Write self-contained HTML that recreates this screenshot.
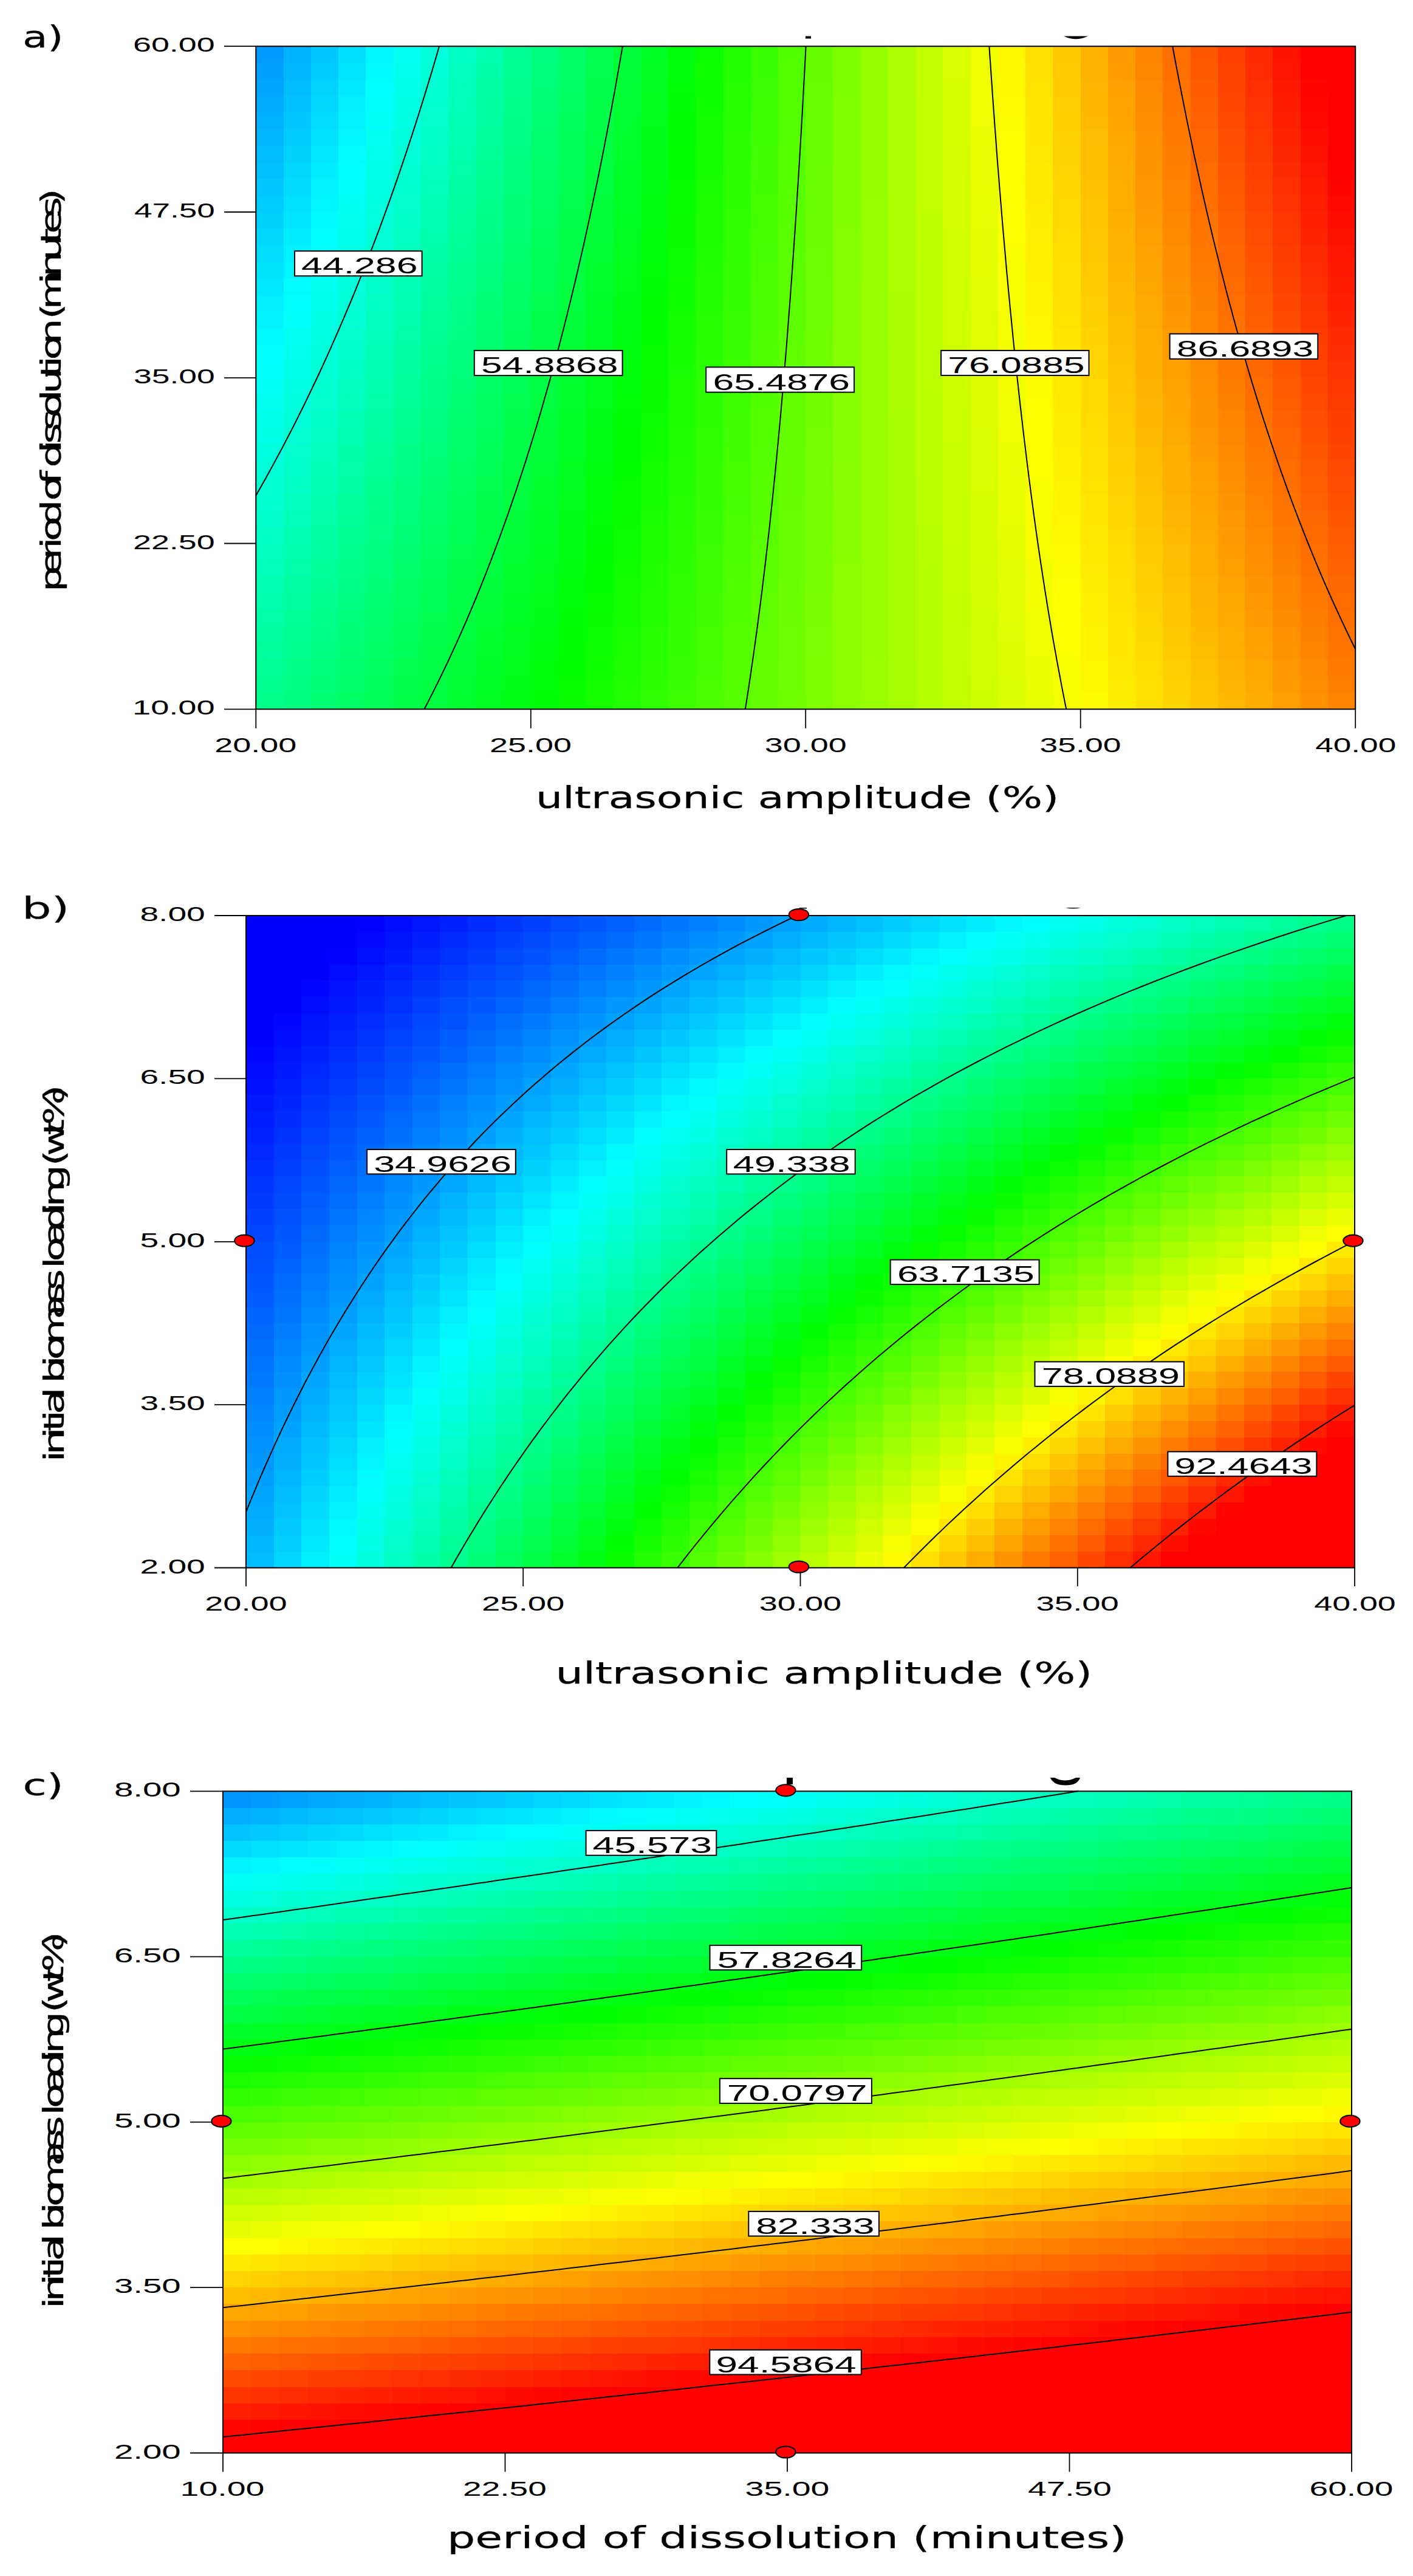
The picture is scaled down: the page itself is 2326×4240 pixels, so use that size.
<!DOCTYPE html>
<html lang="en"><head><meta charset="utf-8"><title>Contour plots</title>
<style>html,body{margin:0;padding:0;background:#fff}svg{display:block}text{fill:#000;stroke:#000}.n{font-family:"Liberation Sans",Arial,sans-serif;stroke:none}.t{font-family:"DejaVu Sans","Liberation Sans",sans-serif;stroke-width:.25px}</style></head>
<body>
<svg width="2326" height="4240" viewBox="0 0 2326 4240">
<rect width="2326" height="4240" fill="#fff"/>
<g shape-rendering="crispEdges" transform="translate(421.3 76.2) scale(45.24750 27.27750)">
<rect x="0" y="0" width="1" height="1" fill="#009bff"/><rect x="1" y="0" width="1" height="1" fill="#00b2ff"/><rect x="2" y="0" width="1" height="1" fill="#00c8ff"/><rect x="3" y="0" width="1" height="1" fill="#00dfff"/><rect x="4" y="0" width="1" height="1" fill="#00f6ff"/><rect x="5" y="0" width="1" height="1" fill="#00fff1"/><rect x="6" y="0" width="1" height="1" fill="#00ffda"/><rect x="7" y="0" width="1" height="1" fill="#00ffc3"/><rect x="8" y="0" width="1" height="1" fill="#00ffac"/><rect x="9" y="0" width="1" height="1" fill="#00ff95"/><rect x="10" y="0" width="1" height="1" fill="#00ff7e"/><rect x="11" y="0" width="1" height="1" fill="#00ff67"/><rect x="12" y="0" width="1" height="1" fill="#00ff51"/><rect x="13" y="0" width="1" height="1" fill="#00ff3a"/><rect x="14" y="0" width="1" height="1" fill="#00ff23"/><rect x="15" y="0" width="1" height="1" fill="#00ff0c"/><rect x="16" y="0" width="1" height="1" fill="#0bff00"/><rect x="17" y="0" width="1" height="1" fill="#22ff00"/><rect x="18" y="0" width="1" height="1" fill="#39ff00"/><rect x="19" y="0" width="1" height="1" fill="#50ff00"/><rect x="20" y="0" width="1" height="1" fill="#67ff00"/><rect x="21" y="0" width="1" height="1" fill="#7eff00"/><rect x="22" y="0" width="1" height="1" fill="#95ff00"/><rect x="23" y="0" width="1" height="1" fill="#abff00"/><rect x="24" y="0" width="1" height="1" fill="#c2ff00"/><rect x="25" y="0" width="1" height="1" fill="#d9ff00"/><rect x="26" y="0" width="1" height="1" fill="#f0ff00"/><rect x="27" y="0" width="1" height="1" fill="#fff700"/><rect x="28" y="0" width="1" height="1" fill="#ffe000"/><rect x="29" y="0" width="1" height="1" fill="#ffc900"/><rect x="30" y="0" width="1" height="1" fill="#ffb200"/><rect x="31" y="0" width="1" height="1" fill="#ff9b00"/><rect x="32" y="0" width="1" height="1" fill="#ff8400"/><rect x="33" y="0" width="1" height="1" fill="#ff6e00"/><rect x="34" y="0" width="1" height="1" fill="#ff5700"/><rect x="35" y="0" width="1" height="1" fill="#ff4000"/><rect x="36" y="0" width="1" height="1" fill="#ff2900"/><rect x="37" y="0" width="1" height="1" fill="#ff1200"/><rect x="38" y="0" width="2" height="1" fill="#ff0000"/>
<rect x="0" y="1" width="1" height="1" fill="#00a0ff"/><rect x="1" y="1" width="1" height="1" fill="#00b7ff"/><rect x="2" y="1" width="1" height="1" fill="#00cdff"/><rect x="3" y="1" width="1" height="1" fill="#00e4ff"/><rect x="4" y="1" width="1" height="1" fill="#00fbff"/><rect x="5" y="1" width="1" height="1" fill="#00ffed"/><rect x="6" y="1" width="1" height="1" fill="#00ffd6"/><rect x="7" y="1" width="1" height="1" fill="#00ffbf"/><rect x="8" y="1" width="1" height="1" fill="#00ffa9"/><rect x="9" y="1" width="1" height="1" fill="#00ff92"/><rect x="10" y="1" width="1" height="1" fill="#00ff7b"/><rect x="11" y="1" width="1" height="1" fill="#00ff65"/><rect x="12" y="1" width="1" height="1" fill="#00ff4e"/><rect x="13" y="1" width="1" height="1" fill="#00ff37"/><rect x="14" y="1" width="1" height="1" fill="#00ff21"/><rect x="15" y="1" width="1" height="1" fill="#00ff0a"/><rect x="16" y="1" width="1" height="1" fill="#0dff00"/><rect x="17" y="1" width="1" height="1" fill="#23ff00"/><rect x="18" y="1" width="1" height="1" fill="#3aff00"/><rect x="19" y="1" width="1" height="1" fill="#51ff00"/><rect x="20" y="1" width="1" height="1" fill="#67ff00"/><rect x="21" y="1" width="1" height="1" fill="#7eff00"/><rect x="22" y="1" width="1" height="1" fill="#95ff00"/><rect x="23" y="1" width="1" height="1" fill="#abff00"/><rect x="24" y="1" width="1" height="1" fill="#c2ff00"/><rect x="25" y="1" width="1" height="1" fill="#d9ff00"/><rect x="26" y="1" width="1" height="1" fill="#efff00"/><rect x="27" y="1" width="1" height="1" fill="#fff800"/><rect x="28" y="1" width="1" height="1" fill="#ffe100"/><rect x="29" y="1" width="1" height="1" fill="#ffcb00"/><rect x="30" y="1" width="1" height="1" fill="#ffb400"/><rect x="31" y="1" width="1" height="1" fill="#ff9d00"/><rect x="32" y="1" width="1" height="1" fill="#ff8700"/><rect x="33" y="1" width="1" height="1" fill="#ff7000"/><rect x="34" y="1" width="1" height="1" fill="#ff5900"/><rect x="35" y="1" width="1" height="1" fill="#ff4300"/><rect x="36" y="1" width="1" height="1" fill="#ff2c00"/><rect x="37" y="1" width="1" height="1" fill="#ff1500"/><rect x="38" y="1" width="2" height="1" fill="#ff0000"/>
<rect x="0" y="2" width="1" height="1" fill="#00a6ff"/><rect x="1" y="2" width="1" height="1" fill="#00bcff"/><rect x="2" y="2" width="1" height="1" fill="#00d3ff"/><rect x="3" y="2" width="1" height="1" fill="#00e9ff"/><rect x="4" y="2" width="1" height="1" fill="#00ffff"/><rect x="5" y="2" width="1" height="1" fill="#00ffe8"/><rect x="6" y="2" width="1" height="1" fill="#00ffd2"/><rect x="7" y="2" width="1" height="1" fill="#00ffbb"/><rect x="8" y="2" width="1" height="1" fill="#00ffa5"/><rect x="9" y="2" width="1" height="1" fill="#00ff8f"/><rect x="10" y="2" width="1" height="1" fill="#00ff78"/><rect x="11" y="2" width="1" height="1" fill="#00ff62"/><rect x="12" y="2" width="1" height="1" fill="#00ff4b"/><rect x="13" y="2" width="1" height="1" fill="#00ff35"/><rect x="14" y="2" width="1" height="1" fill="#00ff1f"/><rect x="15" y="2" width="1" height="1" fill="#00ff08"/><rect x="16" y="2" width="1" height="1" fill="#0eff00"/><rect x="17" y="2" width="1" height="1" fill="#25ff00"/><rect x="18" y="2" width="1" height="1" fill="#3bff00"/><rect x="19" y="2" width="1" height="1" fill="#52ff00"/><rect x="20" y="2" width="1" height="1" fill="#68ff00"/><rect x="21" y="2" width="1" height="1" fill="#7eff00"/><rect x="22" y="2" width="1" height="1" fill="#95ff00"/><rect x="23" y="2" width="1" height="1" fill="#abff00"/><rect x="24" y="2" width="1" height="1" fill="#c2ff00"/><rect x="25" y="2" width="1" height="1" fill="#d8ff00"/><rect x="26" y="2" width="1" height="1" fill="#eeff00"/><rect x="27" y="2" width="1" height="1" fill="#fff900"/><rect x="28" y="2" width="1" height="1" fill="#ffe300"/><rect x="29" y="2" width="1" height="1" fill="#ffcc00"/><rect x="30" y="2" width="1" height="1" fill="#ffb600"/><rect x="31" y="2" width="1" height="1" fill="#ffa000"/><rect x="32" y="2" width="1" height="1" fill="#ff8900"/><rect x="33" y="2" width="1" height="1" fill="#ff7300"/><rect x="34" y="2" width="1" height="1" fill="#ff5c00"/><rect x="35" y="2" width="1" height="1" fill="#ff4600"/><rect x="36" y="2" width="1" height="1" fill="#ff2f00"/><rect x="37" y="2" width="1" height="1" fill="#ff1900"/><rect x="38" y="2" width="1" height="1" fill="#ff0300"/><rect x="39" y="2" width="1" height="1" fill="#ff0000"/>
<rect x="0" y="3" width="1" height="1" fill="#00abff"/><rect x="1" y="3" width="1" height="1" fill="#00c1ff"/><rect x="2" y="3" width="1" height="1" fill="#00d8ff"/><rect x="3" y="3" width="1" height="1" fill="#00eeff"/><rect x="4" y="3" width="1" height="1" fill="#00fffa"/><rect x="5" y="3" width="1" height="1" fill="#00ffe4"/><rect x="6" y="3" width="1" height="1" fill="#00ffce"/><rect x="7" y="3" width="1" height="1" fill="#00ffb8"/><rect x="8" y="3" width="1" height="1" fill="#00ffa1"/><rect x="9" y="3" width="1" height="1" fill="#00ff8b"/><rect x="10" y="3" width="1" height="1" fill="#00ff75"/><rect x="11" y="3" width="1" height="1" fill="#00ff5f"/><rect x="12" y="3" width="1" height="1" fill="#00ff49"/><rect x="13" y="3" width="1" height="1" fill="#00ff33"/><rect x="14" y="3" width="1" height="1" fill="#00ff1c"/><rect x="15" y="3" width="1" height="1" fill="#00ff06"/><rect x="16" y="3" width="1" height="1" fill="#10ff00"/><rect x="17" y="3" width="1" height="1" fill="#26ff00"/><rect x="18" y="3" width="1" height="1" fill="#3cff00"/><rect x="19" y="3" width="1" height="1" fill="#52ff00"/><rect x="20" y="3" width="1" height="1" fill="#69ff00"/><rect x="21" y="3" width="1" height="1" fill="#7fff00"/><rect x="22" y="3" width="1" height="1" fill="#95ff00"/><rect x="23" y="3" width="1" height="1" fill="#abff00"/><rect x="24" y="3" width="1" height="1" fill="#c1ff00"/><rect x="25" y="3" width="1" height="1" fill="#d7ff00"/><rect x="26" y="3" width="1" height="1" fill="#eeff00"/><rect x="27" y="3" width="1" height="1" fill="#fffa00"/><rect x="28" y="3" width="1" height="1" fill="#ffe400"/><rect x="29" y="3" width="1" height="1" fill="#ffce00"/><rect x="30" y="3" width="1" height="1" fill="#ffb800"/><rect x="31" y="3" width="1" height="1" fill="#ffa200"/><rect x="32" y="3" width="1" height="1" fill="#ff8c00"/><rect x="33" y="3" width="1" height="1" fill="#ff7500"/><rect x="34" y="3" width="1" height="1" fill="#ff5f00"/><rect x="35" y="3" width="1" height="1" fill="#ff4900"/><rect x="36" y="3" width="1" height="1" fill="#ff3300"/><rect x="37" y="3" width="1" height="1" fill="#ff1d00"/><rect x="38" y="3" width="1" height="1" fill="#ff0700"/><rect x="39" y="3" width="1" height="1" fill="#ff0000"/>
<rect x="0" y="4" width="1" height="1" fill="#00b1ff"/><rect x="1" y="4" width="1" height="1" fill="#00c7ff"/><rect x="2" y="4" width="1" height="1" fill="#00ddff"/><rect x="3" y="4" width="1" height="1" fill="#00f3ff"/><rect x="4" y="4" width="1" height="1" fill="#00fff6"/><rect x="5" y="4" width="1" height="1" fill="#00ffe0"/><rect x="6" y="4" width="1" height="1" fill="#00ffca"/><rect x="7" y="4" width="1" height="1" fill="#00ffb4"/><rect x="8" y="4" width="1" height="1" fill="#00ff9e"/><rect x="9" y="4" width="1" height="1" fill="#00ff88"/><rect x="10" y="4" width="1" height="1" fill="#00ff72"/><rect x="11" y="4" width="1" height="1" fill="#00ff5c"/><rect x="12" y="4" width="1" height="1" fill="#00ff46"/><rect x="13" y="4" width="1" height="1" fill="#00ff30"/><rect x="14" y="4" width="1" height="1" fill="#00ff1a"/><rect x="15" y="4" width="1" height="1" fill="#00ff04"/><rect x="16" y="4" width="1" height="1" fill="#11ff00"/><rect x="17" y="4" width="1" height="1" fill="#27ff00"/><rect x="18" y="4" width="1" height="1" fill="#3dff00"/><rect x="19" y="4" width="1" height="1" fill="#53ff00"/><rect x="20" y="4" width="1" height="1" fill="#69ff00"/><rect x="21" y="4" width="1" height="1" fill="#7fff00"/><rect x="22" y="4" width="1" height="1" fill="#95ff00"/><rect x="23" y="4" width="1" height="1" fill="#abff00"/><rect x="24" y="4" width="1" height="1" fill="#c1ff00"/><rect x="25" y="4" width="1" height="1" fill="#d7ff00"/><rect x="26" y="4" width="1" height="1" fill="#edff00"/><rect x="27" y="4" width="1" height="1" fill="#fffb00"/><rect x="28" y="4" width="1" height="1" fill="#ffe600"/><rect x="29" y="4" width="1" height="1" fill="#ffd000"/><rect x="30" y="4" width="1" height="1" fill="#ffba00"/><rect x="31" y="4" width="1" height="1" fill="#ffa400"/><rect x="32" y="4" width="1" height="1" fill="#ff8e00"/><rect x="33" y="4" width="1" height="1" fill="#ff7800"/><rect x="34" y="4" width="1" height="1" fill="#ff6200"/><rect x="35" y="4" width="1" height="1" fill="#ff4c00"/><rect x="36" y="4" width="1" height="1" fill="#ff3600"/><rect x="37" y="4" width="1" height="1" fill="#ff2000"/><rect x="38" y="4" width="1" height="1" fill="#ff0a00"/><rect x="39" y="4" width="1" height="1" fill="#ff0000"/>
<rect x="0" y="5" width="1" height="1" fill="#00b6ff"/><rect x="1" y="5" width="1" height="1" fill="#00ccff"/><rect x="2" y="5" width="1" height="1" fill="#00e2ff"/><rect x="3" y="5" width="1" height="1" fill="#00f7ff"/><rect x="4" y="5" width="1" height="1" fill="#00fff1"/><rect x="5" y="5" width="1" height="1" fill="#00ffdb"/><rect x="6" y="5" width="1" height="1" fill="#00ffc6"/><rect x="7" y="5" width="1" height="1" fill="#00ffb0"/><rect x="8" y="5" width="1" height="1" fill="#00ff9a"/><rect x="9" y="5" width="1" height="1" fill="#00ff85"/><rect x="10" y="5" width="1" height="1" fill="#00ff6f"/><rect x="11" y="5" width="1" height="1" fill="#00ff59"/><rect x="12" y="5" width="1" height="1" fill="#00ff44"/><rect x="13" y="5" width="1" height="1" fill="#00ff2e"/><rect x="14" y="5" width="1" height="1" fill="#00ff18"/><rect x="15" y="5" width="1" height="1" fill="#00ff03"/><rect x="16" y="5" width="1" height="1" fill="#13ff00"/><rect x="17" y="5" width="1" height="1" fill="#29ff00"/><rect x="18" y="5" width="1" height="1" fill="#3eff00"/><rect x="19" y="5" width="1" height="1" fill="#54ff00"/><rect x="20" y="5" width="1" height="1" fill="#6aff00"/><rect x="21" y="5" width="1" height="1" fill="#7fff00"/><rect x="22" y="5" width="1" height="1" fill="#95ff00"/><rect x="23" y="5" width="1" height="1" fill="#abff00"/><rect x="24" y="5" width="1" height="1" fill="#c0ff00"/><rect x="25" y="5" width="1" height="1" fill="#d6ff00"/><rect x="26" y="5" width="1" height="1" fill="#ecff00"/><rect x="27" y="5" width="1" height="1" fill="#fffd00"/><rect x="28" y="5" width="1" height="1" fill="#ffe700"/><rect x="29" y="5" width="1" height="1" fill="#ffd100"/><rect x="30" y="5" width="1" height="1" fill="#ffbc00"/><rect x="31" y="5" width="1" height="1" fill="#ffa600"/><rect x="32" y="5" width="1" height="1" fill="#ff9000"/><rect x="33" y="5" width="1" height="1" fill="#ff7b00"/><rect x="34" y="5" width="1" height="1" fill="#ff6500"/><rect x="35" y="5" width="1" height="1" fill="#ff4f00"/><rect x="36" y="5" width="1" height="1" fill="#ff3a00"/><rect x="37" y="5" width="1" height="1" fill="#ff2400"/><rect x="38" y="5" width="1" height="1" fill="#ff0e00"/><rect x="39" y="5" width="1" height="1" fill="#ff0000"/>
<rect x="0" y="6" width="1" height="1" fill="#00bcff"/><rect x="1" y="6" width="1" height="1" fill="#00d1ff"/><rect x="2" y="6" width="1" height="1" fill="#00e7ff"/><rect x="3" y="6" width="1" height="1" fill="#00fcff"/><rect x="4" y="6" width="1" height="1" fill="#00ffec"/><rect x="5" y="6" width="1" height="1" fill="#00ffd7"/><rect x="6" y="6" width="1" height="1" fill="#00ffc2"/><rect x="7" y="6" width="1" height="1" fill="#00ffac"/><rect x="8" y="6" width="1" height="1" fill="#00ff97"/><rect x="9" y="6" width="1" height="1" fill="#00ff81"/><rect x="10" y="6" width="1" height="1" fill="#00ff6c"/><rect x="11" y="6" width="1" height="1" fill="#00ff56"/><rect x="12" y="6" width="1" height="1" fill="#00ff41"/><rect x="13" y="6" width="1" height="1" fill="#00ff2c"/><rect x="14" y="6" width="1" height="1" fill="#00ff16"/><rect x="15" y="6" width="1" height="1" fill="#00ff01"/><rect x="16" y="6" width="1" height="1" fill="#15ff00"/><rect x="17" y="6" width="1" height="1" fill="#2aff00"/><rect x="18" y="6" width="1" height="1" fill="#3fff00"/><rect x="19" y="6" width="1" height="1" fill="#55ff00"/><rect x="20" y="6" width="1" height="1" fill="#6aff00"/><rect x="21" y="6" width="1" height="1" fill="#80ff00"/><rect x="22" y="6" width="1" height="1" fill="#95ff00"/><rect x="23" y="6" width="1" height="1" fill="#abff00"/><rect x="24" y="6" width="1" height="1" fill="#c0ff00"/><rect x="25" y="6" width="1" height="1" fill="#d5ff00"/><rect x="26" y="6" width="1" height="1" fill="#ebff00"/><rect x="27" y="6" width="1" height="1" fill="#fffe00"/><rect x="28" y="6" width="1" height="1" fill="#ffe800"/><rect x="29" y="6" width="1" height="1" fill="#ffd300"/><rect x="30" y="6" width="1" height="1" fill="#ffbd00"/><rect x="31" y="6" width="1" height="1" fill="#ffa800"/><rect x="32" y="6" width="1" height="1" fill="#ff9300"/><rect x="33" y="6" width="1" height="1" fill="#ff7d00"/><rect x="34" y="6" width="1" height="1" fill="#ff6800"/><rect x="35" y="6" width="1" height="1" fill="#ff5200"/><rect x="36" y="6" width="1" height="1" fill="#ff3d00"/><rect x="37" y="6" width="1" height="1" fill="#ff2700"/><rect x="38" y="6" width="1" height="1" fill="#ff1200"/><rect x="39" y="6" width="1" height="1" fill="#ff0000"/>
<rect x="0" y="7" width="1" height="1" fill="#00c1ff"/><rect x="1" y="7" width="1" height="1" fill="#00d7ff"/><rect x="2" y="7" width="1" height="1" fill="#00ecff"/><rect x="3" y="7" width="1" height="1" fill="#00fffd"/><rect x="4" y="7" width="1" height="1" fill="#00ffe8"/><rect x="5" y="7" width="1" height="1" fill="#00ffd3"/><rect x="6" y="7" width="1" height="1" fill="#00ffbe"/><rect x="7" y="7" width="1" height="1" fill="#00ffa8"/><rect x="8" y="7" width="1" height="1" fill="#00ff93"/><rect x="9" y="7" width="1" height="1" fill="#00ff7e"/><rect x="10" y="7" width="1" height="1" fill="#00ff69"/><rect x="11" y="7" width="1" height="1" fill="#00ff54"/><rect x="12" y="7" width="1" height="1" fill="#00ff3e"/><rect x="13" y="7" width="1" height="1" fill="#00ff29"/><rect x="14" y="7" width="1" height="1" fill="#00ff14"/><rect x="15" y="7" width="1" height="1" fill="#01ff00"/><rect x="16" y="7" width="1" height="1" fill="#16ff00"/><rect x="17" y="7" width="1" height="1" fill="#2bff00"/><rect x="18" y="7" width="1" height="1" fill="#41ff00"/><rect x="19" y="7" width="1" height="1" fill="#56ff00"/><rect x="20" y="7" width="1" height="1" fill="#6bff00"/><rect x="21" y="7" width="1" height="1" fill="#80ff00"/><rect x="22" y="7" width="1" height="1" fill="#95ff00"/><rect x="23" y="7" width="1" height="1" fill="#aaff00"/><rect x="24" y="7" width="1" height="1" fill="#c0ff00"/><rect x="25" y="7" width="1" height="1" fill="#d5ff00"/><rect x="26" y="7" width="1" height="1" fill="#eaff00"/><rect x="27" y="7" width="1" height="1" fill="#ffff00"/><rect x="28" y="7" width="1" height="1" fill="#ffea00"/><rect x="29" y="7" width="1" height="1" fill="#ffd400"/><rect x="30" y="7" width="1" height="1" fill="#ffbf00"/><rect x="31" y="7" width="1" height="1" fill="#ffaa00"/><rect x="32" y="7" width="1" height="1" fill="#ff9500"/><rect x="33" y="7" width="1" height="1" fill="#ff8000"/><rect x="34" y="7" width="1" height="1" fill="#ff6b00"/><rect x="35" y="7" width="1" height="1" fill="#ff5500"/><rect x="36" y="7" width="1" height="1" fill="#ff4000"/><rect x="37" y="7" width="1" height="1" fill="#ff2b00"/><rect x="38" y="7" width="1" height="1" fill="#ff1600"/><rect x="39" y="7" width="1" height="1" fill="#ff0100"/>
<rect x="0" y="8" width="1" height="1" fill="#00c7ff"/><rect x="1" y="8" width="1" height="1" fill="#00dcff"/><rect x="2" y="8" width="1" height="1" fill="#00f1ff"/><rect x="3" y="8" width="1" height="1" fill="#00fff8"/><rect x="4" y="8" width="1" height="1" fill="#00ffe3"/><rect x="5" y="8" width="1" height="1" fill="#00ffce"/><rect x="6" y="8" width="1" height="1" fill="#00ffb9"/><rect x="7" y="8" width="1" height="1" fill="#00ffa5"/><rect x="8" y="8" width="1" height="1" fill="#00ff90"/><rect x="9" y="8" width="1" height="1" fill="#00ff7b"/><rect x="10" y="8" width="1" height="1" fill="#00ff66"/><rect x="11" y="8" width="1" height="1" fill="#00ff51"/><rect x="12" y="8" width="1" height="1" fill="#00ff3c"/><rect x="13" y="8" width="1" height="1" fill="#00ff27"/><rect x="14" y="8" width="1" height="1" fill="#00ff12"/><rect x="15" y="8" width="1" height="1" fill="#03ff00"/><rect x="16" y="8" width="1" height="1" fill="#18ff00"/><rect x="17" y="8" width="1" height="1" fill="#2dff00"/><rect x="18" y="8" width="1" height="1" fill="#42ff00"/><rect x="19" y="8" width="1" height="1" fill="#57ff00"/><rect x="20" y="8" width="1" height="1" fill="#6cff00"/><rect x="21" y="8" width="1" height="1" fill="#80ff00"/><rect x="22" y="8" width="1" height="1" fill="#95ff00"/><rect x="23" y="8" width="1" height="1" fill="#aaff00"/><rect x="24" y="8" width="1" height="1" fill="#bfff00"/><rect x="25" y="8" width="1" height="1" fill="#d4ff00"/><rect x="26" y="8" width="1" height="1" fill="#e9ff00"/><rect x="27" y="8" width="1" height="1" fill="#feff00"/><rect x="28" y="8" width="1" height="1" fill="#ffeb00"/><rect x="29" y="8" width="1" height="1" fill="#ffd600"/><rect x="30" y="8" width="1" height="1" fill="#ffc100"/><rect x="31" y="8" width="1" height="1" fill="#ffac00"/><rect x="32" y="8" width="1" height="1" fill="#ff9700"/><rect x="33" y="8" width="1" height="1" fill="#ff8200"/><rect x="34" y="8" width="1" height="1" fill="#ff6d00"/><rect x="35" y="8" width="1" height="1" fill="#ff5900"/><rect x="36" y="8" width="1" height="1" fill="#ff4400"/><rect x="37" y="8" width="1" height="1" fill="#ff2f00"/><rect x="38" y="8" width="1" height="1" fill="#ff1a00"/><rect x="39" y="8" width="1" height="1" fill="#ff0500"/>
<rect x="0" y="9" width="1" height="1" fill="#00cdff"/><rect x="1" y="9" width="1" height="1" fill="#00e1ff"/><rect x="2" y="9" width="1" height="1" fill="#00f6ff"/><rect x="3" y="9" width="1" height="1" fill="#00fff3"/><rect x="4" y="9" width="1" height="1" fill="#00ffdf"/><rect x="5" y="9" width="1" height="1" fill="#00ffca"/><rect x="6" y="9" width="1" height="1" fill="#00ffb5"/><rect x="7" y="9" width="1" height="1" fill="#00ffa1"/><rect x="8" y="9" width="1" height="1" fill="#00ff8c"/><rect x="9" y="9" width="1" height="1" fill="#00ff77"/><rect x="10" y="9" width="1" height="1" fill="#00ff63"/><rect x="11" y="9" width="1" height="1" fill="#00ff4e"/><rect x="12" y="9" width="1" height="1" fill="#00ff39"/><rect x="13" y="9" width="1" height="1" fill="#00ff25"/><rect x="14" y="9" width="1" height="1" fill="#00ff10"/><rect x="15" y="9" width="1" height="1" fill="#05ff00"/><rect x="16" y="9" width="1" height="1" fill="#19ff00"/><rect x="17" y="9" width="1" height="1" fill="#2eff00"/><rect x="18" y="9" width="1" height="1" fill="#43ff00"/><rect x="19" y="9" width="1" height="1" fill="#57ff00"/><rect x="20" y="9" width="1" height="1" fill="#6cff00"/><rect x="21" y="9" width="1" height="1" fill="#81ff00"/><rect x="22" y="9" width="1" height="1" fill="#96ff00"/><rect x="23" y="9" width="1" height="1" fill="#aaff00"/><rect x="24" y="9" width="1" height="1" fill="#bfff00"/><rect x="25" y="9" width="1" height="1" fill="#d4ff00"/><rect x="26" y="9" width="1" height="1" fill="#e8ff00"/><rect x="27" y="9" width="1" height="1" fill="#fdff00"/><rect x="28" y="9" width="1" height="1" fill="#ffec00"/><rect x="29" y="9" width="1" height="1" fill="#ffd800"/><rect x="30" y="9" width="1" height="1" fill="#ffc300"/><rect x="31" y="9" width="1" height="1" fill="#ffae00"/><rect x="32" y="9" width="1" height="1" fill="#ff9a00"/><rect x="33" y="9" width="1" height="1" fill="#ff8500"/><rect x="34" y="9" width="1" height="1" fill="#ff7000"/><rect x="35" y="9" width="1" height="1" fill="#ff5c00"/><rect x="36" y="9" width="1" height="1" fill="#ff4700"/><rect x="37" y="9" width="1" height="1" fill="#ff3200"/><rect x="38" y="9" width="1" height="1" fill="#ff1e00"/><rect x="39" y="9" width="1" height="1" fill="#ff0900"/>
<rect x="0" y="10" width="1" height="1" fill="#00d2ff"/><rect x="1" y="10" width="1" height="1" fill="#00e6ff"/><rect x="2" y="10" width="1" height="1" fill="#00fbff"/><rect x="3" y="10" width="1" height="1" fill="#00ffef"/><rect x="4" y="10" width="1" height="1" fill="#00ffda"/><rect x="5" y="10" width="1" height="1" fill="#00ffc6"/><rect x="6" y="10" width="1" height="1" fill="#00ffb1"/><rect x="7" y="10" width="1" height="1" fill="#00ff9d"/><rect x="8" y="10" width="1" height="1" fill="#00ff88"/><rect x="9" y="10" width="1" height="1" fill="#00ff74"/><rect x="10" y="10" width="1" height="1" fill="#00ff60"/><rect x="11" y="10" width="1" height="1" fill="#00ff4b"/><rect x="12" y="10" width="1" height="1" fill="#00ff37"/><rect x="13" y="10" width="1" height="1" fill="#00ff22"/><rect x="14" y="10" width="1" height="1" fill="#00ff0e"/><rect x="15" y="10" width="1" height="1" fill="#07ff00"/><rect x="16" y="10" width="1" height="1" fill="#1bff00"/><rect x="17" y="10" width="1" height="1" fill="#2fff00"/><rect x="18" y="10" width="1" height="1" fill="#44ff00"/><rect x="19" y="10" width="1" height="1" fill="#58ff00"/><rect x="20" y="10" width="1" height="1" fill="#6dff00"/><rect x="21" y="10" width="1" height="1" fill="#81ff00"/><rect x="22" y="10" width="1" height="1" fill="#96ff00"/><rect x="23" y="10" width="1" height="1" fill="#aaff00"/><rect x="24" y="10" width="1" height="1" fill="#beff00"/><rect x="25" y="10" width="1" height="1" fill="#d3ff00"/><rect x="26" y="10" width="1" height="1" fill="#e7ff00"/><rect x="27" y="10" width="1" height="1" fill="#fcff00"/><rect x="28" y="10" width="1" height="1" fill="#ffee00"/><rect x="29" y="10" width="1" height="1" fill="#ffd900"/><rect x="30" y="10" width="1" height="1" fill="#ffc500"/><rect x="31" y="10" width="1" height="1" fill="#ffb000"/><rect x="32" y="10" width="1" height="1" fill="#ff9c00"/><rect x="33" y="10" width="1" height="1" fill="#ff8800"/><rect x="34" y="10" width="1" height="1" fill="#ff7300"/><rect x="35" y="10" width="1" height="1" fill="#ff5f00"/><rect x="36" y="10" width="1" height="1" fill="#ff4a00"/><rect x="37" y="10" width="1" height="1" fill="#ff3600"/><rect x="38" y="10" width="1" height="1" fill="#ff2100"/><rect x="39" y="10" width="1" height="1" fill="#ff0d00"/>
<rect x="0" y="11" width="1" height="1" fill="#00d8ff"/><rect x="1" y="11" width="1" height="1" fill="#00ecff"/><rect x="2" y="11" width="1" height="1" fill="#00fffe"/><rect x="3" y="11" width="1" height="1" fill="#00ffea"/><rect x="4" y="11" width="1" height="1" fill="#00ffd6"/><rect x="5" y="11" width="1" height="1" fill="#00ffc1"/><rect x="6" y="11" width="1" height="1" fill="#00ffad"/><rect x="7" y="11" width="1" height="1" fill="#00ff99"/><rect x="8" y="11" width="1" height="1" fill="#00ff85"/><rect x="9" y="11" width="1" height="1" fill="#00ff71"/><rect x="10" y="11" width="1" height="1" fill="#00ff5d"/><rect x="11" y="11" width="1" height="1" fill="#00ff48"/><rect x="12" y="11" width="1" height="1" fill="#00ff34"/><rect x="13" y="11" width="1" height="1" fill="#00ff20"/><rect x="14" y="11" width="1" height="1" fill="#00ff0c"/><rect x="15" y="11" width="1" height="1" fill="#08ff00"/><rect x="16" y="11" width="1" height="1" fill="#1dff00"/><rect x="17" y="11" width="1" height="1" fill="#31ff00"/><rect x="18" y="11" width="1" height="1" fill="#45ff00"/><rect x="19" y="11" width="1" height="1" fill="#59ff00"/><rect x="20" y="11" width="1" height="1" fill="#6dff00"/><rect x="21" y="11" width="1" height="1" fill="#82ff00"/><rect x="22" y="11" width="1" height="1" fill="#96ff00"/><rect x="23" y="11" width="1" height="1" fill="#aaff00"/><rect x="24" y="11" width="1" height="1" fill="#beff00"/><rect x="25" y="11" width="1" height="1" fill="#d2ff00"/><rect x="26" y="11" width="1" height="1" fill="#e6ff00"/><rect x="27" y="11" width="1" height="1" fill="#fbff00"/><rect x="28" y="11" width="1" height="1" fill="#ffef00"/><rect x="29" y="11" width="1" height="1" fill="#ffdb00"/><rect x="30" y="11" width="1" height="1" fill="#ffc700"/><rect x="31" y="11" width="1" height="1" fill="#ffb300"/><rect x="32" y="11" width="1" height="1" fill="#ff9e00"/><rect x="33" y="11" width="1" height="1" fill="#ff8a00"/><rect x="34" y="11" width="1" height="1" fill="#ff7600"/><rect x="35" y="11" width="1" height="1" fill="#ff6200"/><rect x="36" y="11" width="1" height="1" fill="#ff4e00"/><rect x="37" y="11" width="1" height="1" fill="#ff3900"/><rect x="38" y="11" width="1" height="1" fill="#ff2500"/><rect x="39" y="11" width="1" height="1" fill="#ff1100"/>
<rect x="0" y="12" width="1" height="1" fill="#00ddff"/><rect x="1" y="12" width="1" height="1" fill="#00f1ff"/><rect x="2" y="12" width="1" height="1" fill="#00fff9"/><rect x="3" y="12" width="1" height="1" fill="#00ffe5"/><rect x="4" y="12" width="1" height="1" fill="#00ffd1"/><rect x="5" y="12" width="1" height="1" fill="#00ffbd"/><rect x="6" y="12" width="1" height="1" fill="#00ffa9"/><rect x="7" y="12" width="1" height="1" fill="#00ff95"/><rect x="8" y="12" width="1" height="1" fill="#00ff81"/><rect x="9" y="12" width="1" height="1" fill="#00ff6d"/><rect x="10" y="12" width="1" height="1" fill="#00ff59"/><rect x="11" y="12" width="1" height="1" fill="#00ff46"/><rect x="12" y="12" width="1" height="1" fill="#00ff32"/><rect x="13" y="12" width="1" height="1" fill="#00ff1e"/><rect x="14" y="12" width="1" height="1" fill="#00ff0a"/><rect x="15" y="12" width="1" height="1" fill="#0aff00"/><rect x="16" y="12" width="1" height="1" fill="#1eff00"/><rect x="17" y="12" width="1" height="1" fill="#32ff00"/><rect x="18" y="12" width="1" height="1" fill="#46ff00"/><rect x="19" y="12" width="1" height="1" fill="#5aff00"/><rect x="20" y="12" width="1" height="1" fill="#6eff00"/><rect x="21" y="12" width="1" height="1" fill="#82ff00"/><rect x="22" y="12" width="1" height="1" fill="#96ff00"/><rect x="23" y="12" width="1" height="1" fill="#aaff00"/><rect x="24" y="12" width="1" height="1" fill="#beff00"/><rect x="25" y="12" width="1" height="1" fill="#d2ff00"/><rect x="26" y="12" width="1" height="1" fill="#e6ff00"/><rect x="27" y="12" width="1" height="1" fill="#faff00"/><rect x="28" y="12" width="1" height="1" fill="#fff100"/><rect x="29" y="12" width="1" height="1" fill="#ffdd00"/><rect x="30" y="12" width="1" height="1" fill="#ffc900"/><rect x="31" y="12" width="1" height="1" fill="#ffb500"/><rect x="32" y="12" width="1" height="1" fill="#ffa100"/><rect x="33" y="12" width="1" height="1" fill="#ff8d00"/><rect x="34" y="12" width="1" height="1" fill="#ff7900"/><rect x="35" y="12" width="1" height="1" fill="#ff6500"/><rect x="36" y="12" width="1" height="1" fill="#ff5100"/><rect x="37" y="12" width="1" height="1" fill="#ff3d00"/><rect x="38" y="12" width="1" height="1" fill="#ff2900"/><rect x="39" y="12" width="1" height="1" fill="#ff1500"/>
<rect x="0" y="13" width="1" height="1" fill="#00e3ff"/><rect x="1" y="13" width="1" height="1" fill="#00f6ff"/><rect x="2" y="13" width="1" height="1" fill="#00fff4"/><rect x="3" y="13" width="1" height="1" fill="#00ffe0"/><rect x="4" y="13" width="1" height="1" fill="#00ffcd"/><rect x="5" y="13" width="1" height="1" fill="#00ffb9"/><rect x="6" y="13" width="1" height="1" fill="#00ffa5"/><rect x="7" y="13" width="1" height="1" fill="#00ff91"/><rect x="8" y="13" width="1" height="1" fill="#00ff7e"/><rect x="9" y="13" width="1" height="1" fill="#00ff6a"/><rect x="10" y="13" width="1" height="1" fill="#00ff56"/><rect x="11" y="13" width="1" height="1" fill="#00ff43"/><rect x="12" y="13" width="1" height="1" fill="#00ff2f"/><rect x="13" y="13" width="1" height="1" fill="#00ff1b"/><rect x="14" y="13" width="1" height="1" fill="#00ff08"/><rect x="15" y="13" width="1" height="1" fill="#0cff00"/><rect x="16" y="13" width="1" height="1" fill="#20ff00"/><rect x="17" y="13" width="1" height="1" fill="#33ff00"/><rect x="18" y="13" width="1" height="1" fill="#47ff00"/><rect x="19" y="13" width="1" height="1" fill="#5bff00"/><rect x="20" y="13" width="1" height="1" fill="#6fff00"/><rect x="21" y="13" width="1" height="1" fill="#82ff00"/><rect x="22" y="13" width="1" height="1" fill="#96ff00"/><rect x="23" y="13" width="1" height="1" fill="#aaff00"/><rect x="24" y="13" width="1" height="1" fill="#bdff00"/><rect x="25" y="13" width="1" height="1" fill="#d1ff00"/><rect x="26" y="13" width="1" height="1" fill="#e5ff00"/><rect x="27" y="13" width="1" height="1" fill="#f8ff00"/><rect x="28" y="13" width="1" height="1" fill="#fff200"/><rect x="29" y="13" width="1" height="1" fill="#ffde00"/><rect x="30" y="13" width="1" height="1" fill="#ffca00"/><rect x="31" y="13" width="1" height="1" fill="#ffb700"/><rect x="32" y="13" width="1" height="1" fill="#ffa300"/><rect x="33" y="13" width="1" height="1" fill="#ff8f00"/><rect x="34" y="13" width="1" height="1" fill="#ff7c00"/><rect x="35" y="13" width="1" height="1" fill="#ff6800"/><rect x="36" y="13" width="1" height="1" fill="#ff5400"/><rect x="37" y="13" width="1" height="1" fill="#ff4100"/><rect x="38" y="13" width="1" height="1" fill="#ff2d00"/><rect x="39" y="13" width="1" height="1" fill="#ff1900"/>
<rect x="0" y="14" width="1" height="1" fill="#00e8ff"/><rect x="1" y="14" width="1" height="1" fill="#00fcff"/><rect x="2" y="14" width="1" height="1" fill="#00ffef"/><rect x="3" y="14" width="1" height="1" fill="#00ffdb"/><rect x="4" y="14" width="1" height="1" fill="#00ffc8"/><rect x="5" y="14" width="1" height="1" fill="#00ffb5"/><rect x="6" y="14" width="1" height="1" fill="#00ffa1"/><rect x="7" y="14" width="1" height="1" fill="#00ff8e"/><rect x="8" y="14" width="1" height="1" fill="#00ff7a"/><rect x="9" y="14" width="1" height="1" fill="#00ff67"/><rect x="10" y="14" width="1" height="1" fill="#00ff53"/><rect x="11" y="14" width="1" height="1" fill="#00ff40"/><rect x="12" y="14" width="1" height="1" fill="#00ff2c"/><rect x="13" y="14" width="1" height="1" fill="#00ff19"/><rect x="14" y="14" width="1" height="1" fill="#00ff06"/><rect x="15" y="14" width="1" height="1" fill="#0eff00"/><rect x="16" y="14" width="1" height="1" fill="#21ff00"/><rect x="17" y="14" width="1" height="1" fill="#35ff00"/><rect x="18" y="14" width="1" height="1" fill="#48ff00"/><rect x="19" y="14" width="1" height="1" fill="#5cff00"/><rect x="20" y="14" width="1" height="1" fill="#6fff00"/><rect x="21" y="14" width="1" height="1" fill="#83ff00"/><rect x="22" y="14" width="1" height="1" fill="#96ff00"/><rect x="23" y="14" width="1" height="1" fill="#aaff00"/><rect x="24" y="14" width="1" height="1" fill="#bdff00"/><rect x="25" y="14" width="1" height="1" fill="#d0ff00"/><rect x="26" y="14" width="1" height="1" fill="#e4ff00"/><rect x="27" y="14" width="1" height="1" fill="#f7ff00"/><rect x="28" y="14" width="1" height="1" fill="#fff300"/><rect x="29" y="14" width="1" height="1" fill="#ffe000"/><rect x="30" y="14" width="1" height="1" fill="#ffcc00"/><rect x="31" y="14" width="1" height="1" fill="#ffb900"/><rect x="32" y="14" width="1" height="1" fill="#ffa500"/><rect x="33" y="14" width="1" height="1" fill="#ff9200"/><rect x="34" y="14" width="1" height="1" fill="#ff7f00"/><rect x="35" y="14" width="1" height="1" fill="#ff6b00"/><rect x="36" y="14" width="1" height="1" fill="#ff5800"/><rect x="37" y="14" width="1" height="1" fill="#ff4400"/><rect x="38" y="14" width="1" height="1" fill="#ff3100"/><rect x="39" y="14" width="1" height="1" fill="#ff1d00"/>
<rect x="0" y="15" width="1" height="1" fill="#00eeff"/><rect x="1" y="15" width="1" height="1" fill="#00fffd"/><rect x="2" y="15" width="1" height="1" fill="#00ffea"/><rect x="3" y="15" width="1" height="1" fill="#00ffd7"/><rect x="4" y="15" width="1" height="1" fill="#00ffc3"/><rect x="5" y="15" width="1" height="1" fill="#00ffb0"/><rect x="6" y="15" width="1" height="1" fill="#00ff9d"/><rect x="7" y="15" width="1" height="1" fill="#00ff8a"/><rect x="8" y="15" width="1" height="1" fill="#00ff77"/><rect x="9" y="15" width="1" height="1" fill="#00ff63"/><rect x="10" y="15" width="1" height="1" fill="#00ff50"/><rect x="11" y="15" width="1" height="1" fill="#00ff3d"/><rect x="12" y="15" width="1" height="1" fill="#00ff2a"/><rect x="13" y="15" width="1" height="1" fill="#00ff17"/><rect x="14" y="15" width="1" height="1" fill="#00ff03"/><rect x="15" y="15" width="1" height="1" fill="#10ff00"/><rect x="16" y="15" width="1" height="1" fill="#23ff00"/><rect x="17" y="15" width="1" height="1" fill="#36ff00"/><rect x="18" y="15" width="1" height="1" fill="#49ff00"/><rect x="19" y="15" width="1" height="1" fill="#5dff00"/><rect x="20" y="15" width="1" height="1" fill="#70ff00"/><rect x="21" y="15" width="1" height="1" fill="#83ff00"/><rect x="22" y="15" width="1" height="1" fill="#96ff00"/><rect x="23" y="15" width="1" height="1" fill="#a9ff00"/><rect x="24" y="15" width="1" height="1" fill="#bdff00"/><rect x="25" y="15" width="1" height="1" fill="#d0ff00"/><rect x="26" y="15" width="1" height="1" fill="#e3ff00"/><rect x="27" y="15" width="1" height="1" fill="#f6ff00"/><rect x="28" y="15" width="1" height="1" fill="#fff500"/><rect x="29" y="15" width="1" height="1" fill="#ffe100"/><rect x="30" y="15" width="1" height="1" fill="#ffce00"/><rect x="31" y="15" width="1" height="1" fill="#ffbb00"/><rect x="32" y="15" width="1" height="1" fill="#ffa800"/><rect x="33" y="15" width="1" height="1" fill="#ff9500"/><rect x="34" y="15" width="1" height="1" fill="#ff8100"/><rect x="35" y="15" width="1" height="1" fill="#ff6e00"/><rect x="36" y="15" width="1" height="1" fill="#ff5b00"/><rect x="37" y="15" width="1" height="1" fill="#ff4800"/><rect x="38" y="15" width="1" height="1" fill="#ff3500"/><rect x="39" y="15" width="1" height="1" fill="#ff2100"/>
<rect x="0" y="16" width="1" height="1" fill="#00f3ff"/><rect x="1" y="16" width="1" height="1" fill="#00fff8"/><rect x="2" y="16" width="1" height="1" fill="#00ffe5"/><rect x="3" y="16" width="1" height="1" fill="#00ffd2"/><rect x="4" y="16" width="1" height="1" fill="#00ffbf"/><rect x="5" y="16" width="1" height="1" fill="#00ffac"/><rect x="6" y="16" width="1" height="1" fill="#00ff99"/><rect x="7" y="16" width="1" height="1" fill="#00ff86"/><rect x="8" y="16" width="1" height="1" fill="#00ff73"/><rect x="9" y="16" width="1" height="1" fill="#00ff60"/><rect x="10" y="16" width="1" height="1" fill="#00ff4d"/><rect x="11" y="16" width="1" height="1" fill="#00ff3a"/><rect x="12" y="16" width="1" height="1" fill="#00ff27"/><rect x="13" y="16" width="1" height="1" fill="#00ff14"/><rect x="14" y="16" width="1" height="1" fill="#00ff01"/><rect x="15" y="16" width="1" height="1" fill="#12ff00"/><rect x="16" y="16" width="1" height="1" fill="#25ff00"/><rect x="17" y="16" width="1" height="1" fill="#38ff00"/><rect x="18" y="16" width="1" height="1" fill="#4aff00"/><rect x="19" y="16" width="1" height="1" fill="#5dff00"/><rect x="20" y="16" width="1" height="1" fill="#70ff00"/><rect x="21" y="16" width="1" height="1" fill="#83ff00"/><rect x="22" y="16" width="1" height="1" fill="#96ff00"/><rect x="23" y="16" width="1" height="1" fill="#a9ff00"/><rect x="24" y="16" width="1" height="1" fill="#bcff00"/><rect x="25" y="16" width="1" height="1" fill="#cfff00"/><rect x="26" y="16" width="1" height="1" fill="#e2ff00"/><rect x="27" y="16" width="1" height="1" fill="#f5ff00"/><rect x="28" y="16" width="1" height="1" fill="#fff600"/><rect x="29" y="16" width="1" height="1" fill="#ffe300"/><rect x="30" y="16" width="1" height="1" fill="#ffd000"/><rect x="31" y="16" width="1" height="1" fill="#ffbd00"/><rect x="32" y="16" width="1" height="1" fill="#ffaa00"/><rect x="33" y="16" width="1" height="1" fill="#ff9700"/><rect x="34" y="16" width="1" height="1" fill="#ff8400"/><rect x="35" y="16" width="1" height="1" fill="#ff7100"/><rect x="36" y="16" width="1" height="1" fill="#ff5e00"/><rect x="37" y="16" width="1" height="1" fill="#ff4b00"/><rect x="38" y="16" width="1" height="1" fill="#ff3800"/><rect x="39" y="16" width="1" height="1" fill="#ff2500"/>
<rect x="0" y="17" width="1" height="1" fill="#00f9ff"/><rect x="1" y="17" width="1" height="1" fill="#00fff2"/><rect x="2" y="17" width="1" height="1" fill="#00ffe0"/><rect x="3" y="17" width="1" height="1" fill="#00ffcd"/><rect x="4" y="17" width="1" height="1" fill="#00ffba"/><rect x="5" y="17" width="1" height="1" fill="#00ffa8"/><rect x="6" y="17" width="1" height="1" fill="#00ff95"/><rect x="7" y="17" width="1" height="1" fill="#00ff82"/><rect x="8" y="17" width="1" height="1" fill="#00ff70"/><rect x="9" y="17" width="1" height="1" fill="#00ff5d"/><rect x="10" y="17" width="1" height="1" fill="#00ff4a"/><rect x="11" y="17" width="1" height="1" fill="#00ff37"/><rect x="12" y="17" width="1" height="1" fill="#00ff25"/><rect x="13" y="17" width="1" height="1" fill="#00ff12"/><rect x="14" y="17" width="1" height="1" fill="#01ff00"/><rect x="15" y="17" width="1" height="1" fill="#13ff00"/><rect x="16" y="17" width="1" height="1" fill="#26ff00"/><rect x="17" y="17" width="1" height="1" fill="#39ff00"/><rect x="18" y="17" width="1" height="1" fill="#4cff00"/><rect x="19" y="17" width="1" height="1" fill="#5eff00"/><rect x="20" y="17" width="1" height="1" fill="#71ff00"/><rect x="21" y="17" width="1" height="1" fill="#84ff00"/><rect x="22" y="17" width="1" height="1" fill="#96ff00"/><rect x="23" y="17" width="1" height="1" fill="#a9ff00"/><rect x="24" y="17" width="1" height="1" fill="#bcff00"/><rect x="25" y="17" width="1" height="1" fill="#cfff00"/><rect x="26" y="17" width="1" height="1" fill="#e1ff00"/><rect x="27" y="17" width="1" height="1" fill="#f4ff00"/><rect x="28" y="17" width="1" height="1" fill="#fff700"/><rect x="29" y="17" width="1" height="1" fill="#ffe500"/><rect x="30" y="17" width="1" height="1" fill="#ffd200"/><rect x="31" y="17" width="1" height="1" fill="#ffbf00"/><rect x="32" y="17" width="1" height="1" fill="#ffad00"/><rect x="33" y="17" width="1" height="1" fill="#ff9a00"/><rect x="34" y="17" width="1" height="1" fill="#ff8700"/><rect x="35" y="17" width="1" height="1" fill="#ff7400"/><rect x="36" y="17" width="1" height="1" fill="#ff6200"/><rect x="37" y="17" width="1" height="1" fill="#ff4f00"/><rect x="38" y="17" width="1" height="1" fill="#ff3c00"/><rect x="39" y="17" width="1" height="1" fill="#ff2a00"/>
<rect x="0" y="18" width="1" height="1" fill="#00feff"/><rect x="1" y="18" width="1" height="1" fill="#00ffed"/><rect x="2" y="18" width="1" height="1" fill="#00ffdb"/><rect x="3" y="18" width="1" height="1" fill="#00ffc8"/><rect x="4" y="18" width="1" height="1" fill="#00ffb6"/><rect x="5" y="18" width="1" height="1" fill="#00ffa3"/><rect x="6" y="18" width="1" height="1" fill="#00ff91"/><rect x="7" y="18" width="1" height="1" fill="#00ff7e"/><rect x="8" y="18" width="1" height="1" fill="#00ff6c"/><rect x="9" y="18" width="1" height="1" fill="#00ff59"/><rect x="10" y="18" width="1" height="1" fill="#00ff47"/><rect x="11" y="18" width="1" height="1" fill="#00ff35"/><rect x="12" y="18" width="1" height="1" fill="#00ff22"/><rect x="13" y="18" width="1" height="1" fill="#00ff10"/><rect x="14" y="18" width="1" height="1" fill="#03ff00"/><rect x="15" y="18" width="1" height="1" fill="#15ff00"/><rect x="16" y="18" width="1" height="1" fill="#28ff00"/><rect x="17" y="18" width="1" height="1" fill="#3aff00"/><rect x="18" y="18" width="1" height="1" fill="#4dff00"/><rect x="19" y="18" width="1" height="1" fill="#5fff00"/><rect x="20" y="18" width="1" height="1" fill="#72ff00"/><rect x="21" y="18" width="1" height="1" fill="#84ff00"/><rect x="22" y="18" width="1" height="1" fill="#97ff00"/><rect x="23" y="18" width="1" height="1" fill="#a9ff00"/><rect x="24" y="18" width="1" height="1" fill="#bbff00"/><rect x="25" y="18" width="1" height="1" fill="#ceff00"/><rect x="26" y="18" width="1" height="1" fill="#e0ff00"/><rect x="27" y="18" width="1" height="1" fill="#f3ff00"/><rect x="28" y="18" width="1" height="1" fill="#fff900"/><rect x="29" y="18" width="1" height="1" fill="#ffe600"/><rect x="30" y="18" width="1" height="1" fill="#ffd400"/><rect x="31" y="18" width="1" height="1" fill="#ffc100"/><rect x="32" y="18" width="1" height="1" fill="#ffaf00"/><rect x="33" y="18" width="1" height="1" fill="#ff9c00"/><rect x="34" y="18" width="1" height="1" fill="#ff8a00"/><rect x="35" y="18" width="1" height="1" fill="#ff7800"/><rect x="36" y="18" width="1" height="1" fill="#ff6500"/><rect x="37" y="18" width="1" height="1" fill="#ff5300"/><rect x="38" y="18" width="1" height="1" fill="#ff4000"/><rect x="39" y="18" width="1" height="1" fill="#ff2e00"/>
<rect x="0" y="19" width="1" height="1" fill="#00fffa"/><rect x="1" y="19" width="1" height="1" fill="#00ffe8"/><rect x="2" y="19" width="1" height="1" fill="#00ffd6"/><rect x="3" y="19" width="1" height="1" fill="#00ffc3"/><rect x="4" y="19" width="1" height="1" fill="#00ffb1"/><rect x="5" y="19" width="1" height="1" fill="#00ff9f"/><rect x="6" y="19" width="1" height="1" fill="#00ff8d"/><rect x="7" y="19" width="1" height="1" fill="#00ff7b"/><rect x="8" y="19" width="1" height="1" fill="#00ff68"/><rect x="9" y="19" width="1" height="1" fill="#00ff56"/><rect x="10" y="19" width="1" height="1" fill="#00ff44"/><rect x="11" y="19" width="1" height="1" fill="#00ff32"/><rect x="12" y="19" width="1" height="1" fill="#00ff20"/><rect x="13" y="19" width="1" height="1" fill="#00ff0d"/><rect x="14" y="19" width="1" height="1" fill="#05ff00"/><rect x="15" y="19" width="1" height="1" fill="#17ff00"/><rect x="16" y="19" width="1" height="1" fill="#29ff00"/><rect x="17" y="19" width="1" height="1" fill="#3cff00"/><rect x="18" y="19" width="1" height="1" fill="#4eff00"/><rect x="19" y="19" width="1" height="1" fill="#60ff00"/><rect x="20" y="19" width="1" height="1" fill="#72ff00"/><rect x="21" y="19" width="1" height="1" fill="#84ff00"/><rect x="22" y="19" width="1" height="1" fill="#97ff00"/><rect x="23" y="19" width="1" height="1" fill="#a9ff00"/><rect x="24" y="19" width="1" height="1" fill="#bbff00"/><rect x="25" y="19" width="1" height="1" fill="#cdff00"/><rect x="26" y="19" width="1" height="1" fill="#dfff00"/><rect x="27" y="19" width="1" height="1" fill="#f2ff00"/><rect x="28" y="19" width="1" height="1" fill="#fffa00"/><rect x="29" y="19" width="1" height="1" fill="#ffe800"/><rect x="30" y="19" width="1" height="1" fill="#ffd600"/><rect x="31" y="19" width="1" height="1" fill="#ffc300"/><rect x="32" y="19" width="1" height="1" fill="#ffb100"/><rect x="33" y="19" width="1" height="1" fill="#ff9f00"/><rect x="34" y="19" width="1" height="1" fill="#ff8d00"/><rect x="35" y="19" width="1" height="1" fill="#ff7b00"/><rect x="36" y="19" width="1" height="1" fill="#ff6800"/><rect x="37" y="19" width="1" height="1" fill="#ff5600"/><rect x="38" y="19" width="1" height="1" fill="#ff4400"/><rect x="39" y="19" width="1" height="1" fill="#ff3200"/>
<rect x="0" y="20" width="1" height="1" fill="#00fff5"/><rect x="1" y="20" width="1" height="1" fill="#00ffe3"/><rect x="2" y="20" width="1" height="1" fill="#00ffd1"/><rect x="3" y="20" width="1" height="1" fill="#00ffbf"/><rect x="4" y="20" width="1" height="1" fill="#00ffad"/><rect x="5" y="20" width="1" height="1" fill="#00ff9b"/><rect x="6" y="20" width="1" height="1" fill="#00ff89"/><rect x="7" y="20" width="1" height="1" fill="#00ff77"/><rect x="8" y="20" width="1" height="1" fill="#00ff65"/><rect x="9" y="20" width="1" height="1" fill="#00ff53"/><rect x="10" y="20" width="1" height="1" fill="#00ff41"/><rect x="11" y="20" width="1" height="1" fill="#00ff2f"/><rect x="12" y="20" width="1" height="1" fill="#00ff1d"/><rect x="13" y="20" width="1" height="1" fill="#00ff0b"/><rect x="14" y="20" width="1" height="1" fill="#07ff00"/><rect x="15" y="20" width="1" height="1" fill="#19ff00"/><rect x="16" y="20" width="1" height="1" fill="#2bff00"/><rect x="17" y="20" width="1" height="1" fill="#3dff00"/><rect x="18" y="20" width="1" height="1" fill="#4fff00"/><rect x="19" y="20" width="1" height="1" fill="#61ff00"/><rect x="20" y="20" width="1" height="1" fill="#73ff00"/><rect x="21" y="20" width="1" height="1" fill="#85ff00"/><rect x="22" y="20" width="1" height="1" fill="#97ff00"/><rect x="23" y="20" width="1" height="1" fill="#a9ff00"/><rect x="24" y="20" width="1" height="1" fill="#bbff00"/><rect x="25" y="20" width="1" height="1" fill="#cdff00"/><rect x="26" y="20" width="1" height="1" fill="#dfff00"/><rect x="27" y="20" width="1" height="1" fill="#f1ff00"/><rect x="28" y="20" width="1" height="1" fill="#fffb00"/><rect x="29" y="20" width="1" height="1" fill="#ffea00"/><rect x="30" y="20" width="1" height="1" fill="#ffd800"/><rect x="31" y="20" width="1" height="1" fill="#ffc600"/><rect x="32" y="20" width="1" height="1" fill="#ffb400"/><rect x="33" y="20" width="1" height="1" fill="#ffa200"/><rect x="34" y="20" width="1" height="1" fill="#ff9000"/><rect x="35" y="20" width="1" height="1" fill="#ff7e00"/><rect x="36" y="20" width="1" height="1" fill="#ff6c00"/><rect x="37" y="20" width="1" height="1" fill="#ff5a00"/><rect x="38" y="20" width="1" height="1" fill="#ff4800"/><rect x="39" y="20" width="1" height="1" fill="#ff3600"/>
<rect x="0" y="21" width="1" height="1" fill="#00ffef"/><rect x="1" y="21" width="1" height="1" fill="#00ffdd"/><rect x="2" y="21" width="1" height="1" fill="#00ffcc"/><rect x="3" y="21" width="1" height="1" fill="#00ffba"/><rect x="4" y="21" width="1" height="1" fill="#00ffa8"/><rect x="5" y="21" width="1" height="1" fill="#00ff96"/><rect x="6" y="21" width="1" height="1" fill="#00ff85"/><rect x="7" y="21" width="1" height="1" fill="#00ff73"/><rect x="8" y="21" width="1" height="1" fill="#00ff61"/><rect x="9" y="21" width="1" height="1" fill="#00ff50"/><rect x="10" y="21" width="1" height="1" fill="#00ff3e"/><rect x="11" y="21" width="1" height="1" fill="#00ff2c"/><rect x="12" y="21" width="1" height="1" fill="#00ff1a"/><rect x="13" y="21" width="1" height="1" fill="#00ff09"/><rect x="14" y="21" width="1" height="1" fill="#09ff00"/><rect x="15" y="21" width="1" height="1" fill="#1bff00"/><rect x="16" y="21" width="1" height="1" fill="#2dff00"/><rect x="17" y="21" width="1" height="1" fill="#3eff00"/><rect x="18" y="21" width="1" height="1" fill="#50ff00"/><rect x="19" y="21" width="1" height="1" fill="#62ff00"/><rect x="20" y="21" width="1" height="1" fill="#73ff00"/><rect x="21" y="21" width="1" height="1" fill="#85ff00"/><rect x="22" y="21" width="1" height="1" fill="#97ff00"/><rect x="23" y="21" width="1" height="1" fill="#a9ff00"/><rect x="24" y="21" width="1" height="1" fill="#baff00"/><rect x="25" y="21" width="1" height="1" fill="#ccff00"/><rect x="26" y="21" width="1" height="1" fill="#deff00"/><rect x="27" y="21" width="1" height="1" fill="#efff00"/><rect x="28" y="21" width="1" height="1" fill="#fffd00"/><rect x="29" y="21" width="1" height="1" fill="#ffeb00"/><rect x="30" y="21" width="1" height="1" fill="#ffd900"/><rect x="31" y="21" width="1" height="1" fill="#ffc800"/><rect x="32" y="21" width="1" height="1" fill="#ffb600"/><rect x="33" y="21" width="1" height="1" fill="#ffa400"/><rect x="34" y="21" width="1" height="1" fill="#ff9300"/><rect x="35" y="21" width="1" height="1" fill="#ff8100"/><rect x="36" y="21" width="1" height="1" fill="#ff6f00"/><rect x="37" y="21" width="1" height="1" fill="#ff5d00"/><rect x="38" y="21" width="1" height="1" fill="#ff4c00"/><rect x="39" y="21" width="1" height="1" fill="#ff3a00"/>
<rect x="0" y="22" width="1" height="1" fill="#00ffe9"/><rect x="1" y="22" width="1" height="1" fill="#00ffd8"/><rect x="2" y="22" width="1" height="1" fill="#00ffc7"/><rect x="3" y="22" width="1" height="1" fill="#00ffb5"/><rect x="4" y="22" width="1" height="1" fill="#00ffa4"/><rect x="5" y="22" width="1" height="1" fill="#00ff92"/><rect x="6" y="22" width="1" height="1" fill="#00ff81"/><rect x="7" y="22" width="1" height="1" fill="#00ff6f"/><rect x="8" y="22" width="1" height="1" fill="#00ff5e"/><rect x="9" y="22" width="1" height="1" fill="#00ff4c"/><rect x="10" y="22" width="1" height="1" fill="#00ff3b"/><rect x="11" y="22" width="1" height="1" fill="#00ff29"/><rect x="12" y="22" width="1" height="1" fill="#00ff18"/><rect x="13" y="22" width="1" height="1" fill="#00ff06"/><rect x="14" y="22" width="1" height="1" fill="#0bff00"/><rect x="15" y="22" width="1" height="1" fill="#1dff00"/><rect x="16" y="22" width="1" height="1" fill="#2eff00"/><rect x="17" y="22" width="1" height="1" fill="#40ff00"/><rect x="18" y="22" width="1" height="1" fill="#51ff00"/><rect x="19" y="22" width="1" height="1" fill="#63ff00"/><rect x="20" y="22" width="1" height="1" fill="#74ff00"/><rect x="21" y="22" width="1" height="1" fill="#85ff00"/><rect x="22" y="22" width="1" height="1" fill="#97ff00"/><rect x="23" y="22" width="1" height="1" fill="#a8ff00"/><rect x="24" y="22" width="1" height="1" fill="#baff00"/><rect x="25" y="22" width="1" height="1" fill="#cbff00"/><rect x="26" y="22" width="1" height="1" fill="#ddff00"/><rect x="27" y="22" width="1" height="1" fill="#eeff00"/><rect x="28" y="22" width="1" height="1" fill="#fffe00"/><rect x="29" y="22" width="1" height="1" fill="#ffed00"/><rect x="30" y="22" width="1" height="1" fill="#ffdb00"/><rect x="31" y="22" width="1" height="1" fill="#ffca00"/><rect x="32" y="22" width="1" height="1" fill="#ffb800"/><rect x="33" y="22" width="1" height="1" fill="#ffa700"/><rect x="34" y="22" width="1" height="1" fill="#ff9500"/><rect x="35" y="22" width="1" height="1" fill="#ff8400"/><rect x="36" y="22" width="1" height="1" fill="#ff7200"/><rect x="37" y="22" width="1" height="1" fill="#ff6100"/><rect x="38" y="22" width="1" height="1" fill="#ff4f00"/><rect x="39" y="22" width="1" height="1" fill="#ff3e00"/>
<rect x="0" y="23" width="1" height="1" fill="#00ffe4"/><rect x="1" y="23" width="1" height="1" fill="#00ffd3"/><rect x="2" y="23" width="1" height="1" fill="#00ffc1"/><rect x="3" y="23" width="1" height="1" fill="#00ffb0"/><rect x="4" y="23" width="1" height="1" fill="#00ff9f"/><rect x="5" y="23" width="1" height="1" fill="#00ff8e"/><rect x="6" y="23" width="1" height="1" fill="#00ff7d"/><rect x="7" y="23" width="1" height="1" fill="#00ff6b"/><rect x="8" y="23" width="1" height="1" fill="#00ff5a"/><rect x="9" y="23" width="1" height="1" fill="#00ff49"/><rect x="10" y="23" width="1" height="1" fill="#00ff38"/><rect x="11" y="23" width="1" height="1" fill="#00ff26"/><rect x="12" y="23" width="1" height="1" fill="#00ff15"/><rect x="13" y="23" width="1" height="1" fill="#00ff04"/><rect x="14" y="23" width="1" height="1" fill="#0dff00"/><rect x="15" y="23" width="1" height="1" fill="#1eff00"/><rect x="16" y="23" width="1" height="1" fill="#30ff00"/><rect x="17" y="23" width="1" height="1" fill="#41ff00"/><rect x="18" y="23" width="1" height="1" fill="#52ff00"/><rect x="19" y="23" width="1" height="1" fill="#63ff00"/><rect x="20" y="23" width="1" height="1" fill="#75ff00"/><rect x="21" y="23" width="1" height="1" fill="#86ff00"/><rect x="22" y="23" width="1" height="1" fill="#97ff00"/><rect x="23" y="23" width="1" height="1" fill="#a8ff00"/><rect x="24" y="23" width="1" height="1" fill="#baff00"/><rect x="25" y="23" width="1" height="1" fill="#cbff00"/><rect x="26" y="23" width="1" height="1" fill="#dcff00"/><rect x="27" y="23" width="1" height="1" fill="#edff00"/><rect x="28" y="23" width="1" height="1" fill="#feff00"/><rect x="29" y="23" width="1" height="1" fill="#ffee00"/><rect x="30" y="23" width="1" height="1" fill="#ffdd00"/><rect x="31" y="23" width="1" height="1" fill="#ffcc00"/><rect x="32" y="23" width="1" height="1" fill="#ffbb00"/><rect x="33" y="23" width="1" height="1" fill="#ffa900"/><rect x="34" y="23" width="1" height="1" fill="#ff9800"/><rect x="35" y="23" width="1" height="1" fill="#ff8700"/><rect x="36" y="23" width="1" height="1" fill="#ff7600"/><rect x="37" y="23" width="1" height="1" fill="#ff6500"/><rect x="38" y="23" width="1" height="1" fill="#ff5300"/><rect x="39" y="23" width="1" height="1" fill="#ff4200"/>
<rect x="0" y="24" width="1" height="1" fill="#00ffde"/><rect x="1" y="24" width="1" height="1" fill="#00ffcd"/><rect x="2" y="24" width="1" height="1" fill="#00ffbc"/><rect x="3" y="24" width="1" height="1" fill="#00ffab"/><rect x="4" y="24" width="1" height="1" fill="#00ff9a"/><rect x="5" y="24" width="1" height="1" fill="#00ff89"/><rect x="6" y="24" width="1" height="1" fill="#00ff78"/><rect x="7" y="24" width="1" height="1" fill="#00ff68"/><rect x="8" y="24" width="1" height="1" fill="#00ff57"/><rect x="9" y="24" width="1" height="1" fill="#00ff46"/><rect x="10" y="24" width="1" height="1" fill="#00ff35"/><rect x="11" y="24" width="1" height="1" fill="#00ff24"/><rect x="12" y="24" width="1" height="1" fill="#00ff13"/><rect x="13" y="24" width="1" height="1" fill="#00ff02"/><rect x="14" y="24" width="1" height="1" fill="#0fff00"/><rect x="15" y="24" width="1" height="1" fill="#20ff00"/><rect x="16" y="24" width="1" height="1" fill="#31ff00"/><rect x="17" y="24" width="1" height="1" fill="#42ff00"/><rect x="18" y="24" width="1" height="1" fill="#53ff00"/><rect x="19" y="24" width="1" height="1" fill="#64ff00"/><rect x="20" y="24" width="1" height="1" fill="#75ff00"/><rect x="21" y="24" width="1" height="1" fill="#86ff00"/><rect x="22" y="24" width="1" height="1" fill="#97ff00"/><rect x="23" y="24" width="1" height="1" fill="#a8ff00"/><rect x="24" y="24" width="1" height="1" fill="#b9ff00"/><rect x="25" y="24" width="1" height="1" fill="#caff00"/><rect x="26" y="24" width="1" height="1" fill="#dbff00"/><rect x="27" y="24" width="1" height="1" fill="#ecff00"/><rect x="28" y="24" width="1" height="1" fill="#fdff00"/><rect x="29" y="24" width="1" height="1" fill="#fff000"/><rect x="30" y="24" width="1" height="1" fill="#ffdf00"/><rect x="31" y="24" width="1" height="1" fill="#ffce00"/><rect x="32" y="24" width="1" height="1" fill="#ffbd00"/><rect x="33" y="24" width="1" height="1" fill="#ffac00"/><rect x="34" y="24" width="1" height="1" fill="#ff9b00"/><rect x="35" y="24" width="1" height="1" fill="#ff8a00"/><rect x="36" y="24" width="1" height="1" fill="#ff7900"/><rect x="37" y="24" width="1" height="1" fill="#ff6800"/><rect x="38" y="24" width="1" height="1" fill="#ff5700"/><rect x="39" y="24" width="1" height="1" fill="#ff4600"/>
<rect x="0" y="25" width="1" height="1" fill="#00ffd9"/><rect x="1" y="25" width="1" height="1" fill="#00ffc8"/><rect x="2" y="25" width="1" height="1" fill="#00ffb7"/><rect x="3" y="25" width="1" height="1" fill="#00ffa7"/><rect x="4" y="25" width="1" height="1" fill="#00ff96"/><rect x="5" y="25" width="1" height="1" fill="#00ff85"/><rect x="6" y="25" width="1" height="1" fill="#00ff74"/><rect x="7" y="25" width="1" height="1" fill="#00ff64"/><rect x="8" y="25" width="1" height="1" fill="#00ff53"/><rect x="9" y="25" width="1" height="1" fill="#00ff42"/><rect x="10" y="25" width="1" height="1" fill="#00ff32"/><rect x="11" y="25" width="1" height="1" fill="#00ff21"/><rect x="12" y="25" width="1" height="1" fill="#00ff10"/><rect x="13" y="25" width="1" height="1" fill="#01ff00"/><rect x="14" y="25" width="1" height="1" fill="#11ff00"/><rect x="15" y="25" width="1" height="1" fill="#22ff00"/><rect x="16" y="25" width="1" height="1" fill="#33ff00"/><rect x="17" y="25" width="1" height="1" fill="#44ff00"/><rect x="18" y="25" width="1" height="1" fill="#54ff00"/><rect x="19" y="25" width="1" height="1" fill="#65ff00"/><rect x="20" y="25" width="1" height="1" fill="#76ff00"/><rect x="21" y="25" width="1" height="1" fill="#87ff00"/><rect x="22" y="25" width="1" height="1" fill="#97ff00"/><rect x="23" y="25" width="1" height="1" fill="#a8ff00"/><rect x="24" y="25" width="1" height="1" fill="#b9ff00"/><rect x="25" y="25" width="1" height="1" fill="#c9ff00"/><rect x="26" y="25" width="1" height="1" fill="#daff00"/><rect x="27" y="25" width="1" height="1" fill="#ebff00"/><rect x="28" y="25" width="1" height="1" fill="#fcff00"/><rect x="29" y="25" width="1" height="1" fill="#fff200"/><rect x="30" y="25" width="1" height="1" fill="#ffe100"/><rect x="31" y="25" width="1" height="1" fill="#ffd000"/><rect x="32" y="25" width="1" height="1" fill="#ffbf00"/><rect x="33" y="25" width="1" height="1" fill="#ffaf00"/><rect x="34" y="25" width="1" height="1" fill="#ff9e00"/><rect x="35" y="25" width="1" height="1" fill="#ff8d00"/><rect x="36" y="25" width="1" height="1" fill="#ff7c00"/><rect x="37" y="25" width="1" height="1" fill="#ff6c00"/><rect x="38" y="25" width="1" height="1" fill="#ff5b00"/><rect x="39" y="25" width="1" height="1" fill="#ff4a00"/>
<rect x="0" y="26" width="1" height="1" fill="#00ffd3"/><rect x="1" y="26" width="1" height="1" fill="#00ffc3"/><rect x="2" y="26" width="1" height="1" fill="#00ffb2"/><rect x="3" y="26" width="1" height="1" fill="#00ffa2"/><rect x="4" y="26" width="1" height="1" fill="#00ff91"/><rect x="5" y="26" width="1" height="1" fill="#00ff81"/><rect x="6" y="26" width="1" height="1" fill="#00ff70"/><rect x="7" y="26" width="1" height="1" fill="#00ff60"/><rect x="8" y="26" width="1" height="1" fill="#00ff4f"/><rect x="9" y="26" width="1" height="1" fill="#00ff3f"/><rect x="10" y="26" width="1" height="1" fill="#00ff2e"/><rect x="11" y="26" width="1" height="1" fill="#00ff1e"/><rect x="12" y="26" width="1" height="1" fill="#00ff0d"/><rect x="13" y="26" width="1" height="1" fill="#03ff00"/><rect x="14" y="26" width="1" height="1" fill="#14ff00"/><rect x="15" y="26" width="1" height="1" fill="#24ff00"/><rect x="16" y="26" width="1" height="1" fill="#34ff00"/><rect x="17" y="26" width="1" height="1" fill="#45ff00"/><rect x="18" y="26" width="1" height="1" fill="#55ff00"/><rect x="19" y="26" width="1" height="1" fill="#66ff00"/><rect x="20" y="26" width="1" height="1" fill="#76ff00"/><rect x="21" y="26" width="1" height="1" fill="#87ff00"/><rect x="22" y="26" width="1" height="1" fill="#97ff00"/><rect x="23" y="26" width="1" height="1" fill="#a8ff00"/><rect x="24" y="26" width="1" height="1" fill="#b8ff00"/><rect x="25" y="26" width="1" height="1" fill="#c9ff00"/><rect x="26" y="26" width="1" height="1" fill="#d9ff00"/><rect x="27" y="26" width="1" height="1" fill="#eaff00"/><rect x="28" y="26" width="1" height="1" fill="#faff00"/><rect x="29" y="26" width="1" height="1" fill="#fff300"/><rect x="30" y="26" width="1" height="1" fill="#ffe300"/><rect x="31" y="26" width="1" height="1" fill="#ffd200"/><rect x="32" y="26" width="1" height="1" fill="#ffc200"/><rect x="33" y="26" width="1" height="1" fill="#ffb100"/><rect x="34" y="26" width="1" height="1" fill="#ffa100"/><rect x="35" y="26" width="1" height="1" fill="#ff9000"/><rect x="36" y="26" width="1" height="1" fill="#ff8000"/><rect x="37" y="26" width="1" height="1" fill="#ff6f00"/><rect x="38" y="26" width="1" height="1" fill="#ff5f00"/><rect x="39" y="26" width="1" height="1" fill="#ff4e00"/>
<rect x="0" y="27" width="1" height="1" fill="#00ffce"/><rect x="1" y="27" width="1" height="1" fill="#00ffbd"/><rect x="2" y="27" width="1" height="1" fill="#00ffad"/><rect x="3" y="27" width="1" height="1" fill="#00ff9d"/><rect x="4" y="27" width="1" height="1" fill="#00ff8d"/><rect x="5" y="27" width="1" height="1" fill="#00ff7d"/><rect x="6" y="27" width="1" height="1" fill="#00ff6c"/><rect x="7" y="27" width="1" height="1" fill="#00ff5c"/><rect x="8" y="27" width="1" height="1" fill="#00ff4c"/><rect x="9" y="27" width="1" height="1" fill="#00ff3c"/><rect x="10" y="27" width="1" height="1" fill="#00ff2b"/><rect x="11" y="27" width="1" height="1" fill="#00ff1b"/><rect x="12" y="27" width="1" height="1" fill="#00ff0b"/><rect x="13" y="27" width="1" height="1" fill="#05ff00"/><rect x="14" y="27" width="1" height="1" fill="#16ff00"/><rect x="15" y="27" width="1" height="1" fill="#26ff00"/><rect x="16" y="27" width="1" height="1" fill="#36ff00"/><rect x="17" y="27" width="1" height="1" fill="#46ff00"/><rect x="18" y="27" width="1" height="1" fill="#57ff00"/><rect x="19" y="27" width="1" height="1" fill="#67ff00"/><rect x="20" y="27" width="1" height="1" fill="#77ff00"/><rect x="21" y="27" width="1" height="1" fill="#87ff00"/><rect x="22" y="27" width="1" height="1" fill="#97ff00"/><rect x="23" y="27" width="1" height="1" fill="#a8ff00"/><rect x="24" y="27" width="1" height="1" fill="#b8ff00"/><rect x="25" y="27" width="1" height="1" fill="#c8ff00"/><rect x="26" y="27" width="1" height="1" fill="#d8ff00"/><rect x="27" y="27" width="1" height="1" fill="#e9ff00"/><rect x="28" y="27" width="1" height="1" fill="#f9ff00"/><rect x="29" y="27" width="1" height="1" fill="#fff500"/><rect x="30" y="27" width="1" height="1" fill="#ffe500"/><rect x="31" y="27" width="1" height="1" fill="#ffd400"/><rect x="32" y="27" width="1" height="1" fill="#ffc400"/><rect x="33" y="27" width="1" height="1" fill="#ffb400"/><rect x="34" y="27" width="1" height="1" fill="#ffa400"/><rect x="35" y="27" width="1" height="1" fill="#ff9300"/><rect x="36" y="27" width="1" height="1" fill="#ff8300"/><rect x="37" y="27" width="1" height="1" fill="#ff7300"/><rect x="38" y="27" width="1" height="1" fill="#ff6300"/><rect x="39" y="27" width="1" height="1" fill="#ff5200"/>
<rect x="0" y="28" width="1" height="1" fill="#00ffc8"/><rect x="1" y="28" width="1" height="1" fill="#00ffb8"/><rect x="2" y="28" width="1" height="1" fill="#00ffa8"/><rect x="3" y="28" width="1" height="1" fill="#00ff98"/><rect x="4" y="28" width="1" height="1" fill="#00ff88"/><rect x="5" y="28" width="1" height="1" fill="#00ff78"/><rect x="6" y="28" width="1" height="1" fill="#00ff68"/><rect x="7" y="28" width="1" height="1" fill="#00ff58"/><rect x="8" y="28" width="1" height="1" fill="#00ff48"/><rect x="9" y="28" width="1" height="1" fill="#00ff38"/><rect x="10" y="28" width="1" height="1" fill="#00ff28"/><rect x="11" y="28" width="1" height="1" fill="#00ff18"/><rect x="12" y="28" width="1" height="1" fill="#00ff08"/><rect x="13" y="28" width="1" height="1" fill="#08ff00"/><rect x="14" y="28" width="1" height="1" fill="#18ff00"/><rect x="15" y="28" width="1" height="1" fill="#28ff00"/><rect x="16" y="28" width="1" height="1" fill="#38ff00"/><rect x="17" y="28" width="1" height="1" fill="#48ff00"/><rect x="18" y="28" width="1" height="1" fill="#58ff00"/><rect x="19" y="28" width="1" height="1" fill="#68ff00"/><rect x="20" y="28" width="1" height="1" fill="#78ff00"/><rect x="21" y="28" width="1" height="1" fill="#88ff00"/><rect x="22" y="28" width="1" height="1" fill="#98ff00"/><rect x="23" y="28" width="1" height="1" fill="#a8ff00"/><rect x="24" y="28" width="1" height="1" fill="#b8ff00"/><rect x="25" y="28" width="1" height="1" fill="#c8ff00"/><rect x="26" y="28" width="1" height="1" fill="#d8ff00"/><rect x="27" y="28" width="1" height="1" fill="#e8ff00"/><rect x="28" y="28" width="1" height="1" fill="#f8ff00"/><rect x="29" y="28" width="1" height="1" fill="#fff600"/><rect x="30" y="28" width="1" height="1" fill="#ffe600"/><rect x="31" y="28" width="1" height="1" fill="#ffd600"/><rect x="32" y="28" width="1" height="1" fill="#ffc600"/><rect x="33" y="28" width="1" height="1" fill="#ffb600"/><rect x="34" y="28" width="1" height="1" fill="#ffa700"/><rect x="35" y="28" width="1" height="1" fill="#ff9700"/><rect x="36" y="28" width="1" height="1" fill="#ff8700"/><rect x="37" y="28" width="1" height="1" fill="#ff7700"/><rect x="38" y="28" width="1" height="1" fill="#ff6700"/><rect x="39" y="28" width="1" height="1" fill="#ff5700"/>
<rect x="0" y="29" width="1" height="1" fill="#00ffc3"/><rect x="1" y="29" width="1" height="1" fill="#00ffb3"/><rect x="2" y="29" width="1" height="1" fill="#00ffa3"/><rect x="3" y="29" width="1" height="1" fill="#00ff93"/><rect x="4" y="29" width="1" height="1" fill="#00ff84"/><rect x="5" y="29" width="1" height="1" fill="#00ff74"/><rect x="6" y="29" width="1" height="1" fill="#00ff64"/><rect x="7" y="29" width="1" height="1" fill="#00ff54"/><rect x="8" y="29" width="1" height="1" fill="#00ff45"/><rect x="9" y="29" width="1" height="1" fill="#00ff35"/><rect x="10" y="29" width="1" height="1" fill="#00ff25"/><rect x="11" y="29" width="1" height="1" fill="#00ff15"/><rect x="12" y="29" width="1" height="1" fill="#00ff06"/><rect x="13" y="29" width="1" height="1" fill="#0aff00"/><rect x="14" y="29" width="1" height="1" fill="#1aff00"/><rect x="15" y="29" width="1" height="1" fill="#2aff00"/><rect x="16" y="29" width="1" height="1" fill="#39ff00"/><rect x="17" y="29" width="1" height="1" fill="#49ff00"/><rect x="18" y="29" width="1" height="1" fill="#59ff00"/><rect x="19" y="29" width="1" height="1" fill="#68ff00"/><rect x="20" y="29" width="1" height="1" fill="#78ff00"/><rect x="21" y="29" width="1" height="1" fill="#88ff00"/><rect x="22" y="29" width="1" height="1" fill="#98ff00"/><rect x="23" y="29" width="1" height="1" fill="#a7ff00"/><rect x="24" y="29" width="1" height="1" fill="#b7ff00"/><rect x="25" y="29" width="1" height="1" fill="#c7ff00"/><rect x="26" y="29" width="1" height="1" fill="#d7ff00"/><rect x="27" y="29" width="1" height="1" fill="#e6ff00"/><rect x="28" y="29" width="1" height="1" fill="#f6ff00"/><rect x="29" y="29" width="1" height="1" fill="#fff800"/><rect x="30" y="29" width="1" height="1" fill="#ffe800"/><rect x="31" y="29" width="1" height="1" fill="#ffd900"/><rect x="32" y="29" width="1" height="1" fill="#ffc900"/><rect x="33" y="29" width="1" height="1" fill="#ffb900"/><rect x="34" y="29" width="1" height="1" fill="#ffa900"/><rect x="35" y="29" width="1" height="1" fill="#ff9a00"/><rect x="36" y="29" width="1" height="1" fill="#ff8a00"/><rect x="37" y="29" width="1" height="1" fill="#ff7a00"/><rect x="38" y="29" width="1" height="1" fill="#ff6a00"/><rect x="39" y="29" width="1" height="1" fill="#ff5b00"/>
<rect x="0" y="30" width="1" height="1" fill="#00ffbd"/><rect x="1" y="30" width="1" height="1" fill="#00ffae"/><rect x="2" y="30" width="1" height="1" fill="#00ff9e"/><rect x="3" y="30" width="1" height="1" fill="#00ff8f"/><rect x="4" y="30" width="1" height="1" fill="#00ff7f"/><rect x="5" y="30" width="1" height="1" fill="#00ff70"/><rect x="6" y="30" width="1" height="1" fill="#00ff60"/><rect x="7" y="30" width="1" height="1" fill="#00ff51"/><rect x="8" y="30" width="1" height="1" fill="#00ff41"/><rect x="9" y="30" width="1" height="1" fill="#00ff32"/><rect x="10" y="30" width="1" height="1" fill="#00ff22"/><rect x="11" y="30" width="1" height="1" fill="#00ff13"/><rect x="12" y="30" width="1" height="1" fill="#00ff03"/><rect x="13" y="30" width="1" height="1" fill="#0cff00"/><rect x="14" y="30" width="1" height="1" fill="#1cff00"/><rect x="15" y="30" width="1" height="1" fill="#2bff00"/><rect x="16" y="30" width="1" height="1" fill="#3bff00"/><rect x="17" y="30" width="1" height="1" fill="#4aff00"/><rect x="18" y="30" width="1" height="1" fill="#5aff00"/><rect x="19" y="30" width="1" height="1" fill="#69ff00"/><rect x="20" y="30" width="1" height="1" fill="#79ff00"/><rect x="21" y="30" width="1" height="1" fill="#88ff00"/><rect x="22" y="30" width="1" height="1" fill="#98ff00"/><rect x="23" y="30" width="1" height="1" fill="#a7ff00"/><rect x="24" y="30" width="1" height="1" fill="#b7ff00"/><rect x="25" y="30" width="1" height="1" fill="#c6ff00"/><rect x="26" y="30" width="1" height="1" fill="#d6ff00"/><rect x="27" y="30" width="1" height="1" fill="#e5ff00"/><rect x="28" y="30" width="1" height="1" fill="#f5ff00"/><rect x="29" y="30" width="1" height="1" fill="#fffa00"/><rect x="30" y="30" width="1" height="1" fill="#ffea00"/><rect x="31" y="30" width="1" height="1" fill="#ffdb00"/><rect x="32" y="30" width="1" height="1" fill="#ffcb00"/><rect x="33" y="30" width="1" height="1" fill="#ffbc00"/><rect x="34" y="30" width="1" height="1" fill="#ffac00"/><rect x="35" y="30" width="1" height="1" fill="#ff9d00"/><rect x="36" y="30" width="1" height="1" fill="#ff8d00"/><rect x="37" y="30" width="1" height="1" fill="#ff7e00"/><rect x="38" y="30" width="1" height="1" fill="#ff6e00"/><rect x="39" y="30" width="1" height="1" fill="#ff5f00"/>
<rect x="0" y="31" width="1" height="1" fill="#00ffb8"/><rect x="1" y="31" width="1" height="1" fill="#00ffa8"/><rect x="2" y="31" width="1" height="1" fill="#00ff99"/><rect x="3" y="31" width="1" height="1" fill="#00ff8a"/><rect x="4" y="31" width="1" height="1" fill="#00ff7b"/><rect x="5" y="31" width="1" height="1" fill="#00ff6b"/><rect x="6" y="31" width="1" height="1" fill="#00ff5c"/><rect x="7" y="31" width="1" height="1" fill="#00ff4d"/><rect x="8" y="31" width="1" height="1" fill="#00ff3e"/><rect x="9" y="31" width="1" height="1" fill="#00ff2e"/><rect x="10" y="31" width="1" height="1" fill="#00ff1f"/><rect x="11" y="31" width="1" height="1" fill="#00ff10"/><rect x="12" y="31" width="1" height="1" fill="#00ff01"/><rect x="13" y="31" width="1" height="1" fill="#0fff00"/><rect x="14" y="31" width="1" height="1" fill="#1eff00"/><rect x="15" y="31" width="1" height="1" fill="#2dff00"/><rect x="16" y="31" width="1" height="1" fill="#3cff00"/><rect x="17" y="31" width="1" height="1" fill="#4cff00"/><rect x="18" y="31" width="1" height="1" fill="#5bff00"/><rect x="19" y="31" width="1" height="1" fill="#6aff00"/><rect x="20" y="31" width="1" height="1" fill="#79ff00"/><rect x="21" y="31" width="1" height="1" fill="#89ff00"/><rect x="22" y="31" width="1" height="1" fill="#98ff00"/><rect x="23" y="31" width="1" height="1" fill="#a7ff00"/><rect x="24" y="31" width="1" height="1" fill="#b6ff00"/><rect x="25" y="31" width="1" height="1" fill="#c6ff00"/><rect x="26" y="31" width="1" height="1" fill="#d5ff00"/><rect x="27" y="31" width="1" height="1" fill="#e4ff00"/><rect x="28" y="31" width="1" height="1" fill="#f3ff00"/><rect x="29" y="31" width="1" height="1" fill="#fffb00"/><rect x="30" y="31" width="1" height="1" fill="#ffec00"/><rect x="31" y="31" width="1" height="1" fill="#ffdd00"/><rect x="32" y="31" width="1" height="1" fill="#ffce00"/><rect x="33" y="31" width="1" height="1" fill="#ffbe00"/><rect x="34" y="31" width="1" height="1" fill="#ffaf00"/><rect x="35" y="31" width="1" height="1" fill="#ffa000"/><rect x="36" y="31" width="1" height="1" fill="#ff9100"/><rect x="37" y="31" width="1" height="1" fill="#ff8100"/><rect x="38" y="31" width="1" height="1" fill="#ff7200"/><rect x="39" y="31" width="1" height="1" fill="#ff6300"/>
<rect x="0" y="32" width="1" height="1" fill="#00ffb2"/><rect x="1" y="32" width="1" height="1" fill="#00ffa3"/><rect x="2" y="32" width="1" height="1" fill="#00ff94"/><rect x="3" y="32" width="1" height="1" fill="#00ff85"/><rect x="4" y="32" width="1" height="1" fill="#00ff76"/><rect x="5" y="32" width="1" height="1" fill="#00ff67"/><rect x="6" y="32" width="1" height="1" fill="#00ff58"/><rect x="7" y="32" width="1" height="1" fill="#00ff49"/><rect x="8" y="32" width="1" height="1" fill="#00ff3a"/><rect x="9" y="32" width="1" height="1" fill="#00ff2b"/><rect x="10" y="32" width="1" height="1" fill="#00ff1c"/><rect x="11" y="32" width="1" height="1" fill="#00ff0d"/><rect x="12" y="32" width="1" height="1" fill="#02ff00"/><rect x="13" y="32" width="1" height="1" fill="#11ff00"/><rect x="14" y="32" width="1" height="1" fill="#20ff00"/><rect x="15" y="32" width="1" height="1" fill="#2fff00"/><rect x="16" y="32" width="1" height="1" fill="#3eff00"/><rect x="17" y="32" width="1" height="1" fill="#4dff00"/><rect x="18" y="32" width="1" height="1" fill="#5cff00"/><rect x="19" y="32" width="1" height="1" fill="#6bff00"/><rect x="20" y="32" width="1" height="1" fill="#7aff00"/><rect x="21" y="32" width="1" height="1" fill="#89ff00"/><rect x="22" y="32" width="1" height="1" fill="#98ff00"/><rect x="23" y="32" width="1" height="1" fill="#a7ff00"/><rect x="24" y="32" width="1" height="1" fill="#b6ff00"/><rect x="25" y="32" width="1" height="1" fill="#c5ff00"/><rect x="26" y="32" width="1" height="1" fill="#d4ff00"/><rect x="27" y="32" width="1" height="1" fill="#e3ff00"/><rect x="28" y="32" width="1" height="1" fill="#f2ff00"/><rect x="29" y="32" width="1" height="1" fill="#fffd00"/><rect x="30" y="32" width="1" height="1" fill="#ffee00"/><rect x="31" y="32" width="1" height="1" fill="#ffdf00"/><rect x="32" y="32" width="1" height="1" fill="#ffd000"/><rect x="33" y="32" width="1" height="1" fill="#ffc100"/><rect x="34" y="32" width="1" height="1" fill="#ffb200"/><rect x="35" y="32" width="1" height="1" fill="#ffa300"/><rect x="36" y="32" width="1" height="1" fill="#ff9400"/><rect x="37" y="32" width="1" height="1" fill="#ff8500"/><rect x="38" y="32" width="1" height="1" fill="#ff7600"/><rect x="39" y="32" width="1" height="1" fill="#ff6700"/>
<rect x="0" y="33" width="1" height="1" fill="#00ffac"/><rect x="1" y="33" width="1" height="1" fill="#00ff9e"/><rect x="2" y="33" width="1" height="1" fill="#00ff8f"/><rect x="3" y="33" width="1" height="1" fill="#00ff80"/><rect x="4" y="33" width="1" height="1" fill="#00ff71"/><rect x="5" y="33" width="1" height="1" fill="#00ff63"/><rect x="6" y="33" width="1" height="1" fill="#00ff54"/><rect x="7" y="33" width="1" height="1" fill="#00ff45"/><rect x="8" y="33" width="1" height="1" fill="#00ff36"/><rect x="9" y="33" width="1" height="1" fill="#00ff28"/><rect x="10" y="33" width="1" height="1" fill="#00ff19"/><rect x="11" y="33" width="1" height="1" fill="#00ff0a"/><rect x="12" y="33" width="1" height="1" fill="#05ff00"/><rect x="13" y="33" width="1" height="1" fill="#13ff00"/><rect x="14" y="33" width="1" height="1" fill="#22ff00"/><rect x="15" y="33" width="1" height="1" fill="#31ff00"/><rect x="16" y="33" width="1" height="1" fill="#40ff00"/><rect x="17" y="33" width="1" height="1" fill="#4eff00"/><rect x="18" y="33" width="1" height="1" fill="#5dff00"/><rect x="19" y="33" width="1" height="1" fill="#6cff00"/><rect x="20" y="33" width="1" height="1" fill="#7bff00"/><rect x="21" y="33" width="1" height="1" fill="#89ff00"/><rect x="22" y="33" width="1" height="1" fill="#98ff00"/><rect x="23" y="33" width="1" height="1" fill="#a7ff00"/><rect x="24" y="33" width="1" height="1" fill="#b6ff00"/><rect x="25" y="33" width="1" height="1" fill="#c4ff00"/><rect x="26" y="33" width="1" height="1" fill="#d3ff00"/><rect x="27" y="33" width="1" height="1" fill="#e2ff00"/><rect x="28" y="33" width="1" height="1" fill="#f1ff00"/><rect x="29" y="33" width="1" height="1" fill="#ffff00"/><rect x="30" y="33" width="1" height="1" fill="#fff000"/><rect x="31" y="33" width="1" height="1" fill="#ffe100"/><rect x="32" y="33" width="1" height="1" fill="#ffd200"/><rect x="33" y="33" width="1" height="1" fill="#ffc400"/><rect x="34" y="33" width="1" height="1" fill="#ffb500"/><rect x="35" y="33" width="1" height="1" fill="#ffa600"/><rect x="36" y="33" width="1" height="1" fill="#ff9700"/><rect x="37" y="33" width="1" height="1" fill="#ff8800"/><rect x="38" y="33" width="1" height="1" fill="#ff7a00"/><rect x="39" y="33" width="1" height="1" fill="#ff6b00"/>
<rect x="0" y="34" width="1" height="1" fill="#00ffa7"/><rect x="1" y="34" width="1" height="1" fill="#00ff98"/><rect x="2" y="34" width="1" height="1" fill="#00ff8a"/><rect x="3" y="34" width="1" height="1" fill="#00ff7b"/><rect x="4" y="34" width="1" height="1" fill="#00ff6d"/><rect x="5" y="34" width="1" height="1" fill="#00ff5e"/><rect x="6" y="34" width="1" height="1" fill="#00ff50"/><rect x="7" y="34" width="1" height="1" fill="#00ff41"/><rect x="8" y="34" width="1" height="1" fill="#00ff33"/><rect x="9" y="34" width="1" height="1" fill="#00ff24"/><rect x="10" y="34" width="1" height="1" fill="#00ff16"/><rect x="11" y="34" width="1" height="1" fill="#00ff07"/><rect x="12" y="34" width="1" height="1" fill="#07ff00"/><rect x="13" y="34" width="1" height="1" fill="#16ff00"/><rect x="14" y="34" width="1" height="1" fill="#24ff00"/><rect x="15" y="34" width="1" height="1" fill="#33ff00"/><rect x="16" y="34" width="1" height="1" fill="#41ff00"/><rect x="17" y="34" width="1" height="1" fill="#50ff00"/><rect x="18" y="34" width="1" height="1" fill="#5eff00"/><rect x="19" y="34" width="1" height="1" fill="#6dff00"/><rect x="20" y="34" width="1" height="1" fill="#7bff00"/><rect x="21" y="34" width="1" height="1" fill="#8aff00"/><rect x="22" y="34" width="1" height="1" fill="#98ff00"/><rect x="23" y="34" width="1" height="1" fill="#a7ff00"/><rect x="24" y="34" width="1" height="1" fill="#b5ff00"/><rect x="25" y="34" width="1" height="1" fill="#c4ff00"/><rect x="26" y="34" width="1" height="1" fill="#d2ff00"/><rect x="27" y="34" width="1" height="1" fill="#e1ff00"/><rect x="28" y="34" width="1" height="1" fill="#efff00"/><rect x="29" y="34" width="1" height="1" fill="#feff00"/><rect x="30" y="34" width="1" height="1" fill="#fff200"/><rect x="31" y="34" width="1" height="1" fill="#ffe300"/><rect x="32" y="34" width="1" height="1" fill="#ffd500"/><rect x="33" y="34" width="1" height="1" fill="#ffc600"/><rect x="34" y="34" width="1" height="1" fill="#ffb800"/><rect x="35" y="34" width="1" height="1" fill="#ffa900"/><rect x="36" y="34" width="1" height="1" fill="#ff9b00"/><rect x="37" y="34" width="1" height="1" fill="#ff8c00"/><rect x="38" y="34" width="1" height="1" fill="#ff7e00"/><rect x="39" y="34" width="1" height="1" fill="#ff6f00"/>
<rect x="0" y="35" width="1" height="1" fill="#00ffa1"/><rect x="1" y="35" width="1" height="1" fill="#00ff93"/><rect x="2" y="35" width="1" height="1" fill="#00ff85"/><rect x="3" y="35" width="1" height="1" fill="#00ff77"/><rect x="4" y="35" width="1" height="1" fill="#00ff68"/><rect x="5" y="35" width="1" height="1" fill="#00ff5a"/><rect x="6" y="35" width="1" height="1" fill="#00ff4c"/><rect x="7" y="35" width="1" height="1" fill="#00ff3e"/><rect x="8" y="35" width="1" height="1" fill="#00ff2f"/><rect x="9" y="35" width="1" height="1" fill="#00ff21"/><rect x="10" y="35" width="1" height="1" fill="#00ff13"/><rect x="11" y="35" width="1" height="1" fill="#00ff05"/><rect x="12" y="35" width="1" height="1" fill="#0aff00"/><rect x="13" y="35" width="1" height="1" fill="#18ff00"/><rect x="14" y="35" width="1" height="1" fill="#26ff00"/><rect x="15" y="35" width="1" height="1" fill="#35ff00"/><rect x="16" y="35" width="1" height="1" fill="#43ff00"/><rect x="17" y="35" width="1" height="1" fill="#51ff00"/><rect x="18" y="35" width="1" height="1" fill="#5fff00"/><rect x="19" y="35" width="1" height="1" fill="#6eff00"/><rect x="20" y="35" width="1" height="1" fill="#7cff00"/><rect x="21" y="35" width="1" height="1" fill="#8aff00"/><rect x="22" y="35" width="1" height="1" fill="#98ff00"/><rect x="23" y="35" width="1" height="1" fill="#a7ff00"/><rect x="24" y="35" width="1" height="1" fill="#b5ff00"/><rect x="25" y="35" width="1" height="1" fill="#c3ff00"/><rect x="26" y="35" width="1" height="1" fill="#d1ff00"/><rect x="27" y="35" width="1" height="1" fill="#e0ff00"/><rect x="28" y="35" width="1" height="1" fill="#eeff00"/><rect x="29" y="35" width="1" height="1" fill="#fcff00"/><rect x="30" y="35" width="1" height="1" fill="#fff400"/><rect x="31" y="35" width="1" height="1" fill="#ffe500"/><rect x="32" y="35" width="1" height="1" fill="#ffd700"/><rect x="33" y="35" width="1" height="1" fill="#ffc900"/><rect x="34" y="35" width="1" height="1" fill="#ffba00"/><rect x="35" y="35" width="1" height="1" fill="#ffac00"/><rect x="36" y="35" width="1" height="1" fill="#ff9e00"/><rect x="37" y="35" width="1" height="1" fill="#ff9000"/><rect x="38" y="35" width="1" height="1" fill="#ff8100"/><rect x="39" y="35" width="1" height="1" fill="#ff7300"/>
<rect x="0" y="36" width="1" height="1" fill="#00ff9c"/><rect x="1" y="36" width="1" height="1" fill="#00ff8e"/><rect x="2" y="36" width="1" height="1" fill="#00ff80"/><rect x="3" y="36" width="1" height="1" fill="#00ff72"/><rect x="4" y="36" width="1" height="1" fill="#00ff64"/><rect x="5" y="36" width="1" height="1" fill="#00ff56"/><rect x="6" y="36" width="1" height="1" fill="#00ff48"/><rect x="7" y="36" width="1" height="1" fill="#00ff3a"/><rect x="8" y="36" width="1" height="1" fill="#00ff2c"/><rect x="9" y="36" width="1" height="1" fill="#00ff1e"/><rect x="10" y="36" width="1" height="1" fill="#00ff10"/><rect x="11" y="36" width="1" height="1" fill="#00ff02"/><rect x="12" y="36" width="1" height="1" fill="#0cff00"/><rect x="13" y="36" width="1" height="1" fill="#1aff00"/><rect x="14" y="36" width="1" height="1" fill="#28ff00"/><rect x="15" y="36" width="1" height="1" fill="#36ff00"/><rect x="16" y="36" width="1" height="1" fill="#44ff00"/><rect x="17" y="36" width="1" height="1" fill="#52ff00"/><rect x="18" y="36" width="1" height="1" fill="#60ff00"/><rect x="19" y="36" width="1" height="1" fill="#6eff00"/><rect x="20" y="36" width="1" height="1" fill="#7cff00"/><rect x="21" y="36" width="1" height="1" fill="#8aff00"/><rect x="22" y="36" width="1" height="1" fill="#98ff00"/><rect x="23" y="36" width="1" height="1" fill="#a7ff00"/><rect x="24" y="36" width="1" height="1" fill="#b5ff00"/><rect x="25" y="36" width="1" height="1" fill="#c3ff00"/><rect x="26" y="36" width="1" height="1" fill="#d1ff00"/><rect x="27" y="36" width="1" height="1" fill="#dfff00"/><rect x="28" y="36" width="1" height="1" fill="#edff00"/><rect x="29" y="36" width="1" height="1" fill="#fbff00"/><rect x="30" y="36" width="1" height="1" fill="#fff500"/><rect x="31" y="36" width="1" height="1" fill="#ffe700"/><rect x="32" y="36" width="1" height="1" fill="#ffd900"/><rect x="33" y="36" width="1" height="1" fill="#ffcb00"/><rect x="34" y="36" width="1" height="1" fill="#ffbd00"/><rect x="35" y="36" width="1" height="1" fill="#ffaf00"/><rect x="36" y="36" width="1" height="1" fill="#ffa100"/><rect x="37" y="36" width="1" height="1" fill="#ff9300"/><rect x="38" y="36" width="1" height="1" fill="#ff8500"/><rect x="39" y="36" width="1" height="1" fill="#ff7700"/>
<rect x="0" y="37" width="1" height="1" fill="#00ff96"/><rect x="1" y="37" width="1" height="1" fill="#00ff89"/><rect x="2" y="37" width="1" height="1" fill="#00ff7b"/><rect x="3" y="37" width="1" height="1" fill="#00ff6d"/><rect x="4" y="37" width="1" height="1" fill="#00ff5f"/><rect x="5" y="37" width="1" height="1" fill="#00ff51"/><rect x="6" y="37" width="1" height="1" fill="#00ff44"/><rect x="7" y="37" width="1" height="1" fill="#00ff36"/><rect x="8" y="37" width="1" height="1" fill="#00ff28"/><rect x="9" y="37" width="1" height="1" fill="#00ff1a"/><rect x="10" y="37" width="1" height="1" fill="#00ff0d"/><rect x="11" y="37" width="1" height="1" fill="#01ff00"/><rect x="12" y="37" width="1" height="1" fill="#0fff00"/><rect x="13" y="37" width="1" height="1" fill="#1dff00"/><rect x="14" y="37" width="1" height="1" fill="#2aff00"/><rect x="15" y="37" width="1" height="1" fill="#38ff00"/><rect x="16" y="37" width="1" height="1" fill="#46ff00"/><rect x="17" y="37" width="1" height="1" fill="#54ff00"/><rect x="18" y="37" width="1" height="1" fill="#62ff00"/><rect x="19" y="37" width="1" height="1" fill="#6fff00"/><rect x="20" y="37" width="1" height="1" fill="#7dff00"/><rect x="21" y="37" width="1" height="1" fill="#8bff00"/><rect x="22" y="37" width="1" height="1" fill="#99ff00"/><rect x="23" y="37" width="1" height="1" fill="#a6ff00"/><rect x="24" y="37" width="1" height="1" fill="#b4ff00"/><rect x="25" y="37" width="1" height="1" fill="#c2ff00"/><rect x="26" y="37" width="1" height="1" fill="#d0ff00"/><rect x="27" y="37" width="1" height="1" fill="#ddff00"/><rect x="28" y="37" width="1" height="1" fill="#ebff00"/><rect x="29" y="37" width="1" height="1" fill="#f9ff00"/><rect x="30" y="37" width="1" height="1" fill="#fff700"/><rect x="31" y="37" width="1" height="1" fill="#ffe900"/><rect x="32" y="37" width="1" height="1" fill="#ffdc00"/><rect x="33" y="37" width="1" height="1" fill="#ffce00"/><rect x="34" y="37" width="1" height="1" fill="#ffc000"/><rect x="35" y="37" width="1" height="1" fill="#ffb200"/><rect x="36" y="37" width="1" height="1" fill="#ffa500"/><rect x="37" y="37" width="1" height="1" fill="#ff9700"/><rect x="38" y="37" width="1" height="1" fill="#ff8900"/><rect x="39" y="37" width="1" height="1" fill="#ff7b00"/>
<rect x="0" y="38" width="1" height="1" fill="#00ff91"/><rect x="1" y="38" width="1" height="1" fill="#00ff83"/><rect x="2" y="38" width="1" height="1" fill="#00ff76"/><rect x="3" y="38" width="1" height="1" fill="#00ff68"/><rect x="4" y="38" width="1" height="1" fill="#00ff5b"/><rect x="5" y="38" width="1" height="1" fill="#00ff4d"/><rect x="6" y="38" width="1" height="1" fill="#00ff40"/><rect x="7" y="38" width="1" height="1" fill="#00ff32"/><rect x="8" y="38" width="1" height="1" fill="#00ff25"/><rect x="9" y="38" width="1" height="1" fill="#00ff17"/><rect x="10" y="38" width="1" height="1" fill="#00ff0a"/><rect x="11" y="38" width="1" height="1" fill="#04ff00"/><rect x="12" y="38" width="1" height="1" fill="#11ff00"/><rect x="13" y="38" width="1" height="1" fill="#1fff00"/><rect x="14" y="38" width="1" height="1" fill="#2dff00"/><rect x="15" y="38" width="1" height="1" fill="#3aff00"/><rect x="16" y="38" width="1" height="1" fill="#48ff00"/><rect x="17" y="38" width="1" height="1" fill="#55ff00"/><rect x="18" y="38" width="1" height="1" fill="#63ff00"/><rect x="19" y="38" width="1" height="1" fill="#70ff00"/><rect x="20" y="38" width="1" height="1" fill="#7eff00"/><rect x="21" y="38" width="1" height="1" fill="#8bff00"/><rect x="22" y="38" width="1" height="1" fill="#99ff00"/><rect x="23" y="38" width="1" height="1" fill="#a6ff00"/><rect x="24" y="38" width="1" height="1" fill="#b4ff00"/><rect x="25" y="38" width="1" height="1" fill="#c1ff00"/><rect x="26" y="38" width="1" height="1" fill="#cfff00"/><rect x="27" y="38" width="1" height="1" fill="#dcff00"/><rect x="28" y="38" width="1" height="1" fill="#eaff00"/><rect x="29" y="38" width="1" height="1" fill="#f7ff00"/><rect x="30" y="38" width="1" height="1" fill="#fff900"/><rect x="31" y="38" width="1" height="1" fill="#ffec00"/><rect x="32" y="38" width="1" height="1" fill="#ffde00"/><rect x="33" y="38" width="1" height="1" fill="#ffd100"/><rect x="34" y="38" width="1" height="1" fill="#ffc300"/><rect x="35" y="38" width="1" height="1" fill="#ffb600"/><rect x="36" y="38" width="1" height="1" fill="#ffa800"/><rect x="37" y="38" width="1" height="1" fill="#ff9a00"/><rect x="38" y="38" width="1" height="1" fill="#ff8d00"/><rect x="39" y="38" width="1" height="1" fill="#ff7f00"/>
<rect x="0" y="39" width="1" height="1" fill="#00ff8b"/><rect x="1" y="39" width="1" height="1" fill="#00ff7e"/><rect x="2" y="39" width="1" height="1" fill="#00ff71"/><rect x="3" y="39" width="1" height="1" fill="#00ff63"/><rect x="4" y="39" width="1" height="1" fill="#00ff56"/><rect x="5" y="39" width="1" height="1" fill="#00ff49"/><rect x="6" y="39" width="1" height="1" fill="#00ff3c"/><rect x="7" y="39" width="1" height="1" fill="#00ff2e"/><rect x="8" y="39" width="1" height="1" fill="#00ff21"/><rect x="9" y="39" width="1" height="1" fill="#00ff14"/><rect x="10" y="39" width="1" height="1" fill="#00ff06"/><rect x="11" y="39" width="1" height="1" fill="#07ff00"/><rect x="12" y="39" width="1" height="1" fill="#14ff00"/><rect x="13" y="39" width="1" height="1" fill="#21ff00"/><rect x="14" y="39" width="1" height="1" fill="#2fff00"/><rect x="15" y="39" width="1" height="1" fill="#3cff00"/><rect x="16" y="39" width="1" height="1" fill="#49ff00"/><rect x="17" y="39" width="1" height="1" fill="#56ff00"/><rect x="18" y="39" width="1" height="1" fill="#64ff00"/><rect x="19" y="39" width="1" height="1" fill="#71ff00"/><rect x="20" y="39" width="1" height="1" fill="#7eff00"/><rect x="21" y="39" width="1" height="1" fill="#8cff00"/><rect x="22" y="39" width="1" height="1" fill="#99ff00"/><rect x="23" y="39" width="1" height="1" fill="#a6ff00"/><rect x="24" y="39" width="1" height="1" fill="#b3ff00"/><rect x="25" y="39" width="1" height="1" fill="#c1ff00"/><rect x="26" y="39" width="1" height="1" fill="#ceff00"/><rect x="27" y="39" width="1" height="1" fill="#dbff00"/><rect x="28" y="39" width="1" height="1" fill="#e8ff00"/><rect x="29" y="39" width="1" height="1" fill="#f6ff00"/><rect x="30" y="39" width="1" height="1" fill="#fffb00"/><rect x="31" y="39" width="1" height="1" fill="#ffee00"/><rect x="32" y="39" width="1" height="1" fill="#ffe000"/><rect x="33" y="39" width="1" height="1" fill="#ffd300"/><rect x="34" y="39" width="1" height="1" fill="#ffc600"/><rect x="35" y="39" width="1" height="1" fill="#ffb900"/><rect x="36" y="39" width="1" height="1" fill="#ffab00"/><rect x="37" y="39" width="1" height="1" fill="#ff9e00"/><rect x="38" y="39" width="1" height="1" fill="#ff9100"/><rect x="39" y="39" width="1" height="1" fill="#ff8400"/>
</g>
<g fill="none" stroke="#000" stroke-width="2">
<rect x="421.3" y="76.2" width="1809.9" height="1091.1"/>
<path d="M369 76.2H421.3M369 349.0H421.3M369 621.8H421.3M369 894.5H421.3M369 1167.3H421.3M421.3 1167.3V1198.8M873.8 1167.3V1198.8M1326.2 1167.3V1198.8M1778.7 1167.3V1198.8M2231.2 1167.3V1198.8" stroke-width="1.8"/>
<path d="M421.3 815.6L423.0 812.7L428.2 803.6L433.3 794.5L438.4 785.4L443.4 776.3L448.4 767.2L453.3 758.1L458.2 749.0L463.1 740.0L467.9 730.9L472.6 721.8L477.3 712.7L482.0 703.6L486.6 694.5L491.2 685.4L495.7 676.3L500.2 667.2L504.6 658.1L509.0 649.0L513.4 639.9L517.7 630.8L522.0 621.8L526.3 612.7L530.5 603.6L534.6 594.5L538.8 585.4L542.9 576.3L546.9 567.2L550.9 558.1L554.9 549.0L558.9 539.9L562.8 530.8L566.7 521.7L570.5 512.6L574.4 503.5L578.2 494.5L581.9 485.4L585.6 476.3L589.3 467.2L593.0 458.1L596.6 449.0L600.2 439.9L603.8 430.8L607.3 421.7L610.8 412.6L614.3 403.5L617.8 394.4L621.2 385.3L624.6 376.3L628.0 367.2L631.3 358.1L634.6 349.0L637.9 339.9L641.2 330.8L644.4 321.7L647.6 312.6L650.8 303.5L654.0 294.4L657.1 285.3L660.2 276.2L663.3 267.1L666.4 258.0L669.4 249.0L672.4 239.9L675.4 230.8L678.4 221.7L681.3 212.6L684.3 203.5L687.2 194.4L690.1 185.3L692.9 176.2L695.8 167.1L698.6 158.0L701.4 148.9L704.2 139.8L706.9 130.8L709.7 121.7L712.4 112.6L715.1 103.5L717.8 94.4L720.4 85.3L723.1 76.2L723.1 76.2"/>
<path d="M698.4 1167.3L698.4 1167.3L703.1 1158.2L707.8 1149.1L712.4 1140.0L717.0 1130.9L721.5 1121.8L725.9 1112.7L730.3 1103.7L734.7 1094.6L739.0 1085.5L743.2 1076.4L747.4 1067.3L751.6 1058.2L755.7 1049.1L759.7 1040.0L763.7 1030.9L767.7 1021.8L771.6 1012.7L775.5 1003.6L779.3 994.5L783.1 985.5L786.8 976.4L790.5 967.3L794.2 958.2L797.8 949.1L801.4 940.0L804.9 930.9L808.4 921.8L811.9 912.7L815.3 903.6L818.7 894.5L822.1 885.4L825.4 876.3L828.7 867.2L831.9 858.2L835.2 849.1L838.4 840.0L841.5 830.9L844.6 821.8L847.7 812.7L850.8 803.6L853.8 794.5L856.8 785.4L859.8 776.3L862.7 767.2L865.7 758.1L868.5 749.0L871.4 740.0L874.2 730.9L877.0 721.8L879.8 712.7L882.6 703.6L885.3 694.5L888.0 685.4L890.7 676.3L893.3 667.2L895.9 658.1L898.5 649.0L901.1 639.9L903.7 630.8L906.2 621.8L908.7 612.7L911.2 603.6L913.6 594.5L916.1 585.4L918.5 576.3L920.9 567.2L923.3 558.1L925.6 549.0L928.0 539.9L930.3 530.8L932.6 521.7L934.8 512.6L937.1 503.5L939.3 494.5L941.5 485.4L943.7 476.3L945.9 467.2L948.1 458.1L950.2 449.0L952.3 439.9L954.4 430.8L956.5 421.7L958.6 412.6L960.7 403.5L962.7 394.4L964.7 385.3L966.7 376.3L968.7 367.2L970.7 358.1L972.6 349.0L974.6 339.9L976.5 330.8L978.4 321.7L980.3 312.6L982.2 303.5L984.1 294.4L985.9 285.3L987.8 276.2L989.6 267.1L991.4 258.0L993.2 249.0L995.0 239.9L996.7 230.8L998.5 221.7L1000.2 212.6L1002.0 203.5L1003.7 194.4L1005.4 185.3L1007.1 176.2L1008.7 167.1L1010.4 158.0L1012.1 148.9L1013.7 139.8L1015.3 130.8L1016.9 121.7L1018.5 112.6L1020.1 103.5L1021.7 94.4L1023.3 85.3L1024.9 76.2L1024.9 76.2"/>
<path d="M1226.8 1167.3L1226.8 1167.3L1228.3 1158.2L1229.7 1149.1L1231.1 1140.0L1232.5 1130.9L1233.9 1121.8L1235.3 1112.7L1236.6 1103.7L1237.9 1094.6L1239.2 1085.5L1240.5 1076.4L1241.8 1067.3L1243.1 1058.2L1244.3 1049.1L1245.6 1040.0L1246.8 1030.9L1248.0 1021.8L1249.2 1012.7L1250.4 1003.6L1251.6 994.5L1252.7 985.5L1253.9 976.4L1255.0 967.3L1256.1 958.2L1257.2 949.1L1258.3 940.0L1259.4 930.9L1260.5 921.8L1261.5 912.7L1262.6 903.6L1263.6 894.5L1264.6 885.4L1265.7 876.3L1266.7 867.2L1267.7 858.2L1268.6 849.1L1269.6 840.0L1270.6 830.9L1271.5 821.8L1272.5 812.7L1273.4 803.6L1274.3 794.5L1275.3 785.4L1276.2 776.3L1277.1 767.2L1278.0 758.1L1278.8 749.0L1279.7 740.0L1280.6 730.9L1281.4 721.8L1282.3 712.7L1283.1 703.6L1284.0 694.5L1284.8 685.4L1285.6 676.3L1286.4 667.2L1287.2 658.1L1288.0 649.0L1288.8 639.9L1289.6 630.8L1290.4 621.8L1291.1 612.7L1291.9 603.6L1292.6 594.5L1293.4 585.4L1294.1 576.3L1294.9 567.2L1295.6 558.1L1296.3 549.0L1297.0 539.9L1297.7 530.8L1298.4 521.7L1299.1 512.6L1299.8 503.5L1300.5 494.5L1301.2 485.4L1301.8 476.3L1302.5 467.2L1303.2 458.1L1303.8 449.0L1304.5 439.9L1305.1 430.8L1305.8 421.7L1306.4 412.6L1307.0 403.5L1307.6 394.4L1308.3 385.3L1308.9 376.3L1309.5 367.2L1310.1 358.1L1310.7 349.0L1311.3 339.9L1311.9 330.8L1312.4 321.7L1313.0 312.6L1313.6 303.5L1314.2 294.4L1314.7 285.3L1315.3 276.2L1315.9 267.1L1316.4 258.0L1317.0 249.0L1317.5 239.9L1318.0 230.8L1318.6 221.7L1319.1 212.6L1319.6 203.5L1320.2 194.4L1320.7 185.3L1321.2 176.2L1321.7 167.1L1322.2 158.0L1322.7 148.9L1323.2 139.8L1323.7 130.8L1324.2 121.7L1324.7 112.6L1325.2 103.5L1325.7 94.4L1326.2 85.3L1326.6 76.2L1326.6 76.2"/>
<path d="M1755.3 1167.3L1755.3 1167.3L1753.4 1158.2L1751.6 1149.1L1749.8 1140.0L1748.0 1130.9L1746.3 1121.8L1744.6 1112.7L1742.9 1103.7L1741.2 1094.6L1739.5 1085.5L1737.9 1076.4L1736.2 1067.3L1734.6 1058.2L1733.0 1049.1L1731.4 1040.0L1729.9 1030.9L1728.4 1021.8L1726.8 1012.7L1725.3 1003.6L1723.8 994.5L1722.4 985.5L1720.9 976.4L1719.5 967.3L1718.1 958.2L1716.7 949.1L1715.3 940.0L1713.9 930.9L1712.5 921.8L1711.2 912.7L1709.8 903.6L1708.5 894.5L1707.2 885.4L1705.9 876.3L1704.6 867.2L1703.4 858.2L1702.1 849.1L1700.9 840.0L1699.7 830.9L1698.5 821.8L1697.2 812.7L1696.1 803.6L1694.9 794.5L1693.7 785.4L1692.6 776.3L1691.4 767.2L1690.3 758.1L1689.2 749.0L1688.1 740.0L1687.0 730.9L1685.9 721.8L1684.8 712.7L1683.7 703.6L1682.7 694.5L1681.6 685.4L1680.6 676.3L1679.5 667.2L1678.5 658.1L1677.5 649.0L1676.5 639.9L1675.5 630.8L1674.5 621.8L1673.6 612.7L1672.6 603.6L1671.6 594.5L1670.7 585.4L1669.8 576.3L1668.8 567.2L1667.9 558.1L1667.0 549.0L1666.1 539.9L1665.2 530.8L1664.3 521.7L1663.4 512.6L1662.5 503.5L1661.7 494.5L1660.8 485.4L1659.9 476.3L1659.1 467.2L1658.3 458.1L1657.4 449.0L1656.6 439.9L1655.8 430.8L1655.0 421.7L1654.2 412.6L1653.4 403.5L1652.6 394.4L1651.8 385.3L1651.0 376.3L1650.2 367.2L1649.5 358.1L1648.7 349.0L1648.0 339.9L1647.2 330.8L1646.5 321.7L1645.7 312.6L1645.0 303.5L1644.3 294.4L1643.6 285.3L1642.8 276.2L1642.1 267.1L1641.4 258.0L1640.7 249.0L1640.0 239.9L1639.4 230.8L1638.7 221.7L1638.0 212.6L1637.3 203.5L1636.7 194.4L1636.0 185.3L1635.3 176.2L1634.7 167.1L1634.0 158.0L1633.4 148.9L1632.8 139.8L1632.1 130.8L1631.5 121.7L1630.9 112.6L1630.3 103.5L1629.6 94.4L1629.0 85.3L1628.4 76.2L1628.4 76.2"/>
<path d="M2231.2 1068.4L2230.6 1067.3L2226.1 1058.2L2221.7 1049.1L2217.3 1040.0L2213.0 1030.9L2208.7 1021.8L2204.5 1012.7L2200.3 1003.6L2196.1 994.5L2192.0 985.5L2188.0 976.4L2184.0 967.3L2180.0 958.2L2176.1 949.1L2172.2 940.0L2168.4 930.9L2164.6 921.8L2160.8 912.7L2157.1 903.6L2153.4 894.5L2149.8 885.4L2146.2 876.3L2142.6 867.2L2139.1 858.2L2135.6 849.1L2132.2 840.0L2128.7 830.9L2125.4 821.8L2122.0 812.7L2118.7 803.6L2115.4 794.5L2112.2 785.4L2108.9 776.3L2105.8 767.2L2102.6 758.1L2099.5 749.0L2096.4 740.0L2093.3 730.9L2090.3 721.8L2087.3 712.7L2084.3 703.6L2081.3 694.5L2078.4 685.4L2075.5 676.3L2072.7 667.2L2069.8 658.1L2067.0 649.0L2064.2 639.9L2061.4 630.8L2058.7 621.8L2056.0 612.7L2053.3 603.6L2050.6 594.5L2048.0 585.4L2045.4 576.3L2042.8 567.2L2040.2 558.1L2037.7 549.0L2035.1 539.9L2032.6 530.8L2030.1 521.7L2027.7 512.6L2025.2 503.5L2022.8 494.5L2020.4 485.4L2018.0 476.3L2015.7 467.2L2013.4 458.1L2011.0 449.0L2008.7 439.9L2006.5 430.8L2004.2 421.7L2001.9 412.6L1999.7 403.5L1997.5 394.4L1995.3 385.3L1993.2 376.3L1991.0 367.2L1988.9 358.1L1986.7 349.0L1984.6 339.9L1982.6 330.8L1980.5 321.7L1978.4 312.6L1976.4 303.5L1974.4 294.4L1972.4 285.3L1970.4 276.2L1968.4 267.1L1966.4 258.0L1964.5 249.0L1962.6 239.9L1960.7 230.8L1958.8 221.7L1956.9 212.6L1955.0 203.5L1953.1 194.4L1951.3 185.3L1949.5 176.2L1947.7 167.1L1945.9 158.0L1944.1 148.9L1942.3 139.8L1940.5 130.8L1938.8 121.7L1937.0 112.6L1935.3 103.5L1933.6 94.4L1931.9 85.3L1930.2 76.2L1930.2 76.2"/>
</g>
<text id="ay0" class="n" style="font-size:33.70px" x="218.99" y="85.30" textLength="134.72" lengthAdjust="spacingAndGlyphs">60.00</text>
<text id="ay1" class="n" style="font-size:33.70px" x="220.99" y="358.07" textLength="132.72" lengthAdjust="spacingAndGlyphs">47.50</text>
<text id="ay2" class="n" style="font-size:33.70px" x="219.99" y="630.85" textLength="133.72" lengthAdjust="spacingAndGlyphs">35.00</text>
<text id="ay3" class="n" style="font-size:33.70px" x="218.99" y="903.62" textLength="134.72" lengthAdjust="spacingAndGlyphs">22.50</text>
<text id="ay4" class="n" style="font-size:33.70px" x="217.99" y="1176.40" textLength="135.72" lengthAdjust="spacingAndGlyphs">10.00</text>
<text id="ax0" class="n" style="font-size:33.70px" x="353.29" y="1237.80" textLength="135.02" lengthAdjust="spacingAndGlyphs">20.00</text>
<text id="ax1" class="n" style="font-size:33.70px" x="806.01" y="1237.80" textLength="135.02" lengthAdjust="spacingAndGlyphs">25.00</text>
<text id="ax2" class="n" style="font-size:33.70px" x="1258.74" y="1237.80" textLength="135.02" lengthAdjust="spacingAndGlyphs">30.00</text>
<text id="ax3" class="n" style="font-size:33.70px" x="1711.46" y="1237.80" textLength="134.02" lengthAdjust="spacingAndGlyphs">35.00</text>
<text id="ax4" class="n" style="font-size:33.70px" x="2165.19" y="1237.80" textLength="133.02" lengthAdjust="spacingAndGlyphs">40.00</text>
<rect x="485.0" y="413.2" width="209.6" height="41.0" fill="#fff" stroke="#000" stroke-width="2"/><text id="al0" class="n" style="font-size:37.00px" x="496.09" y="450.30" textLength="191.42" lengthAdjust="spacingAndGlyphs">44.286</text>
<rect x="780.8" y="576.9" width="243.8" height="41.2" fill="#fff" stroke="#000" stroke-width="2"/><text id="al1" class="n" style="font-size:37.00px" x="792.09" y="614.20" textLength="225.42" lengthAdjust="spacingAndGlyphs">54.8868</text>
<rect x="1162.2" y="604.3" width="243.9" height="41.3" fill="#fff" stroke="#000" stroke-width="2"/><text id="al2" class="n" style="font-size:37.00px" x="1173.49" y="641.70" textLength="225.52" lengthAdjust="spacingAndGlyphs">65.4876</text>
<rect x="1549.1" y="576.9" width="243.4" height="41.0" fill="#fff" stroke="#000" stroke-width="2"/><text id="al3" class="n" style="font-size:37.00px" x="1560.39" y="614.00" textLength="225.02" lengthAdjust="spacingAndGlyphs">76.0885</text>
<rect x="1925.6" y="549.5" width="243.7" height="41.3" fill="#fff" stroke="#000" stroke-width="2"/><text id="al4" class="n" style="font-size:37.00px" x="1936.89" y="586.90" textLength="225.32" lengthAdjust="spacingAndGlyphs">86.6893</text>
<text id="axt" class="t" style="font-size:50.00px" x="882.00" y="1329.70" textLength="861.20" lengthAdjust="spacingAndGlyphs">ultrasonic amplitude (%)</text>
<text id="ayt" class="t" style="font-size:46px;stroke-width:.3px" transform="translate(100 968.30) rotate(-90) scale(1.45 1)" x="-3.86 14.83 32.94 45.05 53.23 71.24 89.93 99.29 117.30 127.67 137.02 155.71 163.89 179.23 194.57 212.58 220.77 239.43 250.97 259.16 277.17 295.83 305.19 316.67 345.35 353.53 372.19 390.85 402.40 420.51 435.85" y="0">period of dissolution (minutes)</text>
<text id="atag" class="t" style="font-size:49.00px" x="37.33" y="77.90" textLength="67.14" lengthAdjust="spacingAndGlyphs">a)</text>
<g shape-rendering="crispEdges" transform="translate(405 1507) scale(45.62500 26.83750)">
<rect x="0" y="0" width="4" height="1" fill="#0000ff"/><rect x="4" y="0" width="1" height="1" fill="#0001ff"/><rect x="5" y="0" width="1" height="1" fill="#000cff"/><rect x="6" y="0" width="1" height="1" fill="#0016ff"/><rect x="7" y="0" width="1" height="1" fill="#0021ff"/><rect x="8" y="0" width="1" height="1" fill="#002cff"/><rect x="9" y="0" width="1" height="1" fill="#0036ff"/><rect x="10" y="0" width="1" height="1" fill="#0041ff"/><rect x="11" y="0" width="1" height="1" fill="#004cff"/><rect x="12" y="0" width="1" height="1" fill="#0056ff"/><rect x="13" y="0" width="1" height="1" fill="#0061ff"/><rect x="14" y="0" width="1" height="1" fill="#006cff"/><rect x="15" y="0" width="1" height="1" fill="#0077ff"/><rect x="16" y="0" width="1" height="1" fill="#0081ff"/><rect x="17" y="0" width="1" height="1" fill="#008cff"/><rect x="18" y="0" width="1" height="1" fill="#0097ff"/><rect x="19" y="0" width="1" height="1" fill="#00a1ff"/><rect x="20" y="0" width="1" height="1" fill="#00acff"/><rect x="21" y="0" width="1" height="1" fill="#00b7ff"/><rect x="22" y="0" width="1" height="1" fill="#00c1ff"/><rect x="23" y="0" width="1" height="1" fill="#00ccff"/><rect x="24" y="0" width="1" height="1" fill="#00d7ff"/><rect x="25" y="0" width="1" height="1" fill="#00e2ff"/><rect x="26" y="0" width="1" height="1" fill="#00ecff"/><rect x="27" y="0" width="1" height="1" fill="#00f7ff"/><rect x="28" y="0" width="1" height="1" fill="#00fffc"/><rect x="29" y="0" width="1" height="1" fill="#00fff2"/><rect x="30" y="0" width="1" height="1" fill="#00ffe7"/><rect x="31" y="0" width="1" height="1" fill="#00ffdc"/><rect x="32" y="0" width="1" height="1" fill="#00ffd2"/><rect x="33" y="0" width="1" height="1" fill="#00ffc7"/><rect x="34" y="0" width="1" height="1" fill="#00ffbc"/><rect x="35" y="0" width="1" height="1" fill="#00ffb1"/><rect x="36" y="0" width="1" height="1" fill="#00ffa7"/><rect x="37" y="0" width="1" height="1" fill="#00ff9c"/><rect x="38" y="0" width="1" height="1" fill="#00ff91"/><rect x="39" y="0" width="1" height="1" fill="#00ff87"/>
<rect x="0" y="1" width="4" height="1" fill="#0000ff"/><rect x="4" y="1" width="1" height="1" fill="#0008ff"/><rect x="5" y="1" width="1" height="1" fill="#0013ff"/><rect x="6" y="1" width="1" height="1" fill="#001eff"/><rect x="7" y="1" width="1" height="1" fill="#002aff"/><rect x="8" y="1" width="1" height="1" fill="#0035ff"/><rect x="9" y="1" width="1" height="1" fill="#0040ff"/><rect x="10" y="1" width="1" height="1" fill="#004bff"/><rect x="11" y="1" width="1" height="1" fill="#0056ff"/><rect x="12" y="1" width="1" height="1" fill="#0061ff"/><rect x="13" y="1" width="1" height="1" fill="#006cff"/><rect x="14" y="1" width="1" height="1" fill="#0077ff"/><rect x="15" y="1" width="1" height="1" fill="#0082ff"/><rect x="16" y="1" width="1" height="1" fill="#008dff"/><rect x="17" y="1" width="1" height="1" fill="#0098ff"/><rect x="18" y="1" width="1" height="1" fill="#00a3ff"/><rect x="19" y="1" width="1" height="1" fill="#00aeff"/><rect x="20" y="1" width="1" height="1" fill="#00b9ff"/><rect x="21" y="1" width="1" height="1" fill="#00c5ff"/><rect x="22" y="1" width="1" height="1" fill="#00d0ff"/><rect x="23" y="1" width="1" height="1" fill="#00dbff"/><rect x="24" y="1" width="1" height="1" fill="#00e6ff"/><rect x="25" y="1" width="1" height="1" fill="#00f1ff"/><rect x="26" y="1" width="1" height="1" fill="#00fcff"/><rect x="27" y="1" width="1" height="1" fill="#00fff7"/><rect x="28" y="1" width="1" height="1" fill="#00ffec"/><rect x="29" y="1" width="1" height="1" fill="#00ffe1"/><rect x="30" y="1" width="1" height="1" fill="#00ffd6"/><rect x="31" y="1" width="1" height="1" fill="#00ffcb"/><rect x="32" y="1" width="1" height="1" fill="#00ffc0"/><rect x="33" y="1" width="1" height="1" fill="#00ffb5"/><rect x="34" y="1" width="1" height="1" fill="#00ffaa"/><rect x="35" y="1" width="1" height="1" fill="#00ff9e"/><rect x="36" y="1" width="1" height="1" fill="#00ff93"/><rect x="37" y="1" width="1" height="1" fill="#00ff88"/><rect x="38" y="1" width="1" height="1" fill="#00ff7d"/><rect x="39" y="1" width="1" height="1" fill="#00ff72"/>
<rect x="0" y="2" width="3" height="1" fill="#0000ff"/><rect x="3" y="2" width="1" height="1" fill="#0004ff"/><rect x="4" y="2" width="1" height="1" fill="#0010ff"/><rect x="5" y="2" width="1" height="1" fill="#001bff"/><rect x="6" y="2" width="1" height="1" fill="#0027ff"/><rect x="7" y="2" width="1" height="1" fill="#0032ff"/><rect x="8" y="2" width="1" height="1" fill="#003dff"/><rect x="9" y="2" width="1" height="1" fill="#0049ff"/><rect x="10" y="2" width="1" height="1" fill="#0054ff"/><rect x="11" y="2" width="1" height="1" fill="#0060ff"/><rect x="12" y="2" width="1" height="1" fill="#006bff"/><rect x="13" y="2" width="1" height="1" fill="#0077ff"/><rect x="14" y="2" width="1" height="1" fill="#0082ff"/><rect x="15" y="2" width="1" height="1" fill="#008eff"/><rect x="16" y="2" width="1" height="1" fill="#0099ff"/><rect x="17" y="2" width="1" height="1" fill="#00a5ff"/><rect x="18" y="2" width="1" height="1" fill="#00b0ff"/><rect x="19" y="2" width="1" height="1" fill="#00bbff"/><rect x="20" y="2" width="1" height="1" fill="#00c7ff"/><rect x="21" y="2" width="1" height="1" fill="#00d2ff"/><rect x="22" y="2" width="1" height="1" fill="#00deff"/><rect x="23" y="2" width="1" height="1" fill="#00e9ff"/><rect x="24" y="2" width="1" height="1" fill="#00f5ff"/><rect x="25" y="2" width="1" height="1" fill="#00fffe"/><rect x="26" y="2" width="1" height="1" fill="#00fff2"/><rect x="27" y="2" width="1" height="1" fill="#00ffe7"/><rect x="28" y="2" width="1" height="1" fill="#00ffdc"/><rect x="29" y="2" width="1" height="1" fill="#00ffd0"/><rect x="30" y="2" width="1" height="1" fill="#00ffc5"/><rect x="31" y="2" width="1" height="1" fill="#00ffb9"/><rect x="32" y="2" width="1" height="1" fill="#00ffae"/><rect x="33" y="2" width="1" height="1" fill="#00ffa2"/><rect x="34" y="2" width="1" height="1" fill="#00ff97"/><rect x="35" y="2" width="1" height="1" fill="#00ff8b"/><rect x="36" y="2" width="1" height="1" fill="#00ff80"/><rect x="37" y="2" width="1" height="1" fill="#00ff75"/><rect x="38" y="2" width="1" height="1" fill="#00ff69"/><rect x="39" y="2" width="1" height="1" fill="#00ff5e"/>
<rect x="0" y="3" width="3" height="1" fill="#0000ff"/><rect x="3" y="3" width="1" height="1" fill="#000bff"/><rect x="4" y="3" width="1" height="1" fill="#0017ff"/><rect x="5" y="3" width="1" height="1" fill="#0023ff"/><rect x="6" y="3" width="1" height="1" fill="#002fff"/><rect x="7" y="3" width="1" height="1" fill="#003bff"/><rect x="8" y="3" width="1" height="1" fill="#0046ff"/><rect x="9" y="3" width="1" height="1" fill="#0052ff"/><rect x="10" y="3" width="1" height="1" fill="#005eff"/><rect x="11" y="3" width="1" height="1" fill="#006aff"/><rect x="12" y="3" width="1" height="1" fill="#0076ff"/><rect x="13" y="3" width="1" height="1" fill="#0081ff"/><rect x="14" y="3" width="1" height="1" fill="#008dff"/><rect x="15" y="3" width="1" height="1" fill="#0099ff"/><rect x="16" y="3" width="1" height="1" fill="#00a5ff"/><rect x="17" y="3" width="1" height="1" fill="#00b1ff"/><rect x="18" y="3" width="1" height="1" fill="#00bdff"/><rect x="19" y="3" width="1" height="1" fill="#00c8ff"/><rect x="20" y="3" width="1" height="1" fill="#00d4ff"/><rect x="21" y="3" width="1" height="1" fill="#00e0ff"/><rect x="22" y="3" width="1" height="1" fill="#00ecff"/><rect x="23" y="3" width="1" height="1" fill="#00f8ff"/><rect x="24" y="3" width="1" height="1" fill="#00fffa"/><rect x="25" y="3" width="1" height="1" fill="#00ffef"/><rect x="26" y="3" width="1" height="1" fill="#00ffe3"/><rect x="27" y="3" width="1" height="1" fill="#00ffd7"/><rect x="28" y="3" width="1" height="1" fill="#00ffcb"/><rect x="29" y="3" width="1" height="1" fill="#00ffbf"/><rect x="30" y="3" width="1" height="1" fill="#00ffb4"/><rect x="31" y="3" width="1" height="1" fill="#00ffa8"/><rect x="32" y="3" width="1" height="1" fill="#00ff9c"/><rect x="33" y="3" width="1" height="1" fill="#00ff90"/><rect x="34" y="3" width="1" height="1" fill="#00ff84"/><rect x="35" y="3" width="1" height="1" fill="#00ff78"/><rect x="36" y="3" width="1" height="1" fill="#00ff6d"/><rect x="37" y="3" width="1" height="1" fill="#00ff61"/><rect x="38" y="3" width="1" height="1" fill="#00ff55"/><rect x="39" y="3" width="1" height="1" fill="#00ff49"/>
<rect x="0" y="4" width="2" height="1" fill="#0000ff"/><rect x="2" y="4" width="1" height="1" fill="#0006ff"/><rect x="3" y="4" width="1" height="1" fill="#0012ff"/><rect x="4" y="4" width="1" height="1" fill="#001fff"/><rect x="5" y="4" width="1" height="1" fill="#002bff"/><rect x="6" y="4" width="1" height="1" fill="#0037ff"/><rect x="7" y="4" width="1" height="1" fill="#0043ff"/><rect x="8" y="4" width="1" height="1" fill="#004fff"/><rect x="9" y="4" width="1" height="1" fill="#005bff"/><rect x="10" y="4" width="1" height="1" fill="#0068ff"/><rect x="11" y="4" width="1" height="1" fill="#0074ff"/><rect x="12" y="4" width="1" height="1" fill="#0080ff"/><rect x="13" y="4" width="1" height="1" fill="#008cff"/><rect x="14" y="4" width="1" height="1" fill="#0098ff"/><rect x="15" y="4" width="1" height="1" fill="#00a5ff"/><rect x="16" y="4" width="1" height="1" fill="#00b1ff"/><rect x="17" y="4" width="1" height="1" fill="#00bdff"/><rect x="18" y="4" width="1" height="1" fill="#00c9ff"/><rect x="19" y="4" width="1" height="1" fill="#00d5ff"/><rect x="20" y="4" width="1" height="1" fill="#00e2ff"/><rect x="21" y="4" width="1" height="1" fill="#00eeff"/><rect x="22" y="4" width="1" height="1" fill="#00faff"/><rect x="23" y="4" width="1" height="1" fill="#00fff8"/><rect x="24" y="4" width="1" height="1" fill="#00ffec"/><rect x="25" y="4" width="1" height="1" fill="#00ffdf"/><rect x="26" y="4" width="1" height="1" fill="#00ffd3"/><rect x="27" y="4" width="1" height="1" fill="#00ffc7"/><rect x="28" y="4" width="1" height="1" fill="#00ffbb"/><rect x="29" y="4" width="1" height="1" fill="#00ffaf"/><rect x="30" y="4" width="1" height="1" fill="#00ffa2"/><rect x="31" y="4" width="1" height="1" fill="#00ff96"/><rect x="32" y="4" width="1" height="1" fill="#00ff8a"/><rect x="33" y="4" width="1" height="1" fill="#00ff7e"/><rect x="34" y="4" width="1" height="1" fill="#00ff72"/><rect x="35" y="4" width="1" height="1" fill="#00ff65"/><rect x="36" y="4" width="1" height="1" fill="#00ff59"/><rect x="37" y="4" width="1" height="1" fill="#00ff4d"/><rect x="38" y="4" width="1" height="1" fill="#00ff41"/><rect x="39" y="4" width="1" height="1" fill="#00ff35"/>
<rect x="0" y="5" width="2" height="1" fill="#0000ff"/><rect x="2" y="5" width="1" height="1" fill="#000dff"/><rect x="3" y="5" width="1" height="1" fill="#0019ff"/><rect x="4" y="5" width="1" height="1" fill="#0026ff"/><rect x="5" y="5" width="1" height="1" fill="#0032ff"/><rect x="6" y="5" width="1" height="1" fill="#003fff"/><rect x="7" y="5" width="1" height="1" fill="#004cff"/><rect x="8" y="5" width="1" height="1" fill="#0058ff"/><rect x="9" y="5" width="1" height="1" fill="#0065ff"/><rect x="10" y="5" width="1" height="1" fill="#0071ff"/><rect x="11" y="5" width="1" height="1" fill="#007eff"/><rect x="12" y="5" width="1" height="1" fill="#008aff"/><rect x="13" y="5" width="1" height="1" fill="#0097ff"/><rect x="14" y="5" width="1" height="1" fill="#00a4ff"/><rect x="15" y="5" width="1" height="1" fill="#00b0ff"/><rect x="16" y="5" width="1" height="1" fill="#00bdff"/><rect x="17" y="5" width="1" height="1" fill="#00c9ff"/><rect x="18" y="5" width="1" height="1" fill="#00d6ff"/><rect x="19" y="5" width="1" height="1" fill="#00e2ff"/><rect x="20" y="5" width="1" height="1" fill="#00efff"/><rect x="21" y="5" width="1" height="1" fill="#00fcff"/><rect x="22" y="5" width="1" height="1" fill="#00fff6"/><rect x="23" y="5" width="1" height="1" fill="#00ffe9"/><rect x="24" y="5" width="1" height="1" fill="#00ffdd"/><rect x="25" y="5" width="1" height="1" fill="#00ffd0"/><rect x="26" y="5" width="1" height="1" fill="#00ffc4"/><rect x="27" y="5" width="1" height="1" fill="#00ffb7"/><rect x="28" y="5" width="1" height="1" fill="#00ffaa"/><rect x="29" y="5" width="1" height="1" fill="#00ff9e"/><rect x="30" y="5" width="1" height="1" fill="#00ff91"/><rect x="31" y="5" width="1" height="1" fill="#00ff85"/><rect x="32" y="5" width="1" height="1" fill="#00ff78"/><rect x="33" y="5" width="1" height="1" fill="#00ff6c"/><rect x="34" y="5" width="1" height="1" fill="#00ff5f"/><rect x="35" y="5" width="1" height="1" fill="#00ff52"/><rect x="36" y="5" width="1" height="1" fill="#00ff46"/><rect x="37" y="5" width="1" height="1" fill="#00ff39"/><rect x="38" y="5" width="1" height="1" fill="#00ff2d"/><rect x="39" y="5" width="1" height="1" fill="#00ff20"/>
<rect x="0" y="6" width="1" height="1" fill="#0000ff"/><rect x="1" y="6" width="1" height="1" fill="#0006ff"/><rect x="2" y="6" width="1" height="1" fill="#0013ff"/><rect x="3" y="6" width="1" height="1" fill="#0020ff"/><rect x="4" y="6" width="1" height="1" fill="#002dff"/><rect x="5" y="6" width="1" height="1" fill="#003aff"/><rect x="6" y="6" width="1" height="1" fill="#0047ff"/><rect x="7" y="6" width="1" height="1" fill="#0054ff"/><rect x="8" y="6" width="1" height="1" fill="#0061ff"/><rect x="9" y="6" width="1" height="1" fill="#006eff"/><rect x="10" y="6" width="1" height="1" fill="#007bff"/><rect x="11" y="6" width="1" height="1" fill="#0088ff"/><rect x="12" y="6" width="1" height="1" fill="#0095ff"/><rect x="13" y="6" width="1" height="1" fill="#00a2ff"/><rect x="14" y="6" width="1" height="1" fill="#00afff"/><rect x="15" y="6" width="1" height="1" fill="#00bcff"/><rect x="16" y="6" width="1" height="1" fill="#00c9ff"/><rect x="17" y="6" width="1" height="1" fill="#00d6ff"/><rect x="18" y="6" width="1" height="1" fill="#00e3ff"/><rect x="19" y="6" width="1" height="1" fill="#00efff"/><rect x="20" y="6" width="1" height="1" fill="#00fcff"/><rect x="21" y="6" width="1" height="1" fill="#00fff5"/><rect x="22" y="6" width="1" height="1" fill="#00ffe8"/><rect x="23" y="6" width="1" height="1" fill="#00ffdb"/><rect x="24" y="6" width="1" height="1" fill="#00ffce"/><rect x="25" y="6" width="1" height="1" fill="#00ffc1"/><rect x="26" y="6" width="1" height="1" fill="#00ffb4"/><rect x="27" y="6" width="1" height="1" fill="#00ffa7"/><rect x="28" y="6" width="1" height="1" fill="#00ff9a"/><rect x="29" y="6" width="1" height="1" fill="#00ff8d"/><rect x="30" y="6" width="1" height="1" fill="#00ff80"/><rect x="31" y="6" width="1" height="1" fill="#00ff73"/><rect x="32" y="6" width="1" height="1" fill="#00ff66"/><rect x="33" y="6" width="1" height="1" fill="#00ff59"/><rect x="34" y="6" width="1" height="1" fill="#00ff4c"/><rect x="35" y="6" width="1" height="1" fill="#00ff3f"/><rect x="36" y="6" width="1" height="1" fill="#00ff32"/><rect x="37" y="6" width="1" height="1" fill="#00ff25"/><rect x="38" y="6" width="1" height="1" fill="#00ff19"/><rect x="39" y="6" width="1" height="1" fill="#00ff0c"/>
<rect x="0" y="7" width="1" height="1" fill="#0000ff"/><rect x="1" y="7" width="1" height="1" fill="#000dff"/><rect x="2" y="7" width="1" height="1" fill="#001aff"/><rect x="3" y="7" width="1" height="1" fill="#0027ff"/><rect x="4" y="7" width="1" height="1" fill="#0035ff"/><rect x="5" y="7" width="1" height="1" fill="#0042ff"/><rect x="6" y="7" width="1" height="1" fill="#004fff"/><rect x="7" y="7" width="1" height="1" fill="#005dff"/><rect x="8" y="7" width="1" height="1" fill="#006aff"/><rect x="9" y="7" width="1" height="1" fill="#0077ff"/><rect x="10" y="7" width="1" height="1" fill="#0085ff"/><rect x="11" y="7" width="1" height="1" fill="#0092ff"/><rect x="12" y="7" width="1" height="1" fill="#009fff"/><rect x="13" y="7" width="1" height="1" fill="#00adff"/><rect x="14" y="7" width="1" height="1" fill="#00baff"/><rect x="15" y="7" width="1" height="1" fill="#00c7ff"/><rect x="16" y="7" width="1" height="1" fill="#00d5ff"/><rect x="17" y="7" width="1" height="1" fill="#00e2ff"/><rect x="18" y="7" width="1" height="1" fill="#00efff"/><rect x="19" y="7" width="1" height="1" fill="#00fdff"/><rect x="20" y="7" width="1" height="1" fill="#00fff4"/><rect x="21" y="7" width="1" height="1" fill="#00ffe7"/><rect x="22" y="7" width="1" height="1" fill="#00ffda"/><rect x="23" y="7" width="1" height="1" fill="#00ffcc"/><rect x="24" y="7" width="1" height="1" fill="#00ffbf"/><rect x="25" y="7" width="1" height="1" fill="#00ffb2"/><rect x="26" y="7" width="1" height="1" fill="#00ffa4"/><rect x="27" y="7" width="1" height="1" fill="#00ff97"/><rect x="28" y="7" width="1" height="1" fill="#00ff8a"/><rect x="29" y="7" width="1" height="1" fill="#00ff7c"/><rect x="30" y="7" width="1" height="1" fill="#00ff6f"/><rect x="31" y="7" width="1" height="1" fill="#00ff62"/><rect x="32" y="7" width="1" height="1" fill="#00ff54"/><rect x="33" y="7" width="1" height="1" fill="#00ff47"/><rect x="34" y="7" width="1" height="1" fill="#00ff3a"/><rect x="35" y="7" width="1" height="1" fill="#00ff2c"/><rect x="36" y="7" width="1" height="1" fill="#00ff1f"/><rect x="37" y="7" width="1" height="1" fill="#00ff12"/><rect x="38" y="7" width="1" height="1" fill="#00ff04"/><rect x="39" y="7" width="1" height="1" fill="#09ff00"/>
<rect x="0" y="8" width="1" height="1" fill="#0005ff"/><rect x="1" y="8" width="1" height="1" fill="#0013ff"/><rect x="2" y="8" width="1" height="1" fill="#0021ff"/><rect x="3" y="8" width="1" height="1" fill="#002eff"/><rect x="4" y="8" width="1" height="1" fill="#003cff"/><rect x="5" y="8" width="1" height="1" fill="#004aff"/><rect x="6" y="8" width="1" height="1" fill="#0057ff"/><rect x="7" y="8" width="1" height="1" fill="#0065ff"/><rect x="8" y="8" width="1" height="1" fill="#0073ff"/><rect x="9" y="8" width="1" height="1" fill="#0081ff"/><rect x="10" y="8" width="1" height="1" fill="#008eff"/><rect x="11" y="8" width="1" height="1" fill="#009cff"/><rect x="12" y="8" width="1" height="1" fill="#00aaff"/><rect x="13" y="8" width="1" height="1" fill="#00b7ff"/><rect x="14" y="8" width="1" height="1" fill="#00c5ff"/><rect x="15" y="8" width="1" height="1" fill="#00d3ff"/><rect x="16" y="8" width="1" height="1" fill="#00e0ff"/><rect x="17" y="8" width="1" height="1" fill="#00eeff"/><rect x="18" y="8" width="1" height="1" fill="#00fcff"/><rect x="19" y="8" width="1" height="1" fill="#00fff4"/><rect x="20" y="8" width="1" height="1" fill="#00ffe7"/><rect x="21" y="8" width="1" height="1" fill="#00ffd9"/><rect x="22" y="8" width="1" height="1" fill="#00ffcb"/><rect x="23" y="8" width="1" height="1" fill="#00ffbe"/><rect x="24" y="8" width="1" height="1" fill="#00ffb0"/><rect x="25" y="8" width="1" height="1" fill="#00ffa2"/><rect x="26" y="8" width="1" height="1" fill="#00ff95"/><rect x="27" y="8" width="1" height="1" fill="#00ff87"/><rect x="28" y="8" width="1" height="1" fill="#00ff79"/><rect x="29" y="8" width="1" height="1" fill="#00ff6c"/><rect x="30" y="8" width="1" height="1" fill="#00ff5e"/><rect x="31" y="8" width="1" height="1" fill="#00ff50"/><rect x="32" y="8" width="1" height="1" fill="#00ff42"/><rect x="33" y="8" width="1" height="1" fill="#00ff35"/><rect x="34" y="8" width="1" height="1" fill="#00ff27"/><rect x="35" y="8" width="1" height="1" fill="#00ff19"/><rect x="36" y="8" width="1" height="1" fill="#00ff0c"/><rect x="37" y="8" width="1" height="1" fill="#02ff00"/><rect x="38" y="8" width="1" height="1" fill="#10ff00"/><rect x="39" y="8" width="1" height="1" fill="#1dff00"/>
<rect x="0" y="9" width="1" height="1" fill="#000bff"/><rect x="1" y="9" width="1" height="1" fill="#0019ff"/><rect x="2" y="9" width="1" height="1" fill="#0027ff"/><rect x="3" y="9" width="1" height="1" fill="#0035ff"/><rect x="4" y="9" width="1" height="1" fill="#0043ff"/><rect x="5" y="9" width="1" height="1" fill="#0052ff"/><rect x="6" y="9" width="1" height="1" fill="#0060ff"/><rect x="7" y="9" width="1" height="1" fill="#006eff"/><rect x="8" y="9" width="1" height="1" fill="#007cff"/><rect x="9" y="9" width="1" height="1" fill="#008aff"/><rect x="10" y="9" width="1" height="1" fill="#0098ff"/><rect x="11" y="9" width="1" height="1" fill="#00a6ff"/><rect x="12" y="9" width="1" height="1" fill="#00b4ff"/><rect x="13" y="9" width="1" height="1" fill="#00c2ff"/><rect x="14" y="9" width="1" height="1" fill="#00d0ff"/><rect x="15" y="9" width="1" height="1" fill="#00deff"/><rect x="16" y="9" width="1" height="1" fill="#00ecff"/><rect x="17" y="9" width="1" height="1" fill="#00faff"/><rect x="18" y="9" width="1" height="1" fill="#00fff6"/><rect x="19" y="9" width="1" height="1" fill="#00ffe7"/><rect x="20" y="9" width="1" height="1" fill="#00ffd9"/><rect x="21" y="9" width="1" height="1" fill="#00ffcb"/><rect x="22" y="9" width="1" height="1" fill="#00ffbd"/><rect x="23" y="9" width="1" height="1" fill="#00ffaf"/><rect x="24" y="9" width="1" height="1" fill="#00ffa1"/><rect x="25" y="9" width="1" height="1" fill="#00ff93"/><rect x="26" y="9" width="1" height="1" fill="#00ff85"/><rect x="27" y="9" width="1" height="1" fill="#00ff77"/><rect x="28" y="9" width="1" height="1" fill="#00ff69"/><rect x="29" y="9" width="1" height="1" fill="#00ff5b"/><rect x="30" y="9" width="1" height="1" fill="#00ff4d"/><rect x="31" y="9" width="1" height="1" fill="#00ff3f"/><rect x="32" y="9" width="1" height="1" fill="#00ff31"/><rect x="33" y="9" width="1" height="1" fill="#00ff22"/><rect x="34" y="9" width="1" height="1" fill="#00ff14"/><rect x="35" y="9" width="1" height="1" fill="#00ff06"/><rect x="36" y="9" width="1" height="1" fill="#08ff00"/><rect x="37" y="9" width="1" height="1" fill="#16ff00"/><rect x="38" y="9" width="1" height="1" fill="#24ff00"/><rect x="39" y="9" width="1" height="1" fill="#32ff00"/>
<rect x="0" y="10" width="1" height="1" fill="#0011ff"/><rect x="1" y="10" width="1" height="1" fill="#0020ff"/><rect x="2" y="10" width="1" height="1" fill="#002eff"/><rect x="3" y="10" width="1" height="1" fill="#003cff"/><rect x="4" y="10" width="1" height="1" fill="#004bff"/><rect x="5" y="10" width="1" height="1" fill="#0059ff"/><rect x="6" y="10" width="1" height="1" fill="#0068ff"/><rect x="7" y="10" width="1" height="1" fill="#0076ff"/><rect x="8" y="10" width="1" height="1" fill="#0085ff"/><rect x="9" y="10" width="1" height="1" fill="#0093ff"/><rect x="10" y="10" width="1" height="1" fill="#00a2ff"/><rect x="11" y="10" width="1" height="1" fill="#00b0ff"/><rect x="12" y="10" width="1" height="1" fill="#00beff"/><rect x="13" y="10" width="1" height="1" fill="#00cdff"/><rect x="14" y="10" width="1" height="1" fill="#00dbff"/><rect x="15" y="10" width="1" height="1" fill="#00eaff"/><rect x="16" y="10" width="1" height="1" fill="#00f8ff"/><rect x="17" y="10" width="1" height="1" fill="#00fff7"/><rect x="18" y="10" width="1" height="1" fill="#00ffe9"/><rect x="19" y="10" width="1" height="1" fill="#00ffda"/><rect x="20" y="10" width="1" height="1" fill="#00ffcc"/><rect x="21" y="10" width="1" height="1" fill="#00ffbe"/><rect x="22" y="10" width="1" height="1" fill="#00ffaf"/><rect x="23" y="10" width="1" height="1" fill="#00ffa1"/><rect x="24" y="10" width="1" height="1" fill="#00ff92"/><rect x="25" y="10" width="1" height="1" fill="#00ff84"/><rect x="26" y="10" width="1" height="1" fill="#00ff75"/><rect x="27" y="10" width="1" height="1" fill="#00ff67"/><rect x="28" y="10" width="1" height="1" fill="#00ff58"/><rect x="29" y="10" width="1" height="1" fill="#00ff4a"/><rect x="30" y="10" width="1" height="1" fill="#00ff3c"/><rect x="31" y="10" width="1" height="1" fill="#00ff2d"/><rect x="32" y="10" width="1" height="1" fill="#00ff1f"/><rect x="33" y="10" width="1" height="1" fill="#00ff10"/><rect x="34" y="10" width="1" height="1" fill="#00ff02"/><rect x="35" y="10" width="1" height="1" fill="#0dff00"/><rect x="36" y="10" width="1" height="1" fill="#1bff00"/><rect x="37" y="10" width="1" height="1" fill="#2aff00"/><rect x="38" y="10" width="1" height="1" fill="#38ff00"/><rect x="39" y="10" width="1" height="1" fill="#46ff00"/>
<rect x="0" y="11" width="1" height="1" fill="#0017ff"/><rect x="1" y="11" width="1" height="1" fill="#0026ff"/><rect x="2" y="11" width="1" height="1" fill="#0035ff"/><rect x="3" y="11" width="1" height="1" fill="#0043ff"/><rect x="4" y="11" width="1" height="1" fill="#0052ff"/><rect x="5" y="11" width="1" height="1" fill="#0061ff"/><rect x="6" y="11" width="1" height="1" fill="#0070ff"/><rect x="7" y="11" width="1" height="1" fill="#007fff"/><rect x="8" y="11" width="1" height="1" fill="#008eff"/><rect x="9" y="11" width="1" height="1" fill="#009cff"/><rect x="10" y="11" width="1" height="1" fill="#00abff"/><rect x="11" y="11" width="1" height="1" fill="#00baff"/><rect x="12" y="11" width="1" height="1" fill="#00c9ff"/><rect x="13" y="11" width="1" height="1" fill="#00d8ff"/><rect x="14" y="11" width="1" height="1" fill="#00e6ff"/><rect x="15" y="11" width="1" height="1" fill="#00f5ff"/><rect x="16" y="11" width="1" height="1" fill="#00fffa"/><rect x="17" y="11" width="1" height="1" fill="#00ffeb"/><rect x="18" y="11" width="1" height="1" fill="#00ffdc"/><rect x="19" y="11" width="1" height="1" fill="#00ffcd"/><rect x="20" y="11" width="1" height="1" fill="#00ffbf"/><rect x="21" y="11" width="1" height="1" fill="#00ffb0"/><rect x="22" y="11" width="1" height="1" fill="#00ffa1"/><rect x="23" y="11" width="1" height="1" fill="#00ff92"/><rect x="24" y="11" width="1" height="1" fill="#00ff83"/><rect x="25" y="11" width="1" height="1" fill="#00ff74"/><rect x="26" y="11" width="1" height="1" fill="#00ff66"/><rect x="27" y="11" width="1" height="1" fill="#00ff57"/><rect x="28" y="11" width="1" height="1" fill="#00ff48"/><rect x="29" y="11" width="1" height="1" fill="#00ff39"/><rect x="30" y="11" width="1" height="1" fill="#00ff2a"/><rect x="31" y="11" width="1" height="1" fill="#00ff1c"/><rect x="32" y="11" width="1" height="1" fill="#00ff0d"/><rect x="33" y="11" width="1" height="1" fill="#02ff00"/><rect x="34" y="11" width="1" height="1" fill="#11ff00"/><rect x="35" y="11" width="1" height="1" fill="#20ff00"/><rect x="36" y="11" width="1" height="1" fill="#2fff00"/><rect x="37" y="11" width="1" height="1" fill="#3dff00"/><rect x="38" y="11" width="1" height="1" fill="#4cff00"/><rect x="39" y="11" width="1" height="1" fill="#5bff00"/>
<rect x="0" y="12" width="1" height="1" fill="#001dff"/><rect x="1" y="12" width="1" height="1" fill="#002cff"/><rect x="2" y="12" width="1" height="1" fill="#003bff"/><rect x="3" y="12" width="1" height="1" fill="#004bff"/><rect x="4" y="12" width="1" height="1" fill="#005aff"/><rect x="5" y="12" width="1" height="1" fill="#0069ff"/><rect x="6" y="12" width="1" height="1" fill="#0078ff"/><rect x="7" y="12" width="1" height="1" fill="#0087ff"/><rect x="8" y="12" width="1" height="1" fill="#0096ff"/><rect x="9" y="12" width="1" height="1" fill="#00a6ff"/><rect x="10" y="12" width="1" height="1" fill="#00b5ff"/><rect x="11" y="12" width="1" height="1" fill="#00c4ff"/><rect x="12" y="12" width="1" height="1" fill="#00d3ff"/><rect x="13" y="12" width="1" height="1" fill="#00e2ff"/><rect x="14" y="12" width="1" height="1" fill="#00f2ff"/><rect x="15" y="12" width="1" height="1" fill="#00fffd"/><rect x="16" y="12" width="1" height="1" fill="#00ffee"/><rect x="17" y="12" width="1" height="1" fill="#00ffdf"/><rect x="18" y="12" width="1" height="1" fill="#00ffd0"/><rect x="19" y="12" width="1" height="1" fill="#00ffc0"/><rect x="20" y="12" width="1" height="1" fill="#00ffb1"/><rect x="21" y="12" width="1" height="1" fill="#00ffa2"/><rect x="22" y="12" width="1" height="1" fill="#00ff93"/><rect x="23" y="12" width="1" height="1" fill="#00ff84"/><rect x="24" y="12" width="1" height="1" fill="#00ff74"/><rect x="25" y="12" width="1" height="1" fill="#00ff65"/><rect x="26" y="12" width="1" height="1" fill="#00ff56"/><rect x="27" y="12" width="1" height="1" fill="#00ff47"/><rect x="28" y="12" width="1" height="1" fill="#00ff38"/><rect x="29" y="12" width="1" height="1" fill="#00ff28"/><rect x="30" y="12" width="1" height="1" fill="#00ff19"/><rect x="31" y="12" width="1" height="1" fill="#00ff0a"/><rect x="32" y="12" width="1" height="1" fill="#05ff00"/><rect x="33" y="12" width="1" height="1" fill="#14ff00"/><rect x="34" y="12" width="1" height="1" fill="#24ff00"/><rect x="35" y="12" width="1" height="1" fill="#33ff00"/><rect x="36" y="12" width="1" height="1" fill="#42ff00"/><rect x="37" y="12" width="1" height="1" fill="#51ff00"/><rect x="38" y="12" width="1" height="1" fill="#60ff00"/><rect x="39" y="12" width="1" height="1" fill="#6fff00"/>
<rect x="0" y="13" width="1" height="1" fill="#0023ff"/><rect x="1" y="13" width="1" height="1" fill="#0032ff"/><rect x="2" y="13" width="1" height="1" fill="#0042ff"/><rect x="3" y="13" width="1" height="1" fill="#0052ff"/><rect x="4" y="13" width="1" height="1" fill="#0061ff"/><rect x="5" y="13" width="1" height="1" fill="#0071ff"/><rect x="6" y="13" width="1" height="1" fill="#0080ff"/><rect x="7" y="13" width="1" height="1" fill="#0090ff"/><rect x="8" y="13" width="1" height="1" fill="#009fff"/><rect x="9" y="13" width="1" height="1" fill="#00afff"/><rect x="10" y="13" width="1" height="1" fill="#00bfff"/><rect x="11" y="13" width="1" height="1" fill="#00ceff"/><rect x="12" y="13" width="1" height="1" fill="#00deff"/><rect x="13" y="13" width="1" height="1" fill="#00edff"/><rect x="14" y="13" width="1" height="1" fill="#00fdff"/><rect x="15" y="13" width="1" height="1" fill="#00fff2"/><rect x="16" y="13" width="1" height="1" fill="#00ffe2"/><rect x="17" y="13" width="1" height="1" fill="#00ffd3"/><rect x="18" y="13" width="1" height="1" fill="#00ffc3"/><rect x="19" y="13" width="1" height="1" fill="#00ffb3"/><rect x="20" y="13" width="1" height="1" fill="#00ffa4"/><rect x="21" y="13" width="1" height="1" fill="#00ff94"/><rect x="22" y="13" width="1" height="1" fill="#00ff85"/><rect x="23" y="13" width="1" height="1" fill="#00ff75"/><rect x="24" y="13" width="1" height="1" fill="#00ff66"/><rect x="25" y="13" width="1" height="1" fill="#00ff56"/><rect x="26" y="13" width="1" height="1" fill="#00ff46"/><rect x="27" y="13" width="1" height="1" fill="#00ff37"/><rect x="28" y="13" width="1" height="1" fill="#00ff27"/><rect x="29" y="13" width="1" height="1" fill="#00ff18"/><rect x="30" y="13" width="1" height="1" fill="#00ff08"/><rect x="31" y="13" width="1" height="1" fill="#07ff00"/><rect x="32" y="13" width="1" height="1" fill="#17ff00"/><rect x="33" y="13" width="1" height="1" fill="#27ff00"/><rect x="34" y="13" width="1" height="1" fill="#36ff00"/><rect x="35" y="13" width="1" height="1" fill="#46ff00"/><rect x="36" y="13" width="1" height="1" fill="#55ff00"/><rect x="37" y="13" width="1" height="1" fill="#65ff00"/><rect x="38" y="13" width="1" height="1" fill="#74ff00"/><rect x="39" y="13" width="1" height="1" fill="#84ff00"/>
<rect x="0" y="14" width="1" height="1" fill="#0029ff"/><rect x="1" y="14" width="1" height="1" fill="#0039ff"/><rect x="2" y="14" width="1" height="1" fill="#0049ff"/><rect x="3" y="14" width="1" height="1" fill="#0059ff"/><rect x="4" y="14" width="1" height="1" fill="#0068ff"/><rect x="5" y="14" width="1" height="1" fill="#0078ff"/><rect x="6" y="14" width="1" height="1" fill="#0088ff"/><rect x="7" y="14" width="1" height="1" fill="#0098ff"/><rect x="8" y="14" width="1" height="1" fill="#00a8ff"/><rect x="9" y="14" width="1" height="1" fill="#00b8ff"/><rect x="10" y="14" width="1" height="1" fill="#00c8ff"/><rect x="11" y="14" width="1" height="1" fill="#00d8ff"/><rect x="12" y="14" width="1" height="1" fill="#00e8ff"/><rect x="13" y="14" width="1" height="1" fill="#00f8ff"/><rect x="14" y="14" width="1" height="1" fill="#00fff6"/><rect x="15" y="14" width="1" height="1" fill="#00ffe6"/><rect x="16" y="14" width="1" height="1" fill="#00ffd6"/><rect x="17" y="14" width="1" height="1" fill="#00ffc6"/><rect x="18" y="14" width="1" height="1" fill="#00ffb6"/><rect x="19" y="14" width="1" height="1" fill="#00ffa6"/><rect x="20" y="14" width="1" height="1" fill="#00ff96"/><rect x="21" y="14" width="1" height="1" fill="#00ff86"/><rect x="22" y="14" width="1" height="1" fill="#00ff77"/><rect x="23" y="14" width="1" height="1" fill="#00ff67"/><rect x="24" y="14" width="1" height="1" fill="#00ff57"/><rect x="25" y="14" width="1" height="1" fill="#00ff47"/><rect x="26" y="14" width="1" height="1" fill="#00ff37"/><rect x="27" y="14" width="1" height="1" fill="#00ff27"/><rect x="28" y="14" width="1" height="1" fill="#00ff17"/><rect x="29" y="14" width="1" height="1" fill="#00ff07"/><rect x="30" y="14" width="1" height="1" fill="#09ff00"/><rect x="31" y="14" width="1" height="1" fill="#19ff00"/><rect x="32" y="14" width="1" height="1" fill="#29ff00"/><rect x="33" y="14" width="1" height="1" fill="#39ff00"/><rect x="34" y="14" width="1" height="1" fill="#49ff00"/><rect x="35" y="14" width="1" height="1" fill="#59ff00"/><rect x="36" y="14" width="1" height="1" fill="#69ff00"/><rect x="37" y="14" width="1" height="1" fill="#79ff00"/><rect x="38" y="14" width="1" height="1" fill="#89ff00"/><rect x="39" y="14" width="1" height="1" fill="#99ff00"/>
<rect x="0" y="15" width="1" height="1" fill="#002fff"/><rect x="1" y="15" width="1" height="1" fill="#003fff"/><rect x="2" y="15" width="1" height="1" fill="#004fff"/><rect x="3" y="15" width="1" height="1" fill="#0060ff"/><rect x="4" y="15" width="1" height="1" fill="#0070ff"/><rect x="5" y="15" width="1" height="1" fill="#0080ff"/><rect x="6" y="15" width="1" height="1" fill="#0091ff"/><rect x="7" y="15" width="1" height="1" fill="#00a1ff"/><rect x="8" y="15" width="1" height="1" fill="#00b1ff"/><rect x="9" y="15" width="1" height="1" fill="#00c1ff"/><rect x="10" y="15" width="1" height="1" fill="#00d2ff"/><rect x="11" y="15" width="1" height="1" fill="#00e2ff"/><rect x="12" y="15" width="1" height="1" fill="#00f2ff"/><rect x="13" y="15" width="1" height="1" fill="#00fffb"/><rect x="14" y="15" width="1" height="1" fill="#00ffeb"/><rect x="15" y="15" width="1" height="1" fill="#00ffdb"/><rect x="16" y="15" width="1" height="1" fill="#00ffca"/><rect x="17" y="15" width="1" height="1" fill="#00ffba"/><rect x="18" y="15" width="1" height="1" fill="#00ffaa"/><rect x="19" y="15" width="1" height="1" fill="#00ff99"/><rect x="20" y="15" width="1" height="1" fill="#00ff89"/><rect x="21" y="15" width="1" height="1" fill="#00ff79"/><rect x="22" y="15" width="1" height="1" fill="#00ff68"/><rect x="23" y="15" width="1" height="1" fill="#00ff58"/><rect x="24" y="15" width="1" height="1" fill="#00ff48"/><rect x="25" y="15" width="1" height="1" fill="#00ff37"/><rect x="26" y="15" width="1" height="1" fill="#00ff27"/><rect x="27" y="15" width="1" height="1" fill="#00ff17"/><rect x="28" y="15" width="1" height="1" fill="#00ff06"/><rect x="29" y="15" width="1" height="1" fill="#0aff00"/><rect x="30" y="15" width="1" height="1" fill="#1aff00"/><rect x="31" y="15" width="1" height="1" fill="#2aff00"/><rect x="32" y="15" width="1" height="1" fill="#3bff00"/><rect x="33" y="15" width="1" height="1" fill="#4bff00"/><rect x="34" y="15" width="1" height="1" fill="#5bff00"/><rect x="35" y="15" width="1" height="1" fill="#6cff00"/><rect x="36" y="15" width="1" height="1" fill="#7cff00"/><rect x="37" y="15" width="1" height="1" fill="#8cff00"/><rect x="38" y="15" width="1" height="1" fill="#9dff00"/><rect x="39" y="15" width="1" height="1" fill="#adff00"/>
<rect x="0" y="16" width="1" height="1" fill="#0035ff"/><rect x="1" y="16" width="1" height="1" fill="#0045ff"/><rect x="2" y="16" width="1" height="1" fill="#0056ff"/><rect x="3" y="16" width="1" height="1" fill="#0067ff"/><rect x="4" y="16" width="1" height="1" fill="#0077ff"/><rect x="5" y="16" width="1" height="1" fill="#0088ff"/><rect x="6" y="16" width="1" height="1" fill="#0099ff"/><rect x="7" y="16" width="1" height="1" fill="#00a9ff"/><rect x="8" y="16" width="1" height="1" fill="#00baff"/><rect x="9" y="16" width="1" height="1" fill="#00cbff"/><rect x="10" y="16" width="1" height="1" fill="#00dbff"/><rect x="11" y="16" width="1" height="1" fill="#00ecff"/><rect x="12" y="16" width="1" height="1" fill="#00fdff"/><rect x="13" y="16" width="1" height="1" fill="#00fff0"/><rect x="14" y="16" width="1" height="1" fill="#00ffe0"/><rect x="15" y="16" width="1" height="1" fill="#00ffcf"/><rect x="16" y="16" width="1" height="1" fill="#00ffbe"/><rect x="17" y="16" width="1" height="1" fill="#00ffae"/><rect x="18" y="16" width="1" height="1" fill="#00ff9d"/><rect x="19" y="16" width="1" height="1" fill="#00ff8c"/><rect x="20" y="16" width="1" height="1" fill="#00ff7c"/><rect x="21" y="16" width="1" height="1" fill="#00ff6b"/><rect x="22" y="16" width="1" height="1" fill="#00ff5a"/><rect x="23" y="16" width="1" height="1" fill="#00ff4a"/><rect x="24" y="16" width="1" height="1" fill="#00ff39"/><rect x="25" y="16" width="1" height="1" fill="#00ff28"/><rect x="26" y="16" width="1" height="1" fill="#00ff17"/><rect x="27" y="16" width="1" height="1" fill="#00ff07"/><rect x="28" y="16" width="1" height="1" fill="#0aff00"/><rect x="29" y="16" width="1" height="1" fill="#1bff00"/><rect x="30" y="16" width="1" height="1" fill="#2bff00"/><rect x="31" y="16" width="1" height="1" fill="#3cff00"/><rect x="32" y="16" width="1" height="1" fill="#4dff00"/><rect x="33" y="16" width="1" height="1" fill="#5dff00"/><rect x="34" y="16" width="1" height="1" fill="#6eff00"/><rect x="35" y="16" width="1" height="1" fill="#7fff00"/><rect x="36" y="16" width="1" height="1" fill="#8fff00"/><rect x="37" y="16" width="1" height="1" fill="#a0ff00"/><rect x="38" y="16" width="1" height="1" fill="#b1ff00"/><rect x="39" y="16" width="1" height="1" fill="#c2ff00"/>
<rect x="0" y="17" width="1" height="1" fill="#003aff"/><rect x="1" y="17" width="1" height="1" fill="#004bff"/><rect x="2" y="17" width="1" height="1" fill="#005dff"/><rect x="3" y="17" width="1" height="1" fill="#006eff"/><rect x="4" y="17" width="1" height="1" fill="#007fff"/><rect x="5" y="17" width="1" height="1" fill="#0090ff"/><rect x="6" y="17" width="1" height="1" fill="#00a1ff"/><rect x="7" y="17" width="1" height="1" fill="#00b2ff"/><rect x="8" y="17" width="1" height="1" fill="#00c3ff"/><rect x="9" y="17" width="1" height="1" fill="#00d4ff"/><rect x="10" y="17" width="1" height="1" fill="#00e5ff"/><rect x="11" y="17" width="1" height="1" fill="#00f6ff"/><rect x="12" y="17" width="1" height="1" fill="#00fff7"/><rect x="13" y="17" width="1" height="1" fill="#00ffe6"/><rect x="14" y="17" width="1" height="1" fill="#00ffd5"/><rect x="15" y="17" width="1" height="1" fill="#00ffc4"/><rect x="16" y="17" width="1" height="1" fill="#00ffb2"/><rect x="17" y="17" width="1" height="1" fill="#00ffa1"/><rect x="18" y="17" width="1" height="1" fill="#00ff90"/><rect x="19" y="17" width="1" height="1" fill="#00ff7f"/><rect x="20" y="17" width="1" height="1" fill="#00ff6e"/><rect x="21" y="17" width="1" height="1" fill="#00ff5d"/><rect x="22" y="17" width="1" height="1" fill="#00ff4c"/><rect x="23" y="17" width="1" height="1" fill="#00ff3b"/><rect x="24" y="17" width="1" height="1" fill="#00ff2a"/><rect x="25" y="17" width="1" height="1" fill="#00ff19"/><rect x="26" y="17" width="1" height="1" fill="#00ff08"/><rect x="27" y="17" width="1" height="1" fill="#09ff00"/><rect x="28" y="17" width="1" height="1" fill="#1aff00"/><rect x="29" y="17" width="1" height="1" fill="#2bff00"/><rect x="30" y="17" width="1" height="1" fill="#3cff00"/><rect x="31" y="17" width="1" height="1" fill="#4eff00"/><rect x="32" y="17" width="1" height="1" fill="#5fff00"/><rect x="33" y="17" width="1" height="1" fill="#70ff00"/><rect x="34" y="17" width="1" height="1" fill="#81ff00"/><rect x="35" y="17" width="1" height="1" fill="#92ff00"/><rect x="36" y="17" width="1" height="1" fill="#a3ff00"/><rect x="37" y="17" width="1" height="1" fill="#b4ff00"/><rect x="38" y="17" width="1" height="1" fill="#c5ff00"/><rect x="39" y="17" width="1" height="1" fill="#d6ff00"/>
<rect x="0" y="18" width="1" height="1" fill="#0040ff"/><rect x="1" y="18" width="1" height="1" fill="#0052ff"/><rect x="2" y="18" width="1" height="1" fill="#0063ff"/><rect x="3" y="18" width="1" height="1" fill="#0075ff"/><rect x="4" y="18" width="1" height="1" fill="#0086ff"/><rect x="5" y="18" width="1" height="1" fill="#0098ff"/><rect x="6" y="18" width="1" height="1" fill="#00a9ff"/><rect x="7" y="18" width="1" height="1" fill="#00baff"/><rect x="8" y="18" width="1" height="1" fill="#00ccff"/><rect x="9" y="18" width="1" height="1" fill="#00ddff"/><rect x="10" y="18" width="1" height="1" fill="#00efff"/><rect x="11" y="18" width="1" height="1" fill="#00fffe"/><rect x="12" y="18" width="1" height="1" fill="#00ffec"/><rect x="13" y="18" width="1" height="1" fill="#00ffdb"/><rect x="14" y="18" width="1" height="1" fill="#00ffc9"/><rect x="15" y="18" width="1" height="1" fill="#00ffb8"/><rect x="16" y="18" width="1" height="1" fill="#00ffa7"/><rect x="17" y="18" width="1" height="1" fill="#00ff95"/><rect x="18" y="18" width="1" height="1" fill="#00ff84"/><rect x="19" y="18" width="1" height="1" fill="#00ff72"/><rect x="20" y="18" width="1" height="1" fill="#00ff61"/><rect x="21" y="18" width="1" height="1" fill="#00ff4f"/><rect x="22" y="18" width="1" height="1" fill="#00ff3e"/><rect x="23" y="18" width="1" height="1" fill="#00ff2c"/><rect x="24" y="18" width="1" height="1" fill="#00ff1b"/><rect x="25" y="18" width="1" height="1" fill="#00ff0a"/><rect x="26" y="18" width="1" height="1" fill="#08ff00"/><rect x="27" y="18" width="1" height="1" fill="#19ff00"/><rect x="28" y="18" width="1" height="1" fill="#2bff00"/><rect x="29" y="18" width="1" height="1" fill="#3cff00"/><rect x="30" y="18" width="1" height="1" fill="#4eff00"/><rect x="31" y="18" width="1" height="1" fill="#5fff00"/><rect x="32" y="18" width="1" height="1" fill="#70ff00"/><rect x="33" y="18" width="1" height="1" fill="#82ff00"/><rect x="34" y="18" width="1" height="1" fill="#93ff00"/><rect x="35" y="18" width="1" height="1" fill="#a5ff00"/><rect x="36" y="18" width="1" height="1" fill="#b6ff00"/><rect x="37" y="18" width="1" height="1" fill="#c8ff00"/><rect x="38" y="18" width="1" height="1" fill="#d9ff00"/><rect x="39" y="18" width="1" height="1" fill="#ebff00"/>
<rect x="0" y="19" width="1" height="1" fill="#0046ff"/><rect x="1" y="19" width="1" height="1" fill="#0058ff"/><rect x="2" y="19" width="1" height="1" fill="#006aff"/><rect x="3" y="19" width="1" height="1" fill="#007cff"/><rect x="4" y="19" width="1" height="1" fill="#008dff"/><rect x="5" y="19" width="1" height="1" fill="#009fff"/><rect x="6" y="19" width="1" height="1" fill="#00b1ff"/><rect x="7" y="19" width="1" height="1" fill="#00c3ff"/><rect x="8" y="19" width="1" height="1" fill="#00d5ff"/><rect x="9" y="19" width="1" height="1" fill="#00e7ff"/><rect x="10" y="19" width="1" height="1" fill="#00f8ff"/><rect x="11" y="19" width="1" height="1" fill="#00fff4"/><rect x="12" y="19" width="1" height="1" fill="#00ffe2"/><rect x="13" y="19" width="1" height="1" fill="#00ffd0"/><rect x="14" y="19" width="1" height="1" fill="#00ffbe"/><rect x="15" y="19" width="1" height="1" fill="#00ffad"/><rect x="16" y="19" width="1" height="1" fill="#00ff9b"/><rect x="17" y="19" width="1" height="1" fill="#00ff89"/><rect x="18" y="19" width="1" height="1" fill="#00ff77"/><rect x="19" y="19" width="1" height="1" fill="#00ff65"/><rect x="20" y="19" width="1" height="1" fill="#00ff53"/><rect x="21" y="19" width="1" height="1" fill="#00ff42"/><rect x="22" y="19" width="1" height="1" fill="#00ff30"/><rect x="23" y="19" width="1" height="1" fill="#00ff1e"/><rect x="24" y="19" width="1" height="1" fill="#00ff0c"/><rect x="25" y="19" width="1" height="1" fill="#06ff00"/><rect x="26" y="19" width="1" height="1" fill="#17ff00"/><rect x="27" y="19" width="1" height="1" fill="#29ff00"/><rect x="28" y="19" width="1" height="1" fill="#3bff00"/><rect x="29" y="19" width="1" height="1" fill="#4dff00"/><rect x="30" y="19" width="1" height="1" fill="#5fff00"/><rect x="31" y="19" width="1" height="1" fill="#71ff00"/><rect x="32" y="19" width="1" height="1" fill="#82ff00"/><rect x="33" y="19" width="1" height="1" fill="#94ff00"/><rect x="34" y="19" width="1" height="1" fill="#a6ff00"/><rect x="35" y="19" width="1" height="1" fill="#b8ff00"/><rect x="36" y="19" width="1" height="1" fill="#caff00"/><rect x="37" y="19" width="1" height="1" fill="#dbff00"/><rect x="38" y="19" width="1" height="1" fill="#edff00"/><rect x="39" y="19" width="1" height="1" fill="#ffff00"/>
<rect x="0" y="20" width="1" height="1" fill="#004cff"/><rect x="1" y="20" width="1" height="1" fill="#005eff"/><rect x="2" y="20" width="1" height="1" fill="#0071ff"/><rect x="3" y="20" width="1" height="1" fill="#0083ff"/><rect x="4" y="20" width="1" height="1" fill="#0095ff"/><rect x="5" y="20" width="1" height="1" fill="#00a7ff"/><rect x="6" y="20" width="1" height="1" fill="#00b9ff"/><rect x="7" y="20" width="1" height="1" fill="#00cbff"/><rect x="8" y="20" width="1" height="1" fill="#00deff"/><rect x="9" y="20" width="1" height="1" fill="#00f0ff"/><rect x="10" y="20" width="1" height="1" fill="#00fffc"/><rect x="11" y="20" width="1" height="1" fill="#00ffea"/><rect x="12" y="20" width="1" height="1" fill="#00ffd8"/><rect x="13" y="20" width="1" height="1" fill="#00ffc5"/><rect x="14" y="20" width="1" height="1" fill="#00ffb3"/><rect x="15" y="20" width="1" height="1" fill="#00ffa1"/><rect x="16" y="20" width="1" height="1" fill="#00ff8f"/><rect x="17" y="20" width="1" height="1" fill="#00ff7d"/><rect x="18" y="20" width="1" height="1" fill="#00ff6a"/><rect x="19" y="20" width="1" height="1" fill="#00ff58"/><rect x="20" y="20" width="1" height="1" fill="#00ff46"/><rect x="21" y="20" width="1" height="1" fill="#00ff34"/><rect x="22" y="20" width="1" height="1" fill="#00ff22"/><rect x="23" y="20" width="1" height="1" fill="#00ff0f"/><rect x="24" y="20" width="1" height="1" fill="#03ff00"/><rect x="25" y="20" width="1" height="1" fill="#15ff00"/><rect x="26" y="20" width="1" height="1" fill="#27ff00"/><rect x="27" y="20" width="1" height="1" fill="#39ff00"/><rect x="28" y="20" width="1" height="1" fill="#4cff00"/><rect x="29" y="20" width="1" height="1" fill="#5eff00"/><rect x="30" y="20" width="1" height="1" fill="#70ff00"/><rect x="31" y="20" width="1" height="1" fill="#82ff00"/><rect x="32" y="20" width="1" height="1" fill="#94ff00"/><rect x="33" y="20" width="1" height="1" fill="#a6ff00"/><rect x="34" y="20" width="1" height="1" fill="#b9ff00"/><rect x="35" y="20" width="1" height="1" fill="#cbff00"/><rect x="36" y="20" width="1" height="1" fill="#ddff00"/><rect x="37" y="20" width="1" height="1" fill="#efff00"/><rect x="38" y="20" width="1" height="1" fill="#fffd00"/><rect x="39" y="20" width="1" height="1" fill="#ffea00"/>
<rect x="0" y="21" width="1" height="1" fill="#0052ff"/><rect x="1" y="21" width="1" height="1" fill="#0065ff"/><rect x="2" y="21" width="1" height="1" fill="#0077ff"/><rect x="3" y="21" width="1" height="1" fill="#008aff"/><rect x="4" y="21" width="1" height="1" fill="#009cff"/><rect x="5" y="21" width="1" height="1" fill="#00afff"/><rect x="6" y="21" width="1" height="1" fill="#00c1ff"/><rect x="7" y="21" width="1" height="1" fill="#00d4ff"/><rect x="8" y="21" width="1" height="1" fill="#00e7ff"/><rect x="9" y="21" width="1" height="1" fill="#00f9ff"/><rect x="10" y="21" width="1" height="1" fill="#00fff2"/><rect x="11" y="21" width="1" height="1" fill="#00ffe0"/><rect x="12" y="21" width="1" height="1" fill="#00ffcd"/><rect x="13" y="21" width="1" height="1" fill="#00ffbb"/><rect x="14" y="21" width="1" height="1" fill="#00ffa8"/><rect x="15" y="21" width="1" height="1" fill="#00ff95"/><rect x="16" y="21" width="1" height="1" fill="#00ff83"/><rect x="17" y="21" width="1" height="1" fill="#00ff70"/><rect x="18" y="21" width="1" height="1" fill="#00ff5e"/><rect x="19" y="21" width="1" height="1" fill="#00ff4b"/><rect x="20" y="21" width="1" height="1" fill="#00ff39"/><rect x="21" y="21" width="1" height="1" fill="#00ff26"/><rect x="22" y="21" width="1" height="1" fill="#00ff13"/><rect x="23" y="21" width="1" height="1" fill="#00ff01"/><rect x="24" y="21" width="1" height="1" fill="#12ff00"/><rect x="25" y="21" width="1" height="1" fill="#24ff00"/><rect x="26" y="21" width="1" height="1" fill="#37ff00"/><rect x="27" y="21" width="1" height="1" fill="#49ff00"/><rect x="28" y="21" width="1" height="1" fill="#5cff00"/><rect x="29" y="21" width="1" height="1" fill="#6eff00"/><rect x="30" y="21" width="1" height="1" fill="#81ff00"/><rect x="31" y="21" width="1" height="1" fill="#94ff00"/><rect x="32" y="21" width="1" height="1" fill="#a6ff00"/><rect x="33" y="21" width="1" height="1" fill="#b9ff00"/><rect x="34" y="21" width="1" height="1" fill="#cbff00"/><rect x="35" y="21" width="1" height="1" fill="#deff00"/><rect x="36" y="21" width="1" height="1" fill="#f0ff00"/><rect x="37" y="21" width="1" height="1" fill="#fffb00"/><rect x="38" y="21" width="1" height="1" fill="#ffe800"/><rect x="39" y="21" width="1" height="1" fill="#ffd600"/>
<rect x="0" y="22" width="1" height="1" fill="#0058ff"/><rect x="1" y="22" width="1" height="1" fill="#006bff"/><rect x="2" y="22" width="1" height="1" fill="#007eff"/><rect x="3" y="22" width="1" height="1" fill="#0091ff"/><rect x="4" y="22" width="1" height="1" fill="#00a4ff"/><rect x="5" y="22" width="1" height="1" fill="#00b7ff"/><rect x="6" y="22" width="1" height="1" fill="#00caff"/><rect x="7" y="22" width="1" height="1" fill="#00ddff"/><rect x="8" y="22" width="1" height="1" fill="#00efff"/><rect x="9" y="22" width="1" height="1" fill="#00fffc"/><rect x="10" y="22" width="1" height="1" fill="#00ffe9"/><rect x="11" y="22" width="1" height="1" fill="#00ffd6"/><rect x="12" y="22" width="1" height="1" fill="#00ffc3"/><rect x="13" y="22" width="1" height="1" fill="#00ffb0"/><rect x="14" y="22" width="1" height="1" fill="#00ff9d"/><rect x="15" y="22" width="1" height="1" fill="#00ff8a"/><rect x="16" y="22" width="1" height="1" fill="#00ff77"/><rect x="17" y="22" width="1" height="1" fill="#00ff64"/><rect x="18" y="22" width="1" height="1" fill="#00ff51"/><rect x="19" y="22" width="1" height="1" fill="#00ff3e"/><rect x="20" y="22" width="1" height="1" fill="#00ff2b"/><rect x="21" y="22" width="1" height="1" fill="#00ff18"/><rect x="22" y="22" width="1" height="1" fill="#00ff05"/><rect x="23" y="22" width="1" height="1" fill="#0eff00"/><rect x="24" y="22" width="1" height="1" fill="#21ff00"/><rect x="25" y="22" width="1" height="1" fill="#33ff00"/><rect x="26" y="22" width="1" height="1" fill="#46ff00"/><rect x="27" y="22" width="1" height="1" fill="#59ff00"/><rect x="28" y="22" width="1" height="1" fill="#6cff00"/><rect x="29" y="22" width="1" height="1" fill="#7fff00"/><rect x="30" y="22" width="1" height="1" fill="#92ff00"/><rect x="31" y="22" width="1" height="1" fill="#a5ff00"/><rect x="32" y="22" width="1" height="1" fill="#b8ff00"/><rect x="33" y="22" width="1" height="1" fill="#cbff00"/><rect x="34" y="22" width="1" height="1" fill="#deff00"/><rect x="35" y="22" width="1" height="1" fill="#f1ff00"/><rect x="36" y="22" width="1" height="1" fill="#fffa00"/><rect x="37" y="22" width="1" height="1" fill="#ffe700"/><rect x="38" y="22" width="1" height="1" fill="#ffd400"/><rect x="39" y="22" width="1" height="1" fill="#ffc100"/>
<rect x="0" y="23" width="1" height="1" fill="#005eff"/><rect x="1" y="23" width="1" height="1" fill="#0071ff"/><rect x="2" y="23" width="1" height="1" fill="#0084ff"/><rect x="3" y="23" width="1" height="1" fill="#0098ff"/><rect x="4" y="23" width="1" height="1" fill="#00abff"/><rect x="5" y="23" width="1" height="1" fill="#00beff"/><rect x="6" y="23" width="1" height="1" fill="#00d2ff"/><rect x="7" y="23" width="1" height="1" fill="#00e5ff"/><rect x="8" y="23" width="1" height="1" fill="#00f8ff"/><rect x="9" y="23" width="1" height="1" fill="#00fff2"/><rect x="10" y="23" width="1" height="1" fill="#00ffdf"/><rect x="11" y="23" width="1" height="1" fill="#00ffcc"/><rect x="12" y="23" width="1" height="1" fill="#00ffb8"/><rect x="13" y="23" width="1" height="1" fill="#00ffa5"/><rect x="14" y="23" width="1" height="1" fill="#00ff92"/><rect x="15" y="23" width="1" height="1" fill="#00ff7e"/><rect x="16" y="23" width="1" height="1" fill="#00ff6b"/><rect x="17" y="23" width="1" height="1" fill="#00ff58"/><rect x="18" y="23" width="1" height="1" fill="#00ff44"/><rect x="19" y="23" width="1" height="1" fill="#00ff31"/><rect x="20" y="23" width="1" height="1" fill="#00ff1e"/><rect x="21" y="23" width="1" height="1" fill="#00ff0b"/><rect x="22" y="23" width="1" height="1" fill="#09ff00"/><rect x="23" y="23" width="1" height="1" fill="#1cff00"/><rect x="24" y="23" width="1" height="1" fill="#2fff00"/><rect x="25" y="23" width="1" height="1" fill="#43ff00"/><rect x="26" y="23" width="1" height="1" fill="#56ff00"/><rect x="27" y="23" width="1" height="1" fill="#69ff00"/><rect x="28" y="23" width="1" height="1" fill="#7dff00"/><rect x="29" y="23" width="1" height="1" fill="#90ff00"/><rect x="30" y="23" width="1" height="1" fill="#a3ff00"/><rect x="31" y="23" width="1" height="1" fill="#b7ff00"/><rect x="32" y="23" width="1" height="1" fill="#caff00"/><rect x="33" y="23" width="1" height="1" fill="#ddff00"/><rect x="34" y="23" width="1" height="1" fill="#f1ff00"/><rect x="35" y="23" width="1" height="1" fill="#fffa00"/><rect x="36" y="23" width="1" height="1" fill="#ffe700"/><rect x="37" y="23" width="1" height="1" fill="#ffd300"/><rect x="38" y="23" width="1" height="1" fill="#ffc000"/><rect x="39" y="23" width="1" height="1" fill="#ffad00"/>
<rect x="0" y="24" width="1" height="1" fill="#0064ff"/><rect x="1" y="24" width="1" height="1" fill="#0077ff"/><rect x="2" y="24" width="1" height="1" fill="#008bff"/><rect x="3" y="24" width="1" height="1" fill="#009fff"/><rect x="4" y="24" width="1" height="1" fill="#00b2ff"/><rect x="5" y="24" width="1" height="1" fill="#00c6ff"/><rect x="6" y="24" width="1" height="1" fill="#00daff"/><rect x="7" y="24" width="1" height="1" fill="#00eeff"/><rect x="8" y="24" width="1" height="1" fill="#00fffd"/><rect x="9" y="24" width="1" height="1" fill="#00ffe9"/><rect x="10" y="24" width="1" height="1" fill="#00ffd5"/><rect x="11" y="24" width="1" height="1" fill="#00ffc2"/><rect x="12" y="24" width="1" height="1" fill="#00ffae"/><rect x="13" y="24" width="1" height="1" fill="#00ff9a"/><rect x="14" y="24" width="1" height="1" fill="#00ff87"/><rect x="15" y="24" width="1" height="1" fill="#00ff73"/><rect x="16" y="24" width="1" height="1" fill="#00ff5f"/><rect x="17" y="24" width="1" height="1" fill="#00ff4c"/><rect x="18" y="24" width="1" height="1" fill="#00ff38"/><rect x="19" y="24" width="1" height="1" fill="#00ff24"/><rect x="20" y="24" width="1" height="1" fill="#00ff10"/><rect x="21" y="24" width="1" height="1" fill="#03ff00"/><rect x="22" y="24" width="1" height="1" fill="#17ff00"/><rect x="23" y="24" width="1" height="1" fill="#2bff00"/><rect x="24" y="24" width="1" height="1" fill="#3eff00"/><rect x="25" y="24" width="1" height="1" fill="#52ff00"/><rect x="26" y="24" width="1" height="1" fill="#66ff00"/><rect x="27" y="24" width="1" height="1" fill="#79ff00"/><rect x="28" y="24" width="1" height="1" fill="#8dff00"/><rect x="29" y="24" width="1" height="1" fill="#a1ff00"/><rect x="30" y="24" width="1" height="1" fill="#b4ff00"/><rect x="31" y="24" width="1" height="1" fill="#c8ff00"/><rect x="32" y="24" width="1" height="1" fill="#dcff00"/><rect x="33" y="24" width="1" height="1" fill="#f0ff00"/><rect x="34" y="24" width="1" height="1" fill="#fffb00"/><rect x="35" y="24" width="1" height="1" fill="#ffe700"/><rect x="36" y="24" width="1" height="1" fill="#ffd300"/><rect x="37" y="24" width="1" height="1" fill="#ffc000"/><rect x="38" y="24" width="1" height="1" fill="#ffac00"/><rect x="39" y="24" width="1" height="1" fill="#ff9800"/>
<rect x="0" y="25" width="1" height="1" fill="#006aff"/><rect x="1" y="25" width="1" height="1" fill="#007eff"/><rect x="2" y="25" width="1" height="1" fill="#0092ff"/><rect x="3" y="25" width="1" height="1" fill="#00a6ff"/><rect x="4" y="25" width="1" height="1" fill="#00baff"/><rect x="5" y="25" width="1" height="1" fill="#00ceff"/><rect x="6" y="25" width="1" height="1" fill="#00e2ff"/><rect x="7" y="25" width="1" height="1" fill="#00f6ff"/><rect x="8" y="25" width="1" height="1" fill="#00fff4"/><rect x="9" y="25" width="1" height="1" fill="#00ffe0"/><rect x="10" y="25" width="1" height="1" fill="#00ffcc"/><rect x="11" y="25" width="1" height="1" fill="#00ffb8"/><rect x="12" y="25" width="1" height="1" fill="#00ffa4"/><rect x="13" y="25" width="1" height="1" fill="#00ff90"/><rect x="14" y="25" width="1" height="1" fill="#00ff7b"/><rect x="15" y="25" width="1" height="1" fill="#00ff67"/><rect x="16" y="25" width="1" height="1" fill="#00ff53"/><rect x="17" y="25" width="1" height="1" fill="#00ff3f"/><rect x="18" y="25" width="1" height="1" fill="#00ff2b"/><rect x="19" y="25" width="1" height="1" fill="#00ff17"/><rect x="20" y="25" width="1" height="1" fill="#00ff03"/><rect x="21" y="25" width="1" height="1" fill="#11ff00"/><rect x="22" y="25" width="1" height="1" fill="#25ff00"/><rect x="23" y="25" width="1" height="1" fill="#39ff00"/><rect x="24" y="25" width="1" height="1" fill="#4dff00"/><rect x="25" y="25" width="1" height="1" fill="#61ff00"/><rect x="26" y="25" width="1" height="1" fill="#75ff00"/><rect x="27" y="25" width="1" height="1" fill="#89ff00"/><rect x="28" y="25" width="1" height="1" fill="#9dff00"/><rect x="29" y="25" width="1" height="1" fill="#b2ff00"/><rect x="30" y="25" width="1" height="1" fill="#c6ff00"/><rect x="31" y="25" width="1" height="1" fill="#daff00"/><rect x="32" y="25" width="1" height="1" fill="#eeff00"/><rect x="33" y="25" width="1" height="1" fill="#fffc00"/><rect x="34" y="25" width="1" height="1" fill="#ffe800"/><rect x="35" y="25" width="1" height="1" fill="#ffd400"/><rect x="36" y="25" width="1" height="1" fill="#ffc000"/><rect x="37" y="25" width="1" height="1" fill="#ffac00"/><rect x="38" y="25" width="1" height="1" fill="#ff9800"/><rect x="39" y="25" width="1" height="1" fill="#ff8400"/>
<rect x="0" y="26" width="1" height="1" fill="#0070ff"/><rect x="1" y="26" width="1" height="1" fill="#0084ff"/><rect x="2" y="26" width="1" height="1" fill="#0098ff"/><rect x="3" y="26" width="1" height="1" fill="#00adff"/><rect x="4" y="26" width="1" height="1" fill="#00c1ff"/><rect x="5" y="26" width="1" height="1" fill="#00d6ff"/><rect x="6" y="26" width="1" height="1" fill="#00eaff"/><rect x="7" y="26" width="1" height="1" fill="#00ffff"/><rect x="8" y="26" width="1" height="1" fill="#00ffeb"/><rect x="9" y="26" width="1" height="1" fill="#00ffd7"/><rect x="10" y="26" width="1" height="1" fill="#00ffc2"/><rect x="11" y="26" width="1" height="1" fill="#00ffae"/><rect x="12" y="26" width="1" height="1" fill="#00ff99"/><rect x="13" y="26" width="1" height="1" fill="#00ff85"/><rect x="14" y="26" width="1" height="1" fill="#00ff70"/><rect x="15" y="26" width="1" height="1" fill="#00ff5c"/><rect x="16" y="26" width="1" height="1" fill="#00ff47"/><rect x="17" y="26" width="1" height="1" fill="#00ff33"/><rect x="18" y="26" width="1" height="1" fill="#00ff1f"/><rect x="19" y="26" width="1" height="1" fill="#00ff0a"/><rect x="20" y="26" width="1" height="1" fill="#0aff00"/><rect x="21" y="26" width="1" height="1" fill="#1fff00"/><rect x="22" y="26" width="1" height="1" fill="#33ff00"/><rect x="23" y="26" width="1" height="1" fill="#48ff00"/><rect x="24" y="26" width="1" height="1" fill="#5cff00"/><rect x="25" y="26" width="1" height="1" fill="#71ff00"/><rect x="26" y="26" width="1" height="1" fill="#85ff00"/><rect x="27" y="26" width="1" height="1" fill="#99ff00"/><rect x="28" y="26" width="1" height="1" fill="#aeff00"/><rect x="29" y="26" width="1" height="1" fill="#c2ff00"/><rect x="30" y="26" width="1" height="1" fill="#d7ff00"/><rect x="31" y="26" width="1" height="1" fill="#ebff00"/><rect x="32" y="26" width="1" height="1" fill="#fffe00"/><rect x="33" y="26" width="1" height="1" fill="#ffea00"/><rect x="34" y="26" width="1" height="1" fill="#ffd500"/><rect x="35" y="26" width="1" height="1" fill="#ffc100"/><rect x="36" y="26" width="1" height="1" fill="#ffad00"/><rect x="37" y="26" width="1" height="1" fill="#ff9800"/><rect x="38" y="26" width="1" height="1" fill="#ff8400"/><rect x="39" y="26" width="1" height="1" fill="#ff6f00"/>
<rect x="0" y="27" width="1" height="1" fill="#0075ff"/><rect x="1" y="27" width="1" height="1" fill="#008aff"/><rect x="2" y="27" width="1" height="1" fill="#009fff"/><rect x="3" y="27" width="1" height="1" fill="#00b4ff"/><rect x="4" y="27" width="1" height="1" fill="#00c9ff"/><rect x="5" y="27" width="1" height="1" fill="#00deff"/><rect x="6" y="27" width="1" height="1" fill="#00f2ff"/><rect x="7" y="27" width="1" height="1" fill="#00fff7"/><rect x="8" y="27" width="1" height="1" fill="#00ffe2"/><rect x="9" y="27" width="1" height="1" fill="#00ffcd"/><rect x="10" y="27" width="1" height="1" fill="#00ffb8"/><rect x="11" y="27" width="1" height="1" fill="#00ffa4"/><rect x="12" y="27" width="1" height="1" fill="#00ff8f"/><rect x="13" y="27" width="1" height="1" fill="#00ff7a"/><rect x="14" y="27" width="1" height="1" fill="#00ff65"/><rect x="15" y="27" width="1" height="1" fill="#00ff50"/><rect x="16" y="27" width="1" height="1" fill="#00ff3c"/><rect x="17" y="27" width="1" height="1" fill="#00ff27"/><rect x="18" y="27" width="1" height="1" fill="#00ff12"/><rect x="19" y="27" width="1" height="1" fill="#03ff00"/><rect x="20" y="27" width="1" height="1" fill="#18ff00"/><rect x="21" y="27" width="1" height="1" fill="#2dff00"/><rect x="22" y="27" width="1" height="1" fill="#41ff00"/><rect x="23" y="27" width="1" height="1" fill="#56ff00"/><rect x="24" y="27" width="1" height="1" fill="#6bff00"/><rect x="25" y="27" width="1" height="1" fill="#80ff00"/><rect x="26" y="27" width="1" height="1" fill="#95ff00"/><rect x="27" y="27" width="1" height="1" fill="#a9ff00"/><rect x="28" y="27" width="1" height="1" fill="#beff00"/><rect x="29" y="27" width="1" height="1" fill="#d3ff00"/><rect x="30" y="27" width="1" height="1" fill="#e8ff00"/><rect x="31" y="27" width="1" height="1" fill="#fdff00"/><rect x="32" y="27" width="1" height="1" fill="#ffec00"/><rect x="33" y="27" width="1" height="1" fill="#ffd800"/><rect x="34" y="27" width="1" height="1" fill="#ffc300"/><rect x="35" y="27" width="1" height="1" fill="#ffae00"/><rect x="36" y="27" width="1" height="1" fill="#ff9900"/><rect x="37" y="27" width="1" height="1" fill="#ff8400"/><rect x="38" y="27" width="1" height="1" fill="#ff7000"/><rect x="39" y="27" width="1" height="1" fill="#ff5b00"/>
<rect x="0" y="28" width="1" height="1" fill="#007bff"/><rect x="1" y="28" width="1" height="1" fill="#0091ff"/><rect x="2" y="28" width="1" height="1" fill="#00a6ff"/><rect x="3" y="28" width="1" height="1" fill="#00bbff"/><rect x="4" y="28" width="1" height="1" fill="#00d0ff"/><rect x="5" y="28" width="1" height="1" fill="#00e5ff"/><rect x="6" y="28" width="1" height="1" fill="#00faff"/><rect x="7" y="28" width="1" height="1" fill="#00ffee"/><rect x="8" y="28" width="1" height="1" fill="#00ffd9"/><rect x="9" y="28" width="1" height="1" fill="#00ffc4"/><rect x="10" y="28" width="1" height="1" fill="#00ffaf"/><rect x="11" y="28" width="1" height="1" fill="#00ff9a"/><rect x="12" y="28" width="1" height="1" fill="#00ff84"/><rect x="13" y="28" width="1" height="1" fill="#00ff6f"/><rect x="14" y="28" width="1" height="1" fill="#00ff5a"/><rect x="15" y="28" width="1" height="1" fill="#00ff45"/><rect x="16" y="28" width="1" height="1" fill="#00ff30"/><rect x="17" y="28" width="1" height="1" fill="#00ff1a"/><rect x="18" y="28" width="1" height="1" fill="#00ff05"/><rect x="19" y="28" width="1" height="1" fill="#10ff00"/><rect x="20" y="28" width="1" height="1" fill="#25ff00"/><rect x="21" y="28" width="1" height="1" fill="#3aff00"/><rect x="22" y="28" width="1" height="1" fill="#50ff00"/><rect x="23" y="28" width="1" height="1" fill="#65ff00"/><rect x="24" y="28" width="1" height="1" fill="#7aff00"/><rect x="25" y="28" width="1" height="1" fill="#8fff00"/><rect x="26" y="28" width="1" height="1" fill="#a4ff00"/><rect x="27" y="28" width="1" height="1" fill="#b9ff00"/><rect x="28" y="28" width="1" height="1" fill="#cfff00"/><rect x="29" y="28" width="1" height="1" fill="#e4ff00"/><rect x="30" y="28" width="1" height="1" fill="#f9ff00"/><rect x="31" y="28" width="1" height="1" fill="#fff000"/><rect x="32" y="28" width="1" height="1" fill="#ffdb00"/><rect x="33" y="28" width="1" height="1" fill="#ffc500"/><rect x="34" y="28" width="1" height="1" fill="#ffb000"/><rect x="35" y="28" width="1" height="1" fill="#ff9b00"/><rect x="36" y="28" width="1" height="1" fill="#ff8600"/><rect x="37" y="28" width="1" height="1" fill="#ff7100"/><rect x="38" y="28" width="1" height="1" fill="#ff5b00"/><rect x="39" y="28" width="1" height="1" fill="#ff4600"/>
<rect x="0" y="29" width="1" height="1" fill="#0081ff"/><rect x="1" y="29" width="1" height="1" fill="#0097ff"/><rect x="2" y="29" width="1" height="1" fill="#00acff"/><rect x="3" y="29" width="1" height="1" fill="#00c2ff"/><rect x="4" y="29" width="1" height="1" fill="#00d7ff"/><rect x="5" y="29" width="1" height="1" fill="#00edff"/><rect x="6" y="29" width="1" height="1" fill="#00fffb"/><rect x="7" y="29" width="1" height="1" fill="#00ffe6"/><rect x="8" y="29" width="1" height="1" fill="#00ffd0"/><rect x="9" y="29" width="1" height="1" fill="#00ffbb"/><rect x="10" y="29" width="1" height="1" fill="#00ffa5"/><rect x="11" y="29" width="1" height="1" fill="#00ff90"/><rect x="12" y="29" width="1" height="1" fill="#00ff7a"/><rect x="13" y="29" width="1" height="1" fill="#00ff64"/><rect x="14" y="29" width="1" height="1" fill="#00ff4f"/><rect x="15" y="29" width="1" height="1" fill="#00ff39"/><rect x="16" y="29" width="1" height="1" fill="#00ff24"/><rect x="17" y="29" width="1" height="1" fill="#00ff0e"/><rect x="18" y="29" width="1" height="1" fill="#07ff00"/><rect x="19" y="29" width="1" height="1" fill="#1dff00"/><rect x="20" y="29" width="1" height="1" fill="#33ff00"/><rect x="21" y="29" width="1" height="1" fill="#48ff00"/><rect x="22" y="29" width="1" height="1" fill="#5eff00"/><rect x="23" y="29" width="1" height="1" fill="#73ff00"/><rect x="24" y="29" width="1" height="1" fill="#89ff00"/><rect x="25" y="29" width="1" height="1" fill="#9eff00"/><rect x="26" y="29" width="1" height="1" fill="#b4ff00"/><rect x="27" y="29" width="1" height="1" fill="#c9ff00"/><rect x="28" y="29" width="1" height="1" fill="#dfff00"/><rect x="29" y="29" width="1" height="1" fill="#f5ff00"/><rect x="30" y="29" width="1" height="1" fill="#fff400"/><rect x="31" y="29" width="1" height="1" fill="#ffde00"/><rect x="32" y="29" width="1" height="1" fill="#ffc900"/><rect x="33" y="29" width="1" height="1" fill="#ffb300"/><rect x="34" y="29" width="1" height="1" fill="#ff9e00"/><rect x="35" y="29" width="1" height="1" fill="#ff8800"/><rect x="36" y="29" width="1" height="1" fill="#ff7200"/><rect x="37" y="29" width="1" height="1" fill="#ff5d00"/><rect x="38" y="29" width="1" height="1" fill="#ff4700"/><rect x="39" y="29" width="1" height="1" fill="#ff3200"/>
<rect x="0" y="30" width="1" height="1" fill="#0087ff"/><rect x="1" y="30" width="1" height="1" fill="#009dff"/><rect x="2" y="30" width="1" height="1" fill="#00b3ff"/><rect x="3" y="30" width="1" height="1" fill="#00c9ff"/><rect x="4" y="30" width="1" height="1" fill="#00dfff"/><rect x="5" y="30" width="1" height="1" fill="#00f5ff"/><rect x="6" y="30" width="1" height="1" fill="#00fff3"/><rect x="7" y="30" width="1" height="1" fill="#00ffdd"/><rect x="8" y="30" width="1" height="1" fill="#00ffc7"/><rect x="9" y="30" width="1" height="1" fill="#00ffb1"/><rect x="10" y="30" width="1" height="1" fill="#00ff9b"/><rect x="11" y="30" width="1" height="1" fill="#00ff86"/><rect x="12" y="30" width="1" height="1" fill="#00ff70"/><rect x="13" y="30" width="1" height="1" fill="#00ff5a"/><rect x="14" y="30" width="1" height="1" fill="#00ff44"/><rect x="15" y="30" width="1" height="1" fill="#00ff2e"/><rect x="16" y="30" width="1" height="1" fill="#00ff18"/><rect x="17" y="30" width="1" height="1" fill="#00ff02"/><rect x="18" y="30" width="1" height="1" fill="#14ff00"/><rect x="19" y="30" width="1" height="1" fill="#2aff00"/><rect x="20" y="30" width="1" height="1" fill="#40ff00"/><rect x="21" y="30" width="1" height="1" fill="#56ff00"/><rect x="22" y="30" width="1" height="1" fill="#6cff00"/><rect x="23" y="30" width="1" height="1" fill="#82ff00"/><rect x="24" y="30" width="1" height="1" fill="#98ff00"/><rect x="25" y="30" width="1" height="1" fill="#aeff00"/><rect x="26" y="30" width="1" height="1" fill="#c4ff00"/><rect x="27" y="30" width="1" height="1" fill="#daff00"/><rect x="28" y="30" width="1" height="1" fill="#efff00"/><rect x="29" y="30" width="1" height="1" fill="#fff900"/><rect x="30" y="30" width="1" height="1" fill="#ffe300"/><rect x="31" y="30" width="1" height="1" fill="#ffcd00"/><rect x="32" y="30" width="1" height="1" fill="#ffb700"/><rect x="33" y="30" width="1" height="1" fill="#ffa100"/><rect x="34" y="30" width="1" height="1" fill="#ff8b00"/><rect x="35" y="30" width="1" height="1" fill="#ff7500"/><rect x="36" y="30" width="1" height="1" fill="#ff5f00"/><rect x="37" y="30" width="1" height="1" fill="#ff4900"/><rect x="38" y="30" width="1" height="1" fill="#ff3300"/><rect x="39" y="30" width="1" height="1" fill="#ff1d00"/>
<rect x="0" y="31" width="1" height="1" fill="#008dff"/><rect x="1" y="31" width="1" height="1" fill="#00a3ff"/><rect x="2" y="31" width="1" height="1" fill="#00baff"/><rect x="3" y="31" width="1" height="1" fill="#00d0ff"/><rect x="4" y="31" width="1" height="1" fill="#00e6ff"/><rect x="5" y="31" width="1" height="1" fill="#00fdff"/><rect x="6" y="31" width="1" height="1" fill="#00ffeb"/><rect x="7" y="31" width="1" height="1" fill="#00ffd5"/><rect x="8" y="31" width="1" height="1" fill="#00ffbe"/><rect x="9" y="31" width="1" height="1" fill="#00ffa8"/><rect x="10" y="31" width="1" height="1" fill="#00ff92"/><rect x="11" y="31" width="1" height="1" fill="#00ff7c"/><rect x="12" y="31" width="1" height="1" fill="#00ff65"/><rect x="13" y="31" width="1" height="1" fill="#00ff4f"/><rect x="14" y="31" width="1" height="1" fill="#00ff39"/><rect x="15" y="31" width="1" height="1" fill="#00ff22"/><rect x="16" y="31" width="1" height="1" fill="#00ff0c"/><rect x="17" y="31" width="1" height="1" fill="#0aff00"/><rect x="18" y="31" width="1" height="1" fill="#21ff00"/><rect x="19" y="31" width="1" height="1" fill="#37ff00"/><rect x="20" y="31" width="1" height="1" fill="#4dff00"/><rect x="21" y="31" width="1" height="1" fill="#64ff00"/><rect x="22" y="31" width="1" height="1" fill="#7aff00"/><rect x="23" y="31" width="1" height="1" fill="#90ff00"/><rect x="24" y="31" width="1" height="1" fill="#a7ff00"/><rect x="25" y="31" width="1" height="1" fill="#bdff00"/><rect x="26" y="31" width="1" height="1" fill="#d3ff00"/><rect x="27" y="31" width="1" height="1" fill="#eaff00"/><rect x="28" y="31" width="1" height="1" fill="#fffe00"/><rect x="29" y="31" width="1" height="1" fill="#ffe800"/><rect x="30" y="31" width="1" height="1" fill="#ffd200"/><rect x="31" y="31" width="1" height="1" fill="#ffbb00"/><rect x="32" y="31" width="1" height="1" fill="#ffa500"/><rect x="33" y="31" width="1" height="1" fill="#ff8f00"/><rect x="34" y="31" width="1" height="1" fill="#ff7800"/><rect x="35" y="31" width="1" height="1" fill="#ff6200"/><rect x="36" y="31" width="1" height="1" fill="#ff4c00"/><rect x="37" y="31" width="1" height="1" fill="#ff3500"/><rect x="38" y="31" width="1" height="1" fill="#ff1f00"/><rect x="39" y="31" width="1" height="1" fill="#ff0900"/>
<rect x="0" y="32" width="1" height="1" fill="#0093ff"/><rect x="1" y="32" width="1" height="1" fill="#00aaff"/><rect x="2" y="32" width="1" height="1" fill="#00c0ff"/><rect x="3" y="32" width="1" height="1" fill="#00d7ff"/><rect x="4" y="32" width="1" height="1" fill="#00eeff"/><rect x="5" y="32" width="1" height="1" fill="#00fffa"/><rect x="6" y="32" width="1" height="1" fill="#00ffe3"/><rect x="7" y="32" width="1" height="1" fill="#00ffcc"/><rect x="8" y="32" width="1" height="1" fill="#00ffb6"/><rect x="9" y="32" width="1" height="1" fill="#00ff9f"/><rect x="10" y="32" width="1" height="1" fill="#00ff88"/><rect x="11" y="32" width="1" height="1" fill="#00ff71"/><rect x="12" y="32" width="1" height="1" fill="#00ff5b"/><rect x="13" y="32" width="1" height="1" fill="#00ff44"/><rect x="14" y="32" width="1" height="1" fill="#00ff2d"/><rect x="15" y="32" width="1" height="1" fill="#00ff17"/><rect x="16" y="32" width="1" height="1" fill="#00ff00"/><rect x="17" y="32" width="1" height="1" fill="#17ff00"/><rect x="18" y="32" width="1" height="1" fill="#2dff00"/><rect x="19" y="32" width="1" height="1" fill="#44ff00"/><rect x="20" y="32" width="1" height="1" fill="#5bff00"/><rect x="21" y="32" width="1" height="1" fill="#71ff00"/><rect x="22" y="32" width="1" height="1" fill="#88ff00"/><rect x="23" y="32" width="1" height="1" fill="#9fff00"/><rect x="24" y="32" width="1" height="1" fill="#b5ff00"/><rect x="25" y="32" width="1" height="1" fill="#ccff00"/><rect x="26" y="32" width="1" height="1" fill="#e3ff00"/><rect x="27" y="32" width="1" height="1" fill="#faff00"/><rect x="28" y="32" width="1" height="1" fill="#ffee00"/><rect x="29" y="32" width="1" height="1" fill="#ffd700"/><rect x="30" y="32" width="1" height="1" fill="#ffc000"/><rect x="31" y="32" width="1" height="1" fill="#ffaa00"/><rect x="32" y="32" width="1" height="1" fill="#ff9300"/><rect x="33" y="32" width="1" height="1" fill="#ff7c00"/><rect x="34" y="32" width="1" height="1" fill="#ff6600"/><rect x="35" y="32" width="1" height="1" fill="#ff4f00"/><rect x="36" y="32" width="1" height="1" fill="#ff3800"/><rect x="37" y="32" width="1" height="1" fill="#ff2200"/><rect x="38" y="32" width="1" height="1" fill="#ff0b00"/><rect x="39" y="32" width="1" height="1" fill="#ff0000"/>
<rect x="0" y="33" width="1" height="1" fill="#0099ff"/><rect x="1" y="33" width="1" height="1" fill="#00b0ff"/><rect x="2" y="33" width="1" height="1" fill="#00c7ff"/><rect x="3" y="33" width="1" height="1" fill="#00deff"/><rect x="4" y="33" width="1" height="1" fill="#00f5ff"/><rect x="5" y="33" width="1" height="1" fill="#00fff2"/><rect x="6" y="33" width="1" height="1" fill="#00ffdb"/><rect x="7" y="33" width="1" height="1" fill="#00ffc4"/><rect x="8" y="33" width="1" height="1" fill="#00ffad"/><rect x="9" y="33" width="1" height="1" fill="#00ff96"/><rect x="10" y="33" width="1" height="1" fill="#00ff7f"/><rect x="11" y="33" width="1" height="1" fill="#00ff67"/><rect x="12" y="33" width="1" height="1" fill="#00ff50"/><rect x="13" y="33" width="1" height="1" fill="#00ff39"/><rect x="14" y="33" width="1" height="1" fill="#00ff22"/><rect x="15" y="33" width="1" height="1" fill="#00ff0b"/><rect x="16" y="33" width="1" height="1" fill="#0cff00"/><rect x="17" y="33" width="1" height="1" fill="#23ff00"/><rect x="18" y="33" width="1" height="1" fill="#3aff00"/><rect x="19" y="33" width="1" height="1" fill="#51ff00"/><rect x="20" y="33" width="1" height="1" fill="#68ff00"/><rect x="21" y="33" width="1" height="1" fill="#7fff00"/><rect x="22" y="33" width="1" height="1" fill="#96ff00"/><rect x="23" y="33" width="1" height="1" fill="#adff00"/><rect x="24" y="33" width="1" height="1" fill="#c4ff00"/><rect x="25" y="33" width="1" height="1" fill="#dbff00"/><rect x="26" y="33" width="1" height="1" fill="#f3ff00"/><rect x="27" y="33" width="1" height="1" fill="#fff400"/><rect x="28" y="33" width="1" height="1" fill="#ffdd00"/><rect x="29" y="33" width="1" height="1" fill="#ffc600"/><rect x="30" y="33" width="1" height="1" fill="#ffaf00"/><rect x="31" y="33" width="1" height="1" fill="#ff9800"/><rect x="32" y="33" width="1" height="1" fill="#ff8100"/><rect x="33" y="33" width="1" height="1" fill="#ff6a00"/><rect x="34" y="33" width="1" height="1" fill="#ff5300"/><rect x="35" y="33" width="1" height="1" fill="#ff3c00"/><rect x="36" y="33" width="1" height="1" fill="#ff2500"/><rect x="37" y="33" width="1" height="1" fill="#ff0e00"/><rect x="38" y="33" width="2" height="1" fill="#ff0000"/>
<rect x="0" y="34" width="1" height="1" fill="#009fff"/><rect x="1" y="34" width="1" height="1" fill="#00b6ff"/><rect x="2" y="34" width="1" height="1" fill="#00ceff"/><rect x="3" y="34" width="1" height="1" fill="#00e5ff"/><rect x="4" y="34" width="1" height="1" fill="#00fcff"/><rect x="5" y="34" width="1" height="1" fill="#00ffea"/><rect x="6" y="34" width="1" height="1" fill="#00ffd3"/><rect x="7" y="34" width="1" height="1" fill="#00ffbb"/><rect x="8" y="34" width="1" height="1" fill="#00ffa4"/><rect x="9" y="34" width="1" height="1" fill="#00ff8c"/><rect x="10" y="34" width="1" height="1" fill="#00ff75"/><rect x="11" y="34" width="1" height="1" fill="#00ff5d"/><rect x="12" y="34" width="1" height="1" fill="#00ff46"/><rect x="13" y="34" width="1" height="1" fill="#00ff2f"/><rect x="14" y="34" width="1" height="1" fill="#00ff17"/><rect x="15" y="34" width="1" height="1" fill="#00ff00"/><rect x="16" y="34" width="1" height="1" fill="#18ff00"/><rect x="17" y="34" width="1" height="1" fill="#2fff00"/><rect x="18" y="34" width="1" height="1" fill="#47ff00"/><rect x="19" y="34" width="1" height="1" fill="#5eff00"/><rect x="20" y="34" width="1" height="1" fill="#76ff00"/><rect x="21" y="34" width="1" height="1" fill="#8dff00"/><rect x="22" y="34" width="1" height="1" fill="#a4ff00"/><rect x="23" y="34" width="1" height="1" fill="#bcff00"/><rect x="24" y="34" width="1" height="1" fill="#d3ff00"/><rect x="25" y="34" width="1" height="1" fill="#ebff00"/><rect x="26" y="34" width="1" height="1" fill="#fffc00"/><rect x="27" y="34" width="1" height="1" fill="#ffe400"/><rect x="28" y="34" width="1" height="1" fill="#ffcd00"/><rect x="29" y="34" width="1" height="1" fill="#ffb600"/><rect x="30" y="34" width="1" height="1" fill="#ff9e00"/><rect x="31" y="34" width="1" height="1" fill="#ff8700"/><rect x="32" y="34" width="1" height="1" fill="#ff6f00"/><rect x="33" y="34" width="1" height="1" fill="#ff5800"/><rect x="34" y="34" width="1" height="1" fill="#ff4000"/><rect x="35" y="34" width="1" height="1" fill="#ff2900"/><rect x="36" y="34" width="1" height="1" fill="#ff1100"/><rect x="37" y="34" width="3" height="1" fill="#ff0000"/>
<rect x="0" y="35" width="1" height="1" fill="#00a5ff"/><rect x="1" y="35" width="1" height="1" fill="#00bcff"/><rect x="2" y="35" width="1" height="1" fill="#00d4ff"/><rect x="3" y="35" width="1" height="1" fill="#00ecff"/><rect x="4" y="35" width="1" height="1" fill="#00fffa"/><rect x="5" y="35" width="1" height="1" fill="#00ffe2"/><rect x="6" y="35" width="1" height="1" fill="#00ffca"/><rect x="7" y="35" width="1" height="1" fill="#00ffb3"/><rect x="8" y="35" width="1" height="1" fill="#00ff9b"/><rect x="9" y="35" width="1" height="1" fill="#00ff83"/><rect x="10" y="35" width="1" height="1" fill="#00ff6b"/><rect x="11" y="35" width="1" height="1" fill="#00ff53"/><rect x="12" y="35" width="1" height="1" fill="#00ff3c"/><rect x="13" y="35" width="1" height="1" fill="#00ff24"/><rect x="14" y="35" width="1" height="1" fill="#00ff0c"/><rect x="15" y="35" width="1" height="1" fill="#0cff00"/><rect x="16" y="35" width="1" height="1" fill="#24ff00"/><rect x="17" y="35" width="1" height="1" fill="#3bff00"/><rect x="18" y="35" width="1" height="1" fill="#53ff00"/><rect x="19" y="35" width="1" height="1" fill="#6bff00"/><rect x="20" y="35" width="1" height="1" fill="#83ff00"/><rect x="21" y="35" width="1" height="1" fill="#9bff00"/><rect x="22" y="35" width="1" height="1" fill="#b3ff00"/><rect x="23" y="35" width="1" height="1" fill="#caff00"/><rect x="24" y="35" width="1" height="1" fill="#e2ff00"/><rect x="25" y="35" width="1" height="1" fill="#faff00"/><rect x="26" y="35" width="1" height="1" fill="#ffec00"/><rect x="27" y="35" width="1" height="1" fill="#ffd400"/><rect x="28" y="35" width="1" height="1" fill="#ffbd00"/><rect x="29" y="35" width="1" height="1" fill="#ffa500"/><rect x="30" y="35" width="1" height="1" fill="#ff8d00"/><rect x="31" y="35" width="1" height="1" fill="#ff7500"/><rect x="32" y="35" width="1" height="1" fill="#ff5d00"/><rect x="33" y="35" width="1" height="1" fill="#ff4600"/><rect x="34" y="35" width="1" height="1" fill="#ff2e00"/><rect x="35" y="35" width="1" height="1" fill="#ff1600"/><rect x="36" y="35" width="4" height="1" fill="#ff0000"/>
<rect x="0" y="36" width="1" height="1" fill="#00abff"/><rect x="1" y="36" width="1" height="1" fill="#00c3ff"/><rect x="2" y="36" width="1" height="1" fill="#00dbff"/><rect x="3" y="36" width="1" height="1" fill="#00f3ff"/><rect x="4" y="36" width="1" height="1" fill="#00fff3"/><rect x="5" y="36" width="1" height="1" fill="#00ffdb"/><rect x="6" y="36" width="1" height="1" fill="#00ffc2"/><rect x="7" y="36" width="1" height="1" fill="#00ffaa"/><rect x="8" y="36" width="1" height="1" fill="#00ff92"/><rect x="9" y="36" width="1" height="1" fill="#00ff7a"/><rect x="10" y="36" width="1" height="1" fill="#00ff62"/><rect x="11" y="36" width="1" height="1" fill="#00ff49"/><rect x="12" y="36" width="1" height="1" fill="#00ff31"/><rect x="13" y="36" width="1" height="1" fill="#00ff19"/><rect x="14" y="36" width="1" height="1" fill="#00ff01"/><rect x="15" y="36" width="1" height="1" fill="#17ff00"/><rect x="16" y="36" width="1" height="1" fill="#30ff00"/><rect x="17" y="36" width="1" height="1" fill="#48ff00"/><rect x="18" y="36" width="1" height="1" fill="#60ff00"/><rect x="19" y="36" width="1" height="1" fill="#78ff00"/><rect x="20" y="36" width="1" height="1" fill="#90ff00"/><rect x="21" y="36" width="1" height="1" fill="#a8ff00"/><rect x="22" y="36" width="1" height="1" fill="#c1ff00"/><rect x="23" y="36" width="1" height="1" fill="#d9ff00"/><rect x="24" y="36" width="1" height="1" fill="#f1ff00"/><rect x="25" y="36" width="1" height="1" fill="#fff500"/><rect x="26" y="36" width="1" height="1" fill="#ffdd00"/><rect x="27" y="36" width="1" height="1" fill="#ffc400"/><rect x="28" y="36" width="1" height="1" fill="#ffac00"/><rect x="29" y="36" width="1" height="1" fill="#ff9400"/><rect x="30" y="36" width="1" height="1" fill="#ff7c00"/><rect x="31" y="36" width="1" height="1" fill="#ff6400"/><rect x="32" y="36" width="1" height="1" fill="#ff4b00"/><rect x="33" y="36" width="1" height="1" fill="#ff3300"/><rect x="34" y="36" width="1" height="1" fill="#ff1b00"/><rect x="35" y="36" width="1" height="1" fill="#ff0300"/><rect x="36" y="36" width="4" height="1" fill="#ff0000"/>
<rect x="0" y="37" width="1" height="1" fill="#00b0ff"/><rect x="1" y="37" width="1" height="1" fill="#00c9ff"/><rect x="2" y="37" width="1" height="1" fill="#00e2ff"/><rect x="3" y="37" width="1" height="1" fill="#00faff"/><rect x="4" y="37" width="1" height="1" fill="#00ffeb"/><rect x="5" y="37" width="1" height="1" fill="#00ffd3"/><rect x="6" y="37" width="1" height="1" fill="#00ffba"/><rect x="7" y="37" width="1" height="1" fill="#00ffa2"/><rect x="8" y="37" width="1" height="1" fill="#00ff89"/><rect x="9" y="37" width="1" height="1" fill="#00ff70"/><rect x="10" y="37" width="1" height="1" fill="#00ff58"/><rect x="11" y="37" width="1" height="1" fill="#00ff3f"/><rect x="12" y="37" width="1" height="1" fill="#00ff27"/><rect x="13" y="37" width="1" height="1" fill="#00ff0e"/><rect x="14" y="37" width="1" height="1" fill="#0aff00"/><rect x="15" y="37" width="1" height="1" fill="#23ff00"/><rect x="16" y="37" width="1" height="1" fill="#3bff00"/><rect x="17" y="37" width="1" height="1" fill="#54ff00"/><rect x="18" y="37" width="1" height="1" fill="#6dff00"/><rect x="19" y="37" width="1" height="1" fill="#85ff00"/><rect x="20" y="37" width="1" height="1" fill="#9eff00"/><rect x="21" y="37" width="1" height="1" fill="#b6ff00"/><rect x="22" y="37" width="1" height="1" fill="#cfff00"/><rect x="23" y="37" width="1" height="1" fill="#e7ff00"/><rect x="24" y="37" width="1" height="1" fill="#fffe00"/><rect x="25" y="37" width="1" height="1" fill="#ffe500"/><rect x="26" y="37" width="1" height="1" fill="#ffcd00"/><rect x="27" y="37" width="1" height="1" fill="#ffb400"/><rect x="28" y="37" width="1" height="1" fill="#ff9c00"/><rect x="29" y="37" width="1" height="1" fill="#ff8300"/><rect x="30" y="37" width="1" height="1" fill="#ff6b00"/><rect x="31" y="37" width="1" height="1" fill="#ff5200"/><rect x="32" y="37" width="1" height="1" fill="#ff3a00"/><rect x="33" y="37" width="1" height="1" fill="#ff2100"/><rect x="34" y="37" width="1" height="1" fill="#ff0800"/><rect x="35" y="37" width="5" height="1" fill="#ff0000"/>
<rect x="0" y="38" width="1" height="1" fill="#00b6ff"/><rect x="1" y="38" width="1" height="1" fill="#00cfff"/><rect x="2" y="38" width="1" height="1" fill="#00e8ff"/><rect x="3" y="38" width="1" height="1" fill="#00fffd"/><rect x="4" y="38" width="1" height="1" fill="#00ffe4"/><rect x="5" y="38" width="1" height="1" fill="#00ffcb"/><rect x="6" y="38" width="1" height="1" fill="#00ffb2"/><rect x="7" y="38" width="1" height="1" fill="#00ff99"/><rect x="8" y="38" width="1" height="1" fill="#00ff80"/><rect x="9" y="38" width="1" height="1" fill="#00ff67"/><rect x="10" y="38" width="1" height="1" fill="#00ff4e"/><rect x="11" y="38" width="1" height="1" fill="#00ff35"/><rect x="12" y="38" width="1" height="1" fill="#00ff1c"/><rect x="13" y="38" width="1" height="1" fill="#00ff03"/><rect x="14" y="38" width="1" height="1" fill="#15ff00"/><rect x="15" y="38" width="1" height="1" fill="#2eff00"/><rect x="16" y="38" width="1" height="1" fill="#47ff00"/><rect x="17" y="38" width="1" height="1" fill="#60ff00"/><rect x="18" y="38" width="1" height="1" fill="#79ff00"/><rect x="19" y="38" width="1" height="1" fill="#92ff00"/><rect x="20" y="38" width="1" height="1" fill="#abff00"/><rect x="21" y="38" width="1" height="1" fill="#c4ff00"/><rect x="22" y="38" width="1" height="1" fill="#ddff00"/><rect x="23" y="38" width="1" height="1" fill="#f6ff00"/><rect x="24" y="38" width="1" height="1" fill="#ffef00"/><rect x="25" y="38" width="1" height="1" fill="#ffd600"/><rect x="26" y="38" width="1" height="1" fill="#ffbd00"/><rect x="27" y="38" width="1" height="1" fill="#ffa400"/><rect x="28" y="38" width="1" height="1" fill="#ff8b00"/><rect x="29" y="38" width="1" height="1" fill="#ff7200"/><rect x="30" y="38" width="1" height="1" fill="#ff5a00"/><rect x="31" y="38" width="1" height="1" fill="#ff4100"/><rect x="32" y="38" width="1" height="1" fill="#ff2800"/><rect x="33" y="38" width="1" height="1" fill="#ff0f00"/><rect x="34" y="38" width="6" height="1" fill="#ff0000"/>
<rect x="0" y="39" width="1" height="1" fill="#00bcff"/><rect x="1" y="39" width="1" height="1" fill="#00d6ff"/><rect x="2" y="39" width="1" height="1" fill="#00efff"/><rect x="3" y="39" width="1" height="1" fill="#00fff6"/><rect x="4" y="39" width="1" height="1" fill="#00ffdd"/><rect x="5" y="39" width="1" height="1" fill="#00ffc3"/><rect x="6" y="39" width="1" height="1" fill="#00ffaa"/><rect x="7" y="39" width="1" height="1" fill="#00ff91"/><rect x="8" y="39" width="1" height="1" fill="#00ff77"/><rect x="9" y="39" width="1" height="1" fill="#00ff5e"/><rect x="10" y="39" width="1" height="1" fill="#00ff45"/><rect x="11" y="39" width="1" height="1" fill="#00ff2b"/><rect x="12" y="39" width="1" height="1" fill="#00ff12"/><rect x="13" y="39" width="1" height="1" fill="#07ff00"/><rect x="14" y="39" width="1" height="1" fill="#21ff00"/><rect x="15" y="39" width="1" height="1" fill="#3aff00"/><rect x="16" y="39" width="1" height="1" fill="#53ff00"/><rect x="17" y="39" width="1" height="1" fill="#6dff00"/><rect x="18" y="39" width="1" height="1" fill="#86ff00"/><rect x="19" y="39" width="1" height="1" fill="#9fff00"/><rect x="20" y="39" width="1" height="1" fill="#b8ff00"/><rect x="21" y="39" width="1" height="1" fill="#d2ff00"/><rect x="22" y="39" width="1" height="1" fill="#ebff00"/><rect x="23" y="39" width="1" height="1" fill="#fffa00"/><rect x="24" y="39" width="1" height="1" fill="#ffe000"/><rect x="25" y="39" width="1" height="1" fill="#ffc700"/><rect x="26" y="39" width="1" height="1" fill="#ffae00"/><rect x="27" y="39" width="1" height="1" fill="#ff9400"/><rect x="28" y="39" width="1" height="1" fill="#ff7b00"/><rect x="29" y="39" width="1" height="1" fill="#ff6200"/><rect x="30" y="39" width="1" height="1" fill="#ff4800"/><rect x="31" y="39" width="1" height="1" fill="#ff2f00"/><rect x="32" y="39" width="1" height="1" fill="#ff1600"/><rect x="33" y="39" width="7" height="1" fill="#ff0000"/>
</g>
<g fill="none" stroke="#000" stroke-width="2">
<rect x="405" y="1507" width="1825" height="1073.5"/>
<path d="M353 1507.0H405M353 1775.4H405M353 2043.8H405M353 2312.1H405M353 2580.5H405M405.0 2580.5V2611M861.2 2580.5V2611M1317.5 2580.5V2611M1773.8 2580.5V2611M2230.0 2580.5V2611" stroke-width="1.8"/>
<path d="M405.0 2488.5L407.6 2482.1L411.2 2473.2L414.9 2464.2L418.6 2455.3L422.3 2446.3L426.1 2437.4L429.9 2428.4L433.8 2419.5L437.7 2410.5L441.7 2401.6L445.7 2392.6L449.7 2383.7L453.8 2374.7L457.9 2365.8L462.1 2356.9L466.3 2347.9L470.6 2339.0L474.9 2330.0L479.3 2321.1L483.7 2312.1L488.2 2303.2L492.7 2294.2L497.3 2285.3L501.9 2276.3L506.6 2267.4L511.4 2258.4L516.2 2249.5L521.0 2240.6L525.9 2231.6L530.9 2222.7L535.9 2213.7L541.0 2204.8L546.2 2195.8L551.4 2186.9L556.7 2177.9L562.1 2169.0L567.5 2160.0L573.0 2151.1L578.6 2142.2L584.2 2133.2L589.9 2124.3L595.7 2115.3L601.6 2106.4L607.5 2097.4L613.5 2088.5L619.6 2079.5L625.8 2070.6L632.1 2061.6L638.4 2052.7L644.9 2043.8L651.4 2034.8L658.0 2025.9L664.8 2016.9L671.6 2008.0L678.5 1999.0L685.5 1990.1L692.6 1981.1L699.8 1972.2L707.2 1963.2L714.6 1954.3L722.2 1945.3L729.8 1936.4L737.6 1927.5L745.5 1918.5L753.5 1909.6L761.7 1900.6L770.0 1891.7L778.4 1882.7L786.9 1873.8L795.6 1864.8L804.4 1855.9L813.4 1846.9L822.5 1838.0L831.8 1829.1L841.2 1820.1L850.8 1811.2L860.5 1802.2L870.4 1793.3L880.5 1784.3L890.8 1775.4L901.2 1766.4L911.8 1757.5L922.6 1748.5L933.7 1739.6L944.9 1730.6L956.3 1721.7L967.9 1712.8L979.8 1703.8L991.9 1694.9L1004.2 1685.9L1016.8 1677.0L1029.6 1668.0L1042.6 1659.1L1055.9 1650.1L1069.5 1641.2L1083.4 1632.2L1097.5 1623.3L1112.0 1614.3L1126.7 1605.4L1141.7 1596.5L1157.1 1587.5L1172.8 1578.6L1188.9 1569.6L1205.3 1560.7L1222.1 1551.7L1239.3 1542.8L1256.8 1533.8L1274.8 1524.9L1293.2 1515.9L1312.0 1507.0L1312.0 1507.0"/>
<path d="M742.6 2580.5L742.6 2580.5L747.7 2571.6L752.8 2562.6L758.0 2553.7L763.2 2544.7L768.5 2535.8L773.9 2526.8L779.3 2517.9L784.7 2508.9L790.2 2500.0L795.8 2491.0L801.4 2482.1L807.1 2473.2L812.9 2464.2L818.7 2455.3L824.5 2446.3L830.5 2437.4L836.4 2428.4L842.5 2419.5L848.6 2410.5L854.8 2401.6L861.1 2392.6L867.4 2383.7L873.8 2374.7L880.2 2365.8L886.8 2356.9L893.4 2347.9L900.1 2339.0L906.8 2330.0L913.7 2321.1L920.6 2312.1L927.6 2303.2L934.6 2294.2L941.8 2285.3L949.1 2276.3L956.4 2267.4L963.8 2258.4L971.3 2249.5L978.9 2240.6L986.6 2231.6L994.4 2222.7L1002.2 2213.7L1010.2 2204.8L1018.3 2195.8L1026.5 2186.9L1034.7 2177.9L1043.1 2169.0L1051.6 2160.0L1060.2 2151.1L1068.9 2142.2L1077.7 2133.2L1086.7 2124.3L1095.7 2115.3L1104.9 2106.4L1114.2 2097.4L1123.6 2088.5L1133.2 2079.5L1142.8 2070.6L1152.6 2061.6L1162.6 2052.7L1172.7 2043.8L1182.9 2034.8L1193.3 2025.9L1203.8 2016.9L1214.4 2008.0L1225.2 1999.0L1236.2 1990.1L1247.4 1981.1L1258.7 1972.2L1270.1 1963.2L1281.8 1954.3L1293.6 1945.3L1305.5 1936.4L1317.7 1927.5L1330.1 1918.5L1342.6 1909.6L1355.4 1900.6L1368.3 1891.7L1381.5 1882.7L1394.8 1873.8L1408.4 1864.8L1422.2 1855.9L1436.2 1846.9L1450.5 1838.0L1465.0 1829.1L1479.7 1820.1L1494.7 1811.2L1510.0 1802.2L1525.5 1793.3L1541.2 1784.3L1557.3 1775.4L1573.6 1766.4L1590.2 1757.5L1607.2 1748.5L1624.4 1739.6L1641.9 1730.6L1659.8 1721.7L1678.0 1712.8L1696.6 1703.8L1715.5 1694.9L1734.7 1685.9L1754.4 1677.0L1774.4 1668.0L1794.8 1659.1L1815.6 1650.1L1836.9 1641.2L1858.6 1632.2L1880.7 1623.3L1903.3 1614.3L1926.4 1605.4L1949.9 1596.5L1974.0 1587.5L1998.5 1578.6L2023.7 1569.6L2049.3 1560.7L2075.6 1551.7L2102.4 1542.8L2129.9 1533.8L2158.0 1524.9L2186.8 1515.9L2216.2 1507.0L2216.2 1507.0"/>
<path d="M1115.2 2580.5L1115.2 2580.5L1122.2 2571.6L1129.1 2562.6L1136.2 2553.7L1143.3 2544.7L1150.5 2535.8L1157.8 2526.8L1165.2 2517.9L1172.6 2508.9L1180.1 2500.0L1187.7 2491.0L1195.3 2482.1L1203.0 2473.2L1210.9 2464.2L1218.8 2455.3L1226.7 2446.3L1234.8 2437.4L1242.9 2428.4L1251.2 2419.5L1259.5 2410.5L1267.9 2401.6L1276.4 2392.6L1285.0 2383.7L1293.7 2374.7L1302.5 2365.8L1311.4 2356.9L1320.4 2347.9L1329.5 2339.0L1338.7 2330.0L1348.0 2321.1L1357.4 2312.1L1366.9 2303.2L1376.6 2294.2L1386.3 2285.3L1396.2 2276.3L1406.1 2267.4L1416.2 2258.4L1426.5 2249.5L1436.8 2240.6L1447.2 2231.6L1457.8 2222.7L1468.6 2213.7L1479.4 2204.8L1490.4 2195.8L1501.5 2186.9L1512.8 2177.9L1524.2 2169.0L1535.7 2160.0L1547.4 2151.1L1559.3 2142.2L1571.3 2133.2L1583.4 2124.3L1595.7 2115.3L1608.2 2106.4L1620.9 2097.4L1633.7 2088.5L1646.7 2079.5L1659.9 2070.6L1673.2 2061.6L1686.7 2052.7L1700.4 2043.8L1714.4 2034.8L1728.5 2025.9L1742.8 2016.9L1757.3 2008.0L1772.0 1999.0L1786.9 1990.1L1802.1 1981.1L1817.5 1972.2L1833.1 1963.2L1848.9 1954.3L1865.0 1945.3L1881.3 1936.4L1897.8 1927.5L1914.7 1918.5L1931.7 1909.6L1949.1 1900.6L1966.7 1891.7L1984.6 1882.7L2002.8 1873.8L2021.2 1864.8L2040.0 1855.9L2059.1 1846.9L2078.5 1838.0L2098.2 1829.1L2118.3 1820.1L2138.7 1811.2L2159.4 1802.2L2180.5 1793.3L2202.0 1784.3L2223.8 1775.4L2230.0 1772.9"/>
<path d="M1487.9 2580.5L1487.9 2580.5L1496.6 2571.6L1505.5 2562.6L1514.4 2553.7L1523.4 2544.7L1532.5 2535.8L1541.7 2526.8L1551.0 2517.9L1560.4 2508.9L1569.9 2500.0L1579.5 2491.0L1589.2 2482.1L1599.0 2473.2L1608.8 2464.2L1618.8 2455.3L1628.9 2446.3L1639.1 2437.4L1649.4 2428.4L1659.9 2419.5L1670.4 2410.5L1681.1 2401.6L1691.8 2392.6L1702.7 2383.7L1713.7 2374.7L1724.8 2365.8L1736.1 2356.9L1747.5 2347.9L1759.0 2339.0L1770.6 2330.0L1782.4 2321.1L1794.3 2312.1L1806.3 2303.2L1818.5 2294.2L1830.8 2285.3L1843.3 2276.3L1855.9 2267.4L1868.7 2258.4L1881.6 2249.5L1894.7 2240.6L1907.9 2231.6L1921.3 2222.7L1934.9 2213.7L1948.6 2204.8L1962.5 2195.8L1976.6 2186.9L1990.8 2177.9L2005.2 2169.0L2019.8 2160.0L2034.6 2151.1L2049.6 2142.2L2064.8 2133.2L2080.2 2124.3L2095.8 2115.3L2111.6 2106.4L2127.6 2097.4L2143.8 2088.5L2160.2 2079.5L2176.9 2070.6L2193.8 2061.6L2210.9 2052.7L2228.2 2043.8L2230.0 2042.9"/>
<path d="M1860.5 2580.5L1860.5 2580.5L1871.1 2571.6L1881.8 2562.6L1892.6 2553.7L1903.5 2544.7L1914.5 2535.8L1925.7 2526.8L1936.9 2517.9L1948.3 2508.9L1959.7 2500.0L1971.3 2491.0L1983.1 2482.1L1994.9 2473.2L2006.8 2464.2L2018.9 2455.3L2031.1 2446.3L2043.5 2437.4L2056.0 2428.4L2068.6 2419.5L2081.3 2410.5L2094.2 2401.6L2107.2 2392.6L2120.4 2383.7L2133.7 2374.7L2147.1 2365.8L2160.7 2356.9L2174.5 2347.9L2188.4 2339.0L2202.5 2330.0L2216.7 2321.1L2230.0 2312.8"/>
</g>
<ellipse cx="402.4" cy="2042.2" rx="16.2" ry="9.6" fill="#f00" stroke="#000" stroke-width="2"/>
<ellipse cx="2227.4" cy="2042.2" rx="16.2" ry="9.6" fill="#f00" stroke="#000" stroke-width="2"/>
<ellipse cx="1314.9" cy="1505.5" rx="16.2" ry="9.6" fill="#f00" stroke="#000" stroke-width="2"/>
<ellipse cx="1314.9" cy="2579.0" rx="16.2" ry="9.6" fill="#f00" stroke="#000" stroke-width="2"/>
<text id="by0" class="n" style="font-size:33.70px" x="230.44" y="1516.10" textLength="107.27" lengthAdjust="spacingAndGlyphs">8.00</text>
<text id="by1" class="n" style="font-size:33.70px" x="230.44" y="1784.47" textLength="107.27" lengthAdjust="spacingAndGlyphs">6.50</text>
<text id="by2" class="n" style="font-size:33.70px" x="230.44" y="2052.85" textLength="107.27" lengthAdjust="spacingAndGlyphs">5.00</text>
<text id="by3" class="n" style="font-size:33.70px" x="230.44" y="2321.22" textLength="107.27" lengthAdjust="spacingAndGlyphs">3.50</text>
<text id="by4" class="n" style="font-size:33.70px" x="230.44" y="2589.60" textLength="107.27" lengthAdjust="spacingAndGlyphs">2.00</text>
<text id="bx0" class="n" style="font-size:33.70px" x="337.26" y="2651.00" textLength="135.47" lengthAdjust="spacingAndGlyphs">20.00</text>
<text id="bx1" class="n" style="font-size:33.70px" x="793.01" y="2651.00" textLength="136.47" lengthAdjust="spacingAndGlyphs">25.00</text>
<text id="bx2" class="n" style="font-size:33.70px" x="1249.76" y="2651.00" textLength="135.47" lengthAdjust="spacingAndGlyphs">30.00</text>
<text id="bx3" class="n" style="font-size:33.70px" x="1705.51" y="2651.00" textLength="136.47" lengthAdjust="spacingAndGlyphs">35.00</text>
<text id="bx4" class="n" style="font-size:33.70px" x="2163.26" y="2651.00" textLength="134.47" lengthAdjust="spacingAndGlyphs">40.00</text>
<rect x="604.1" y="1892.0" width="244.7" height="40.4" fill="#fff" stroke="#000" stroke-width="2"/><text id="bl0" class="n" style="font-size:37.00px" x="615.22" y="1928.50" textLength="226.61" lengthAdjust="spacingAndGlyphs">34.9626</text>
<rect x="1196.2" y="1892.0" width="211.5" height="40.4" fill="#fff" stroke="#000" stroke-width="2"/><text id="bl1" class="n" style="font-size:37.00px" x="1206.69" y="1928.50" textLength="193.04" lengthAdjust="spacingAndGlyphs">49.338</text>
<rect x="1465.7" y="2073.6" width="244.9" height="40.5" fill="#fff" stroke="#000" stroke-width="2"/><text id="bl2" class="n" style="font-size:37.00px" x="1476.95" y="2110.20" textLength="225.68" lengthAdjust="spacingAndGlyphs">63.7135</text>
<rect x="1703.5" y="2241.4" width="245.5" height="40.5" fill="#fff" stroke="#000" stroke-width="2"/><text id="bl3" class="n" style="font-size:37.00px" x="1714.75" y="2278.00" textLength="227.28" lengthAdjust="spacingAndGlyphs">78.0889</text>
<rect x="1922.4" y="2389.4" width="244.9" height="40.4" fill="#fff" stroke="#000" stroke-width="2"/><text id="bl4" class="n" style="font-size:37.00px" x="1933.52" y="2425.90" textLength="226.81" lengthAdjust="spacingAndGlyphs">92.4643</text>
<text id="bxt" class="t" style="font-size:50.00px" x="914.50" y="2770.50" textLength="883.80" lengthAdjust="spacingAndGlyphs">ultrasonic amplitude (%)</text>
<text id="byt" class="t" style="font-size:46px;stroke-width:.3px" transform="translate(105 2400.40) rotate(-90) scale(1.45 1)" x="-4.00 4.09 22.53 30.62 42.03 50.11 67.94 76.03 85.28 103.75 111.83 129.64 157.98 175.81 190.97 206.13 215.38 223.46 241.26 259.09 277.56 285.65 304.09 322.56 331.81 343.16 366.96 378.37 406.02" y="0">initial biomass loading (wt%)</text>
<text id="btag" class="t" style="font-size:49.00px" x="36.03" y="1512.10" textLength="78.44" lengthAdjust="spacingAndGlyphs">b)</text>
<g shape-rendering="crispEdges" transform="translate(367 2948.3) scale(46.45000 27.23000)">
<rect x="0" y="0" width="1" height="1" fill="#0096ff"/><rect x="1" y="0" width="1" height="1" fill="#009cff"/><rect x="2" y="0" width="1" height="1" fill="#00a2ff"/><rect x="3" y="0" width="1" height="1" fill="#00a8ff"/><rect x="4" y="0" width="1" height="1" fill="#00adff"/><rect x="5" y="0" width="1" height="1" fill="#00b3ff"/><rect x="6" y="0" width="1" height="1" fill="#00b9ff"/><rect x="7" y="0" width="1" height="1" fill="#00bfff"/><rect x="8" y="0" width="1" height="1" fill="#00c5ff"/><rect x="9" y="0" width="1" height="1" fill="#00caff"/><rect x="10" y="0" width="1" height="1" fill="#00d0ff"/><rect x="11" y="0" width="1" height="1" fill="#00d6ff"/><rect x="12" y="0" width="1" height="1" fill="#00dcff"/><rect x="13" y="0" width="1" height="1" fill="#00e2ff"/><rect x="14" y="0" width="1" height="1" fill="#00e7ff"/><rect x="15" y="0" width="1" height="1" fill="#00edff"/><rect x="16" y="0" width="1" height="1" fill="#00f3ff"/><rect x="17" y="0" width="1" height="1" fill="#00f9ff"/><rect x="18" y="0" width="1" height="1" fill="#00ffff"/><rect x="19" y="0" width="1" height="1" fill="#00fffa"/><rect x="20" y="0" width="1" height="1" fill="#00fff4"/><rect x="21" y="0" width="1" height="1" fill="#00ffee"/><rect x="22" y="0" width="1" height="1" fill="#00ffe8"/><rect x="23" y="0" width="1" height="1" fill="#00ffe2"/><rect x="24" y="0" width="1" height="1" fill="#00ffdc"/><rect x="25" y="0" width="1" height="1" fill="#00ffd7"/><rect x="26" y="0" width="1" height="1" fill="#00ffd1"/><rect x="27" y="0" width="1" height="1" fill="#00ffcb"/><rect x="28" y="0" width="1" height="1" fill="#00ffc5"/><rect x="29" y="0" width="1" height="1" fill="#00ffbf"/><rect x="30" y="0" width="1" height="1" fill="#00ffba"/><rect x="31" y="0" width="1" height="1" fill="#00ffb4"/><rect x="32" y="0" width="1" height="1" fill="#00ffae"/><rect x="33" y="0" width="1" height="1" fill="#00ffa8"/><rect x="34" y="0" width="1" height="1" fill="#00ffa2"/><rect x="35" y="0" width="1" height="1" fill="#00ff9d"/><rect x="36" y="0" width="1" height="1" fill="#00ff97"/><rect x="37" y="0" width="1" height="1" fill="#00ff91"/><rect x="38" y="0" width="1" height="1" fill="#00ff8b"/><rect x="39" y="0" width="1" height="1" fill="#00ff85"/>
<rect x="0" y="1" width="1" height="1" fill="#00adff"/><rect x="1" y="1" width="1" height="1" fill="#00b3ff"/><rect x="2" y="1" width="1" height="1" fill="#00b8ff"/><rect x="3" y="1" width="1" height="1" fill="#00beff"/><rect x="4" y="1" width="1" height="1" fill="#00c4ff"/><rect x="5" y="1" width="1" height="1" fill="#00caff"/><rect x="6" y="1" width="1" height="1" fill="#00cfff"/><rect x="7" y="1" width="1" height="1" fill="#00d5ff"/><rect x="8" y="1" width="1" height="1" fill="#00dbff"/><rect x="9" y="1" width="1" height="1" fill="#00e1ff"/><rect x="10" y="1" width="1" height="1" fill="#00e6ff"/><rect x="11" y="1" width="1" height="1" fill="#00ecff"/><rect x="12" y="1" width="1" height="1" fill="#00f2ff"/><rect x="13" y="1" width="1" height="1" fill="#00f8ff"/><rect x="14" y="1" width="1" height="1" fill="#00fdff"/><rect x="15" y="1" width="1" height="1" fill="#00fffb"/><rect x="16" y="1" width="1" height="1" fill="#00fff5"/><rect x="17" y="1" width="1" height="1" fill="#00ffef"/><rect x="18" y="1" width="1" height="1" fill="#00ffea"/><rect x="19" y="1" width="1" height="1" fill="#00ffe4"/><rect x="20" y="1" width="1" height="1" fill="#00ffde"/><rect x="21" y="1" width="1" height="1" fill="#00ffd8"/><rect x="22" y="1" width="1" height="1" fill="#00ffd2"/><rect x="23" y="1" width="1" height="1" fill="#00ffcd"/><rect x="24" y="1" width="1" height="1" fill="#00ffc7"/><rect x="25" y="1" width="1" height="1" fill="#00ffc1"/><rect x="26" y="1" width="1" height="1" fill="#00ffbb"/><rect x="27" y="1" width="1" height="1" fill="#00ffb6"/><rect x="28" y="1" width="1" height="1" fill="#00ffb0"/><rect x="29" y="1" width="1" height="1" fill="#00ffaa"/><rect x="30" y="1" width="1" height="1" fill="#00ffa4"/><rect x="31" y="1" width="1" height="1" fill="#00ff9f"/><rect x="32" y="1" width="1" height="1" fill="#00ff99"/><rect x="33" y="1" width="1" height="1" fill="#00ff93"/><rect x="34" y="1" width="1" height="1" fill="#00ff8d"/><rect x="35" y="1" width="1" height="1" fill="#00ff88"/><rect x="36" y="1" width="1" height="1" fill="#00ff82"/><rect x="37" y="1" width="1" height="1" fill="#00ff7c"/><rect x="38" y="1" width="1" height="1" fill="#00ff76"/><rect x="39" y="1" width="1" height="1" fill="#00ff71"/>
<rect x="0" y="2" width="1" height="1" fill="#00c3ff"/><rect x="1" y="2" width="1" height="1" fill="#00c9ff"/><rect x="2" y="2" width="1" height="1" fill="#00cfff"/><rect x="3" y="2" width="1" height="1" fill="#00d5ff"/><rect x="4" y="2" width="1" height="1" fill="#00daff"/><rect x="5" y="2" width="1" height="1" fill="#00e0ff"/><rect x="6" y="2" width="1" height="1" fill="#00e6ff"/><rect x="7" y="2" width="1" height="1" fill="#00ebff"/><rect x="8" y="2" width="1" height="1" fill="#00f1ff"/><rect x="9" y="2" width="1" height="1" fill="#00f7ff"/><rect x="10" y="2" width="1" height="1" fill="#00fdff"/><rect x="11" y="2" width="1" height="1" fill="#00fffc"/><rect x="12" y="2" width="1" height="1" fill="#00fff6"/><rect x="13" y="2" width="1" height="1" fill="#00fff0"/><rect x="14" y="2" width="1" height="1" fill="#00ffeb"/><rect x="15" y="2" width="1" height="1" fill="#00ffe5"/><rect x="16" y="2" width="1" height="1" fill="#00ffdf"/><rect x="17" y="2" width="1" height="1" fill="#00ffd9"/><rect x="18" y="2" width="1" height="1" fill="#00ffd4"/><rect x="19" y="2" width="1" height="1" fill="#00ffce"/><rect x="20" y="2" width="1" height="1" fill="#00ffc8"/><rect x="21" y="2" width="1" height="1" fill="#00ffc3"/><rect x="22" y="2" width="1" height="1" fill="#00ffbd"/><rect x="23" y="2" width="1" height="1" fill="#00ffb7"/><rect x="24" y="2" width="1" height="1" fill="#00ffb1"/><rect x="25" y="2" width="1" height="1" fill="#00ffac"/><rect x="26" y="2" width="1" height="1" fill="#00ffa6"/><rect x="27" y="2" width="1" height="1" fill="#00ffa0"/><rect x="28" y="2" width="1" height="1" fill="#00ff9b"/><rect x="29" y="2" width="1" height="1" fill="#00ff95"/><rect x="30" y="2" width="1" height="1" fill="#00ff8f"/><rect x="31" y="2" width="1" height="1" fill="#00ff89"/><rect x="32" y="2" width="1" height="1" fill="#00ff84"/><rect x="33" y="2" width="1" height="1" fill="#00ff7e"/><rect x="34" y="2" width="1" height="1" fill="#00ff78"/><rect x="35" y="2" width="1" height="1" fill="#00ff73"/><rect x="36" y="2" width="1" height="1" fill="#00ff6d"/><rect x="37" y="2" width="1" height="1" fill="#00ff67"/><rect x="38" y="2" width="1" height="1" fill="#00ff61"/><rect x="39" y="2" width="1" height="1" fill="#00ff5c"/>
<rect x="0" y="3" width="1" height="1" fill="#00daff"/><rect x="1" y="3" width="1" height="1" fill="#00e0ff"/><rect x="2" y="3" width="1" height="1" fill="#00e6ff"/><rect x="3" y="3" width="1" height="1" fill="#00ebff"/><rect x="4" y="3" width="1" height="1" fill="#00f1ff"/><rect x="5" y="3" width="1" height="1" fill="#00f6ff"/><rect x="6" y="3" width="1" height="1" fill="#00fcff"/><rect x="7" y="3" width="1" height="1" fill="#00fffc"/><rect x="8" y="3" width="1" height="1" fill="#00fff7"/><rect x="9" y="3" width="1" height="1" fill="#00fff1"/><rect x="10" y="3" width="1" height="1" fill="#00ffeb"/><rect x="11" y="3" width="1" height="1" fill="#00ffe6"/><rect x="12" y="3" width="1" height="1" fill="#00ffe0"/><rect x="13" y="3" width="1" height="1" fill="#00ffda"/><rect x="14" y="3" width="1" height="1" fill="#00ffd5"/><rect x="15" y="3" width="1" height="1" fill="#00ffcf"/><rect x="16" y="3" width="1" height="1" fill="#00ffc9"/><rect x="17" y="3" width="1" height="1" fill="#00ffc4"/><rect x="18" y="3" width="1" height="1" fill="#00ffbe"/><rect x="19" y="3" width="1" height="1" fill="#00ffb8"/><rect x="20" y="3" width="1" height="1" fill="#00ffb3"/><rect x="21" y="3" width="1" height="1" fill="#00ffad"/><rect x="22" y="3" width="1" height="1" fill="#00ffa7"/><rect x="23" y="3" width="1" height="1" fill="#00ffa2"/><rect x="24" y="3" width="1" height="1" fill="#00ff9c"/><rect x="25" y="3" width="1" height="1" fill="#00ff96"/><rect x="26" y="3" width="1" height="1" fill="#00ff91"/><rect x="27" y="3" width="1" height="1" fill="#00ff8b"/><rect x="28" y="3" width="1" height="1" fill="#00ff85"/><rect x="29" y="3" width="1" height="1" fill="#00ff80"/><rect x="30" y="3" width="1" height="1" fill="#00ff7a"/><rect x="31" y="3" width="1" height="1" fill="#00ff74"/><rect x="32" y="3" width="1" height="1" fill="#00ff6f"/><rect x="33" y="3" width="1" height="1" fill="#00ff69"/><rect x="34" y="3" width="1" height="1" fill="#00ff63"/><rect x="35" y="3" width="1" height="1" fill="#00ff5e"/><rect x="36" y="3" width="1" height="1" fill="#00ff58"/><rect x="37" y="3" width="1" height="1" fill="#00ff52"/><rect x="38" y="3" width="1" height="1" fill="#00ff4d"/><rect x="39" y="3" width="1" height="1" fill="#00ff47"/>
<rect x="0" y="4" width="1" height="1" fill="#00f1ff"/><rect x="1" y="4" width="1" height="1" fill="#00f7ff"/><rect x="2" y="4" width="1" height="1" fill="#00fcff"/><rect x="3" y="4" width="1" height="1" fill="#00fffc"/><rect x="4" y="4" width="1" height="1" fill="#00fff7"/><rect x="5" y="4" width="1" height="1" fill="#00fff1"/><rect x="6" y="4" width="1" height="1" fill="#00ffeb"/><rect x="7" y="4" width="1" height="1" fill="#00ffe6"/><rect x="8" y="4" width="1" height="1" fill="#00ffe0"/><rect x="9" y="4" width="1" height="1" fill="#00ffdb"/><rect x="10" y="4" width="1" height="1" fill="#00ffd5"/><rect x="11" y="4" width="1" height="1" fill="#00ffcf"/><rect x="12" y="4" width="1" height="1" fill="#00ffca"/><rect x="13" y="4" width="1" height="1" fill="#00ffc4"/><rect x="14" y="4" width="1" height="1" fill="#00ffbf"/><rect x="15" y="4" width="1" height="1" fill="#00ffb9"/><rect x="16" y="4" width="1" height="1" fill="#00ffb3"/><rect x="17" y="4" width="1" height="1" fill="#00ffae"/><rect x="18" y="4" width="1" height="1" fill="#00ffa8"/><rect x="19" y="4" width="1" height="1" fill="#00ffa2"/><rect x="20" y="4" width="1" height="1" fill="#00ff9d"/><rect x="21" y="4" width="1" height="1" fill="#00ff97"/><rect x="22" y="4" width="1" height="1" fill="#00ff92"/><rect x="23" y="4" width="1" height="1" fill="#00ff8c"/><rect x="24" y="4" width="1" height="1" fill="#00ff86"/><rect x="25" y="4" width="1" height="1" fill="#00ff81"/><rect x="26" y="4" width="1" height="1" fill="#00ff7b"/><rect x="27" y="4" width="1" height="1" fill="#00ff76"/><rect x="28" y="4" width="1" height="1" fill="#00ff70"/><rect x="29" y="4" width="1" height="1" fill="#00ff6a"/><rect x="30" y="4" width="1" height="1" fill="#00ff65"/><rect x="31" y="4" width="1" height="1" fill="#00ff5f"/><rect x="32" y="4" width="1" height="1" fill="#00ff5a"/><rect x="33" y="4" width="1" height="1" fill="#00ff54"/><rect x="34" y="4" width="1" height="1" fill="#00ff4e"/><rect x="35" y="4" width="1" height="1" fill="#00ff49"/><rect x="36" y="4" width="1" height="1" fill="#00ff43"/><rect x="37" y="4" width="1" height="1" fill="#00ff3d"/><rect x="38" y="4" width="1" height="1" fill="#00ff38"/><rect x="39" y="4" width="1" height="1" fill="#00ff32"/>
<rect x="0" y="5" width="1" height="1" fill="#00fff6"/><rect x="1" y="5" width="1" height="1" fill="#00fff1"/><rect x="2" y="5" width="1" height="1" fill="#00ffeb"/><rect x="3" y="5" width="1" height="1" fill="#00ffe6"/><rect x="4" y="5" width="1" height="1" fill="#00ffe0"/><rect x="5" y="5" width="1" height="1" fill="#00ffdb"/><rect x="6" y="5" width="1" height="1" fill="#00ffd5"/><rect x="7" y="5" width="1" height="1" fill="#00ffcf"/><rect x="8" y="5" width="1" height="1" fill="#00ffca"/><rect x="9" y="5" width="1" height="1" fill="#00ffc4"/><rect x="10" y="5" width="1" height="1" fill="#00ffbf"/><rect x="11" y="5" width="1" height="1" fill="#00ffb9"/><rect x="12" y="5" width="1" height="1" fill="#00ffb4"/><rect x="13" y="5" width="1" height="1" fill="#00ffae"/><rect x="14" y="5" width="1" height="1" fill="#00ffa9"/><rect x="15" y="5" width="1" height="1" fill="#00ffa3"/><rect x="16" y="5" width="1" height="1" fill="#00ff9d"/><rect x="17" y="5" width="1" height="1" fill="#00ff98"/><rect x="18" y="5" width="1" height="1" fill="#00ff92"/><rect x="19" y="5" width="1" height="1" fill="#00ff8d"/><rect x="20" y="5" width="1" height="1" fill="#00ff87"/><rect x="21" y="5" width="1" height="1" fill="#00ff82"/><rect x="22" y="5" width="1" height="1" fill="#00ff7c"/><rect x="23" y="5" width="1" height="1" fill="#00ff76"/><rect x="24" y="5" width="1" height="1" fill="#00ff71"/><rect x="25" y="5" width="1" height="1" fill="#00ff6b"/><rect x="26" y="5" width="1" height="1" fill="#00ff66"/><rect x="27" y="5" width="1" height="1" fill="#00ff60"/><rect x="28" y="5" width="1" height="1" fill="#00ff5b"/><rect x="29" y="5" width="1" height="1" fill="#00ff55"/><rect x="30" y="5" width="1" height="1" fill="#00ff50"/><rect x="31" y="5" width="1" height="1" fill="#00ff4a"/><rect x="32" y="5" width="1" height="1" fill="#00ff44"/><rect x="33" y="5" width="1" height="1" fill="#00ff3f"/><rect x="34" y="5" width="1" height="1" fill="#00ff39"/><rect x="35" y="5" width="1" height="1" fill="#00ff34"/><rect x="36" y="5" width="1" height="1" fill="#00ff2e"/><rect x="37" y="5" width="1" height="1" fill="#00ff29"/><rect x="38" y="5" width="1" height="1" fill="#00ff23"/><rect x="39" y="5" width="1" height="1" fill="#00ff1d"/>
<rect x="0" y="6" width="1" height="1" fill="#00ffe0"/><rect x="1" y="6" width="1" height="1" fill="#00ffda"/><rect x="2" y="6" width="1" height="1" fill="#00ffd5"/><rect x="3" y="6" width="1" height="1" fill="#00ffcf"/><rect x="4" y="6" width="1" height="1" fill="#00ffca"/><rect x="5" y="6" width="1" height="1" fill="#00ffc4"/><rect x="6" y="6" width="1" height="1" fill="#00ffbf"/><rect x="7" y="6" width="1" height="1" fill="#00ffb9"/><rect x="8" y="6" width="1" height="1" fill="#00ffb4"/><rect x="9" y="6" width="1" height="1" fill="#00ffae"/><rect x="10" y="6" width="1" height="1" fill="#00ffa9"/><rect x="11" y="6" width="1" height="1" fill="#00ffa3"/><rect x="12" y="6" width="1" height="1" fill="#00ff9e"/><rect x="13" y="6" width="1" height="1" fill="#00ff98"/><rect x="14" y="6" width="1" height="1" fill="#00ff93"/><rect x="15" y="6" width="1" height="1" fill="#00ff8d"/><rect x="16" y="6" width="1" height="1" fill="#00ff87"/><rect x="17" y="6" width="1" height="1" fill="#00ff82"/><rect x="18" y="6" width="1" height="1" fill="#00ff7c"/><rect x="19" y="6" width="1" height="1" fill="#00ff77"/><rect x="20" y="6" width="1" height="1" fill="#00ff71"/><rect x="21" y="6" width="1" height="1" fill="#00ff6c"/><rect x="22" y="6" width="1" height="1" fill="#00ff66"/><rect x="23" y="6" width="1" height="1" fill="#00ff61"/><rect x="24" y="6" width="1" height="1" fill="#00ff5b"/><rect x="25" y="6" width="1" height="1" fill="#00ff56"/><rect x="26" y="6" width="1" height="1" fill="#00ff50"/><rect x="27" y="6" width="1" height="1" fill="#00ff4b"/><rect x="28" y="6" width="1" height="1" fill="#00ff45"/><rect x="29" y="6" width="1" height="1" fill="#00ff40"/><rect x="30" y="6" width="1" height="1" fill="#00ff3a"/><rect x="31" y="6" width="1" height="1" fill="#00ff35"/><rect x="32" y="6" width="1" height="1" fill="#00ff2f"/><rect x="33" y="6" width="1" height="1" fill="#00ff2a"/><rect x="34" y="6" width="1" height="1" fill="#00ff24"/><rect x="35" y="6" width="1" height="1" fill="#00ff1f"/><rect x="36" y="6" width="1" height="1" fill="#00ff19"/><rect x="37" y="6" width="1" height="1" fill="#00ff14"/><rect x="38" y="6" width="1" height="1" fill="#00ff0e"/><rect x="39" y="6" width="1" height="1" fill="#00ff09"/>
<rect x="0" y="7" width="1" height="1" fill="#00ffc9"/><rect x="1" y="7" width="1" height="1" fill="#00ffc4"/><rect x="2" y="7" width="1" height="1" fill="#00ffbe"/><rect x="3" y="7" width="1" height="1" fill="#00ffb9"/><rect x="4" y="7" width="1" height="1" fill="#00ffb3"/><rect x="5" y="7" width="1" height="1" fill="#00ffae"/><rect x="6" y="7" width="1" height="1" fill="#00ffa8"/><rect x="7" y="7" width="1" height="1" fill="#00ffa3"/><rect x="8" y="7" width="1" height="1" fill="#00ff9d"/><rect x="9" y="7" width="1" height="1" fill="#00ff98"/><rect x="10" y="7" width="1" height="1" fill="#00ff92"/><rect x="11" y="7" width="1" height="1" fill="#00ff8d"/><rect x="12" y="7" width="1" height="1" fill="#00ff87"/><rect x="13" y="7" width="1" height="1" fill="#00ff82"/><rect x="14" y="7" width="1" height="1" fill="#00ff7d"/><rect x="15" y="7" width="1" height="1" fill="#00ff77"/><rect x="16" y="7" width="1" height="1" fill="#00ff72"/><rect x="17" y="7" width="1" height="1" fill="#00ff6c"/><rect x="18" y="7" width="1" height="1" fill="#00ff67"/><rect x="19" y="7" width="1" height="1" fill="#00ff61"/><rect x="20" y="7" width="1" height="1" fill="#00ff5c"/><rect x="21" y="7" width="1" height="1" fill="#00ff56"/><rect x="22" y="7" width="1" height="1" fill="#00ff51"/><rect x="23" y="7" width="1" height="1" fill="#00ff4b"/><rect x="24" y="7" width="1" height="1" fill="#00ff46"/><rect x="25" y="7" width="1" height="1" fill="#00ff40"/><rect x="26" y="7" width="1" height="1" fill="#00ff3b"/><rect x="27" y="7" width="1" height="1" fill="#00ff35"/><rect x="28" y="7" width="1" height="1" fill="#00ff30"/><rect x="29" y="7" width="1" height="1" fill="#00ff2b"/><rect x="30" y="7" width="1" height="1" fill="#00ff25"/><rect x="31" y="7" width="1" height="1" fill="#00ff20"/><rect x="32" y="7" width="1" height="1" fill="#00ff1a"/><rect x="33" y="7" width="1" height="1" fill="#00ff15"/><rect x="34" y="7" width="1" height="1" fill="#00ff0f"/><rect x="35" y="7" width="1" height="1" fill="#00ff0a"/><rect x="36" y="7" width="1" height="1" fill="#00ff04"/><rect x="37" y="7" width="1" height="1" fill="#01ff00"/><rect x="38" y="7" width="1" height="1" fill="#07ff00"/><rect x="39" y="7" width="1" height="1" fill="#0cff00"/>
<rect x="0" y="8" width="1" height="1" fill="#00ffb2"/><rect x="1" y="8" width="1" height="1" fill="#00ffad"/><rect x="2" y="8" width="1" height="1" fill="#00ffa7"/><rect x="3" y="8" width="1" height="1" fill="#00ffa2"/><rect x="4" y="8" width="1" height="1" fill="#00ff9d"/><rect x="5" y="8" width="1" height="1" fill="#00ff97"/><rect x="6" y="8" width="1" height="1" fill="#00ff92"/><rect x="7" y="8" width="1" height="1" fill="#00ff8c"/><rect x="8" y="8" width="1" height="1" fill="#00ff87"/><rect x="9" y="8" width="1" height="1" fill="#00ff82"/><rect x="10" y="8" width="1" height="1" fill="#00ff7c"/><rect x="11" y="8" width="1" height="1" fill="#00ff77"/><rect x="12" y="8" width="1" height="1" fill="#00ff71"/><rect x="13" y="8" width="1" height="1" fill="#00ff6c"/><rect x="14" y="8" width="1" height="1" fill="#00ff66"/><rect x="15" y="8" width="1" height="1" fill="#00ff61"/><rect x="16" y="8" width="1" height="1" fill="#00ff5c"/><rect x="17" y="8" width="1" height="1" fill="#00ff56"/><rect x="18" y="8" width="1" height="1" fill="#00ff51"/><rect x="19" y="8" width="1" height="1" fill="#00ff4b"/><rect x="20" y="8" width="1" height="1" fill="#00ff46"/><rect x="21" y="8" width="1" height="1" fill="#00ff41"/><rect x="22" y="8" width="1" height="1" fill="#00ff3b"/><rect x="23" y="8" width="1" height="1" fill="#00ff36"/><rect x="24" y="8" width="1" height="1" fill="#00ff30"/><rect x="25" y="8" width="1" height="1" fill="#00ff2b"/><rect x="26" y="8" width="1" height="1" fill="#00ff26"/><rect x="27" y="8" width="1" height="1" fill="#00ff20"/><rect x="28" y="8" width="1" height="1" fill="#00ff1b"/><rect x="29" y="8" width="1" height="1" fill="#00ff15"/><rect x="30" y="8" width="1" height="1" fill="#00ff10"/><rect x="31" y="8" width="1" height="1" fill="#00ff0a"/><rect x="32" y="8" width="1" height="1" fill="#00ff05"/><rect x="33" y="8" width="1" height="1" fill="#00ff00"/><rect x="34" y="8" width="1" height="1" fill="#06ff00"/><rect x="35" y="8" width="1" height="1" fill="#0bff00"/><rect x="36" y="8" width="1" height="1" fill="#11ff00"/><rect x="37" y="8" width="1" height="1" fill="#16ff00"/><rect x="38" y="8" width="1" height="1" fill="#1bff00"/><rect x="39" y="8" width="1" height="1" fill="#21ff00"/>
<rect x="0" y="9" width="1" height="1" fill="#00ff9c"/><rect x="1" y="9" width="1" height="1" fill="#00ff96"/><rect x="2" y="9" width="1" height="1" fill="#00ff91"/><rect x="3" y="9" width="1" height="1" fill="#00ff8c"/><rect x="4" y="9" width="1" height="1" fill="#00ff86"/><rect x="5" y="9" width="1" height="1" fill="#00ff81"/><rect x="6" y="9" width="1" height="1" fill="#00ff7b"/><rect x="7" y="9" width="1" height="1" fill="#00ff76"/><rect x="8" y="9" width="1" height="1" fill="#00ff71"/><rect x="9" y="9" width="1" height="1" fill="#00ff6b"/><rect x="10" y="9" width="1" height="1" fill="#00ff66"/><rect x="11" y="9" width="1" height="1" fill="#00ff61"/><rect x="12" y="9" width="1" height="1" fill="#00ff5b"/><rect x="13" y="9" width="1" height="1" fill="#00ff56"/><rect x="14" y="9" width="1" height="1" fill="#00ff50"/><rect x="15" y="9" width="1" height="1" fill="#00ff4b"/><rect x="16" y="9" width="1" height="1" fill="#00ff46"/><rect x="17" y="9" width="1" height="1" fill="#00ff40"/><rect x="18" y="9" width="1" height="1" fill="#00ff3b"/><rect x="19" y="9" width="1" height="1" fill="#00ff36"/><rect x="20" y="9" width="1" height="1" fill="#00ff30"/><rect x="21" y="9" width="1" height="1" fill="#00ff2b"/><rect x="22" y="9" width="1" height="1" fill="#00ff26"/><rect x="23" y="9" width="1" height="1" fill="#00ff20"/><rect x="24" y="9" width="1" height="1" fill="#00ff1b"/><rect x="25" y="9" width="1" height="1" fill="#00ff15"/><rect x="26" y="9" width="1" height="1" fill="#00ff10"/><rect x="27" y="9" width="1" height="1" fill="#00ff0b"/><rect x="28" y="9" width="1" height="1" fill="#00ff05"/><rect x="29" y="9" width="1" height="1" fill="#00ff00"/><rect x="30" y="9" width="1" height="1" fill="#05ff00"/><rect x="31" y="9" width="1" height="1" fill="#0bff00"/><rect x="32" y="9" width="1" height="1" fill="#10ff00"/><rect x="33" y="9" width="1" height="1" fill="#15ff00"/><rect x="34" y="9" width="1" height="1" fill="#1bff00"/><rect x="35" y="9" width="1" height="1" fill="#20ff00"/><rect x="36" y="9" width="1" height="1" fill="#26ff00"/><rect x="37" y="9" width="1" height="1" fill="#2bff00"/><rect x="38" y="9" width="1" height="1" fill="#30ff00"/><rect x="39" y="9" width="1" height="1" fill="#36ff00"/>
<rect x="0" y="10" width="1" height="1" fill="#00ff85"/><rect x="1" y="10" width="1" height="1" fill="#00ff80"/><rect x="2" y="10" width="1" height="1" fill="#00ff7a"/><rect x="3" y="10" width="1" height="1" fill="#00ff75"/><rect x="4" y="10" width="1" height="1" fill="#00ff70"/><rect x="5" y="10" width="1" height="1" fill="#00ff6a"/><rect x="6" y="10" width="1" height="1" fill="#00ff65"/><rect x="7" y="10" width="1" height="1" fill="#00ff60"/><rect x="8" y="10" width="1" height="1" fill="#00ff5a"/><rect x="9" y="10" width="1" height="1" fill="#00ff55"/><rect x="10" y="10" width="1" height="1" fill="#00ff50"/><rect x="11" y="10" width="1" height="1" fill="#00ff4a"/><rect x="12" y="10" width="1" height="1" fill="#00ff45"/><rect x="13" y="10" width="1" height="1" fill="#00ff40"/><rect x="14" y="10" width="1" height="1" fill="#00ff3a"/><rect x="15" y="10" width="1" height="1" fill="#00ff35"/><rect x="16" y="10" width="1" height="1" fill="#00ff30"/><rect x="17" y="10" width="1" height="1" fill="#00ff2b"/><rect x="18" y="10" width="1" height="1" fill="#00ff25"/><rect x="19" y="10" width="1" height="1" fill="#00ff20"/><rect x="20" y="10" width="1" height="1" fill="#00ff1b"/><rect x="21" y="10" width="1" height="1" fill="#00ff15"/><rect x="22" y="10" width="1" height="1" fill="#00ff10"/><rect x="23" y="10" width="1" height="1" fill="#00ff0b"/><rect x="24" y="10" width="1" height="1" fill="#00ff05"/><rect x="25" y="10" width="1" height="1" fill="#00ff00"/><rect x="26" y="10" width="1" height="1" fill="#05ff00"/><rect x="27" y="10" width="1" height="1" fill="#0bff00"/><rect x="28" y="10" width="1" height="1" fill="#10ff00"/><rect x="29" y="10" width="1" height="1" fill="#15ff00"/><rect x="30" y="10" width="1" height="1" fill="#1bff00"/><rect x="31" y="10" width="1" height="1" fill="#20ff00"/><rect x="32" y="10" width="1" height="1" fill="#25ff00"/><rect x="33" y="10" width="1" height="1" fill="#2bff00"/><rect x="34" y="10" width="1" height="1" fill="#30ff00"/><rect x="35" y="10" width="1" height="1" fill="#35ff00"/><rect x="36" y="10" width="1" height="1" fill="#3bff00"/><rect x="37" y="10" width="1" height="1" fill="#40ff00"/><rect x="38" y="10" width="1" height="1" fill="#45ff00"/><rect x="39" y="10" width="1" height="1" fill="#4aff00"/>
<rect x="0" y="11" width="1" height="1" fill="#00ff6e"/><rect x="1" y="11" width="1" height="1" fill="#00ff69"/><rect x="2" y="11" width="1" height="1" fill="#00ff64"/><rect x="3" y="11" width="1" height="1" fill="#00ff5e"/><rect x="4" y="11" width="1" height="1" fill="#00ff59"/><rect x="5" y="11" width="1" height="1" fill="#00ff54"/><rect x="6" y="11" width="1" height="1" fill="#00ff4f"/><rect x="7" y="11" width="1" height="1" fill="#00ff49"/><rect x="8" y="11" width="1" height="1" fill="#00ff44"/><rect x="9" y="11" width="1" height="1" fill="#00ff3f"/><rect x="10" y="11" width="1" height="1" fill="#00ff3a"/><rect x="11" y="11" width="1" height="1" fill="#00ff34"/><rect x="12" y="11" width="1" height="1" fill="#00ff2f"/><rect x="13" y="11" width="1" height="1" fill="#00ff2a"/><rect x="14" y="11" width="1" height="1" fill="#00ff24"/><rect x="15" y="11" width="1" height="1" fill="#00ff1f"/><rect x="16" y="11" width="1" height="1" fill="#00ff1a"/><rect x="17" y="11" width="1" height="1" fill="#00ff15"/><rect x="18" y="11" width="1" height="1" fill="#00ff0f"/><rect x="19" y="11" width="1" height="1" fill="#00ff0a"/><rect x="20" y="11" width="1" height="1" fill="#00ff05"/><rect x="21" y="11" width="1" height="1" fill="#00ff00"/><rect x="22" y="11" width="1" height="1" fill="#06ff00"/><rect x="23" y="11" width="1" height="1" fill="#0bff00"/><rect x="24" y="11" width="1" height="1" fill="#10ff00"/><rect x="25" y="11" width="1" height="1" fill="#15ff00"/><rect x="26" y="11" width="1" height="1" fill="#1bff00"/><rect x="27" y="11" width="1" height="1" fill="#20ff00"/><rect x="28" y="11" width="1" height="1" fill="#25ff00"/><rect x="29" y="11" width="1" height="1" fill="#2bff00"/><rect x="30" y="11" width="1" height="1" fill="#30ff00"/><rect x="31" y="11" width="1" height="1" fill="#35ff00"/><rect x="32" y="11" width="1" height="1" fill="#3aff00"/><rect x="33" y="11" width="1" height="1" fill="#40ff00"/><rect x="34" y="11" width="1" height="1" fill="#45ff00"/><rect x="35" y="11" width="1" height="1" fill="#4aff00"/><rect x="36" y="11" width="1" height="1" fill="#4fff00"/><rect x="37" y="11" width="1" height="1" fill="#55ff00"/><rect x="38" y="11" width="1" height="1" fill="#5aff00"/><rect x="39" y="11" width="1" height="1" fill="#5fff00"/>
<rect x="0" y="12" width="1" height="1" fill="#00ff58"/><rect x="1" y="12" width="1" height="1" fill="#00ff52"/><rect x="2" y="12" width="1" height="1" fill="#00ff4d"/><rect x="3" y="12" width="1" height="1" fill="#00ff48"/><rect x="4" y="12" width="1" height="1" fill="#00ff43"/><rect x="5" y="12" width="1" height="1" fill="#00ff3d"/><rect x="6" y="12" width="1" height="1" fill="#00ff38"/><rect x="7" y="12" width="1" height="1" fill="#00ff33"/><rect x="8" y="12" width="1" height="1" fill="#00ff2e"/><rect x="9" y="12" width="1" height="1" fill="#00ff29"/><rect x="10" y="12" width="1" height="1" fill="#00ff23"/><rect x="11" y="12" width="1" height="1" fill="#00ff1e"/><rect x="12" y="12" width="1" height="1" fill="#00ff19"/><rect x="13" y="12" width="1" height="1" fill="#00ff14"/><rect x="14" y="12" width="1" height="1" fill="#00ff0e"/><rect x="15" y="12" width="1" height="1" fill="#00ff09"/><rect x="16" y="12" width="1" height="1" fill="#00ff04"/><rect x="17" y="12" width="1" height="1" fill="#01ff00"/><rect x="18" y="12" width="1" height="1" fill="#06ff00"/><rect x="19" y="12" width="1" height="1" fill="#0cff00"/><rect x="20" y="12" width="1" height="1" fill="#11ff00"/><rect x="21" y="12" width="1" height="1" fill="#16ff00"/><rect x="22" y="12" width="1" height="1" fill="#1bff00"/><rect x="23" y="12" width="1" height="1" fill="#21ff00"/><rect x="24" y="12" width="1" height="1" fill="#26ff00"/><rect x="25" y="12" width="1" height="1" fill="#2bff00"/><rect x="26" y="12" width="1" height="1" fill="#30ff00"/><rect x="27" y="12" width="1" height="1" fill="#35ff00"/><rect x="28" y="12" width="1" height="1" fill="#3bff00"/><rect x="29" y="12" width="1" height="1" fill="#40ff00"/><rect x="30" y="12" width="1" height="1" fill="#45ff00"/><rect x="31" y="12" width="1" height="1" fill="#4aff00"/><rect x="32" y="12" width="1" height="1" fill="#4fff00"/><rect x="33" y="12" width="1" height="1" fill="#55ff00"/><rect x="34" y="12" width="1" height="1" fill="#5aff00"/><rect x="35" y="12" width="1" height="1" fill="#5fff00"/><rect x="36" y="12" width="1" height="1" fill="#64ff00"/><rect x="37" y="12" width="1" height="1" fill="#6aff00"/><rect x="38" y="12" width="1" height="1" fill="#6fff00"/><rect x="39" y="12" width="1" height="1" fill="#74ff00"/>
<rect x="0" y="13" width="1" height="1" fill="#00ff41"/><rect x="1" y="13" width="1" height="1" fill="#00ff3c"/><rect x="2" y="13" width="1" height="1" fill="#00ff36"/><rect x="3" y="13" width="1" height="1" fill="#00ff31"/><rect x="4" y="13" width="1" height="1" fill="#00ff2c"/><rect x="5" y="13" width="1" height="1" fill="#00ff27"/><rect x="6" y="13" width="1" height="1" fill="#00ff22"/><rect x="7" y="13" width="1" height="1" fill="#00ff1d"/><rect x="8" y="13" width="1" height="1" fill="#00ff17"/><rect x="9" y="13" width="1" height="1" fill="#00ff12"/><rect x="10" y="13" width="1" height="1" fill="#00ff0d"/><rect x="11" y="13" width="1" height="1" fill="#00ff08"/><rect x="12" y="13" width="1" height="1" fill="#00ff03"/><rect x="13" y="13" width="1" height="1" fill="#02ff00"/><rect x="14" y="13" width="1" height="1" fill="#08ff00"/><rect x="15" y="13" width="1" height="1" fill="#0dff00"/><rect x="16" y="13" width="1" height="1" fill="#12ff00"/><rect x="17" y="13" width="1" height="1" fill="#17ff00"/><rect x="18" y="13" width="1" height="1" fill="#1cff00"/><rect x="19" y="13" width="1" height="1" fill="#21ff00"/><rect x="20" y="13" width="1" height="1" fill="#27ff00"/><rect x="21" y="13" width="1" height="1" fill="#2cff00"/><rect x="22" y="13" width="1" height="1" fill="#31ff00"/><rect x="23" y="13" width="1" height="1" fill="#36ff00"/><rect x="24" y="13" width="1" height="1" fill="#3bff00"/><rect x="25" y="13" width="1" height="1" fill="#40ff00"/><rect x="26" y="13" width="1" height="1" fill="#46ff00"/><rect x="27" y="13" width="1" height="1" fill="#4bff00"/><rect x="28" y="13" width="1" height="1" fill="#50ff00"/><rect x="29" y="13" width="1" height="1" fill="#55ff00"/><rect x="30" y="13" width="1" height="1" fill="#5aff00"/><rect x="31" y="13" width="1" height="1" fill="#5fff00"/><rect x="32" y="13" width="1" height="1" fill="#65ff00"/><rect x="33" y="13" width="1" height="1" fill="#6aff00"/><rect x="34" y="13" width="1" height="1" fill="#6fff00"/><rect x="35" y="13" width="1" height="1" fill="#74ff00"/><rect x="36" y="13" width="1" height="1" fill="#79ff00"/><rect x="37" y="13" width="1" height="1" fill="#7eff00"/><rect x="38" y="13" width="1" height="1" fill="#84ff00"/><rect x="39" y="13" width="1" height="1" fill="#89ff00"/>
<rect x="0" y="14" width="1" height="1" fill="#00ff2a"/><rect x="1" y="14" width="1" height="1" fill="#00ff25"/><rect x="2" y="14" width="1" height="1" fill="#00ff20"/><rect x="3" y="14" width="1" height="1" fill="#00ff1b"/><rect x="4" y="14" width="1" height="1" fill="#00ff16"/><rect x="5" y="14" width="1" height="1" fill="#00ff11"/><rect x="6" y="14" width="1" height="1" fill="#00ff0b"/><rect x="7" y="14" width="1" height="1" fill="#00ff06"/><rect x="8" y="14" width="1" height="1" fill="#00ff01"/><rect x="9" y="14" width="1" height="1" fill="#04ff00"/><rect x="10" y="14" width="1" height="1" fill="#09ff00"/><rect x="11" y="14" width="1" height="1" fill="#0eff00"/><rect x="12" y="14" width="1" height="1" fill="#13ff00"/><rect x="13" y="14" width="1" height="1" fill="#18ff00"/><rect x="14" y="14" width="1" height="1" fill="#1eff00"/><rect x="15" y="14" width="1" height="1" fill="#23ff00"/><rect x="16" y="14" width="1" height="1" fill="#28ff00"/><rect x="17" y="14" width="1" height="1" fill="#2dff00"/><rect x="18" y="14" width="1" height="1" fill="#32ff00"/><rect x="19" y="14" width="1" height="1" fill="#37ff00"/><rect x="20" y="14" width="1" height="1" fill="#3cff00"/><rect x="21" y="14" width="1" height="1" fill="#41ff00"/><rect x="22" y="14" width="1" height="1" fill="#47ff00"/><rect x="23" y="14" width="1" height="1" fill="#4cff00"/><rect x="24" y="14" width="1" height="1" fill="#51ff00"/><rect x="25" y="14" width="1" height="1" fill="#56ff00"/><rect x="26" y="14" width="1" height="1" fill="#5bff00"/><rect x="27" y="14" width="1" height="1" fill="#60ff00"/><rect x="28" y="14" width="1" height="1" fill="#65ff00"/><rect x="29" y="14" width="1" height="1" fill="#6aff00"/><rect x="30" y="14" width="1" height="1" fill="#6fff00"/><rect x="31" y="14" width="1" height="1" fill="#75ff00"/><rect x="32" y="14" width="1" height="1" fill="#7aff00"/><rect x="33" y="14" width="1" height="1" fill="#7fff00"/><rect x="34" y="14" width="1" height="1" fill="#84ff00"/><rect x="35" y="14" width="1" height="1" fill="#89ff00"/><rect x="36" y="14" width="1" height="1" fill="#8eff00"/><rect x="37" y="14" width="1" height="1" fill="#93ff00"/><rect x="38" y="14" width="1" height="1" fill="#98ff00"/><rect x="39" y="14" width="1" height="1" fill="#9eff00"/>
<rect x="0" y="15" width="1" height="1" fill="#00ff13"/><rect x="1" y="15" width="1" height="1" fill="#00ff0e"/><rect x="2" y="15" width="1" height="1" fill="#00ff09"/><rect x="3" y="15" width="1" height="1" fill="#00ff04"/><rect x="4" y="15" width="1" height="1" fill="#01ff00"/><rect x="5" y="15" width="1" height="1" fill="#06ff00"/><rect x="6" y="15" width="1" height="1" fill="#0bff00"/><rect x="7" y="15" width="1" height="1" fill="#10ff00"/><rect x="8" y="15" width="1" height="1" fill="#15ff00"/><rect x="9" y="15" width="1" height="1" fill="#1aff00"/><rect x="10" y="15" width="1" height="1" fill="#1fff00"/><rect x="11" y="15" width="1" height="1" fill="#24ff00"/><rect x="12" y="15" width="1" height="1" fill="#29ff00"/><rect x="13" y="15" width="1" height="1" fill="#2eff00"/><rect x="14" y="15" width="1" height="1" fill="#34ff00"/><rect x="15" y="15" width="1" height="1" fill="#39ff00"/><rect x="16" y="15" width="1" height="1" fill="#3eff00"/><rect x="17" y="15" width="1" height="1" fill="#43ff00"/><rect x="18" y="15" width="1" height="1" fill="#48ff00"/><rect x="19" y="15" width="1" height="1" fill="#4dff00"/><rect x="20" y="15" width="1" height="1" fill="#52ff00"/><rect x="21" y="15" width="1" height="1" fill="#57ff00"/><rect x="22" y="15" width="1" height="1" fill="#5cff00"/><rect x="23" y="15" width="1" height="1" fill="#61ff00"/><rect x="24" y="15" width="1" height="1" fill="#66ff00"/><rect x="25" y="15" width="1" height="1" fill="#6bff00"/><rect x="26" y="15" width="1" height="1" fill="#70ff00"/><rect x="27" y="15" width="1" height="1" fill="#75ff00"/><rect x="28" y="15" width="1" height="1" fill="#7bff00"/><rect x="29" y="15" width="1" height="1" fill="#80ff00"/><rect x="30" y="15" width="1" height="1" fill="#85ff00"/><rect x="31" y="15" width="1" height="1" fill="#8aff00"/><rect x="32" y="15" width="1" height="1" fill="#8fff00"/><rect x="33" y="15" width="1" height="1" fill="#94ff00"/><rect x="34" y="15" width="1" height="1" fill="#99ff00"/><rect x="35" y="15" width="1" height="1" fill="#9eff00"/><rect x="36" y="15" width="1" height="1" fill="#a3ff00"/><rect x="37" y="15" width="1" height="1" fill="#a8ff00"/><rect x="38" y="15" width="1" height="1" fill="#adff00"/><rect x="39" y="15" width="1" height="1" fill="#b2ff00"/>
<rect x="0" y="16" width="1" height="1" fill="#03ff00"/><rect x="1" y="16" width="1" height="1" fill="#08ff00"/><rect x="2" y="16" width="1" height="1" fill="#0dff00"/><rect x="3" y="16" width="1" height="1" fill="#12ff00"/><rect x="4" y="16" width="1" height="1" fill="#17ff00"/><rect x="5" y="16" width="1" height="1" fill="#1cff00"/><rect x="6" y="16" width="1" height="1" fill="#21ff00"/><rect x="7" y="16" width="1" height="1" fill="#26ff00"/><rect x="8" y="16" width="1" height="1" fill="#2bff00"/><rect x="9" y="16" width="1" height="1" fill="#30ff00"/><rect x="10" y="16" width="1" height="1" fill="#35ff00"/><rect x="11" y="16" width="1" height="1" fill="#3bff00"/><rect x="12" y="16" width="1" height="1" fill="#40ff00"/><rect x="13" y="16" width="1" height="1" fill="#45ff00"/><rect x="14" y="16" width="1" height="1" fill="#4aff00"/><rect x="15" y="16" width="1" height="1" fill="#4fff00"/><rect x="16" y="16" width="1" height="1" fill="#54ff00"/><rect x="17" y="16" width="1" height="1" fill="#59ff00"/><rect x="18" y="16" width="1" height="1" fill="#5eff00"/><rect x="19" y="16" width="1" height="1" fill="#63ff00"/><rect x="20" y="16" width="1" height="1" fill="#68ff00"/><rect x="21" y="16" width="1" height="1" fill="#6dff00"/><rect x="22" y="16" width="1" height="1" fill="#72ff00"/><rect x="23" y="16" width="1" height="1" fill="#77ff00"/><rect x="24" y="16" width="1" height="1" fill="#7cff00"/><rect x="25" y="16" width="1" height="1" fill="#81ff00"/><rect x="26" y="16" width="1" height="1" fill="#86ff00"/><rect x="27" y="16" width="1" height="1" fill="#8bff00"/><rect x="28" y="16" width="1" height="1" fill="#90ff00"/><rect x="29" y="16" width="1" height="1" fill="#95ff00"/><rect x="30" y="16" width="1" height="1" fill="#9aff00"/><rect x="31" y="16" width="1" height="1" fill="#9fff00"/><rect x="32" y="16" width="1" height="1" fill="#a4ff00"/><rect x="33" y="16" width="1" height="1" fill="#a9ff00"/><rect x="34" y="16" width="1" height="1" fill="#aeff00"/><rect x="35" y="16" width="1" height="1" fill="#b3ff00"/><rect x="36" y="16" width="1" height="1" fill="#b8ff00"/><rect x="37" y="16" width="1" height="1" fill="#bdff00"/><rect x="38" y="16" width="1" height="1" fill="#c2ff00"/><rect x="39" y="16" width="1" height="1" fill="#c7ff00"/>
<rect x="0" y="17" width="1" height="1" fill="#1aff00"/><rect x="1" y="17" width="1" height="1" fill="#1fff00"/><rect x="2" y="17" width="1" height="1" fill="#24ff00"/><rect x="3" y="17" width="1" height="1" fill="#29ff00"/><rect x="4" y="17" width="1" height="1" fill="#2eff00"/><rect x="5" y="17" width="1" height="1" fill="#33ff00"/><rect x="6" y="17" width="1" height="1" fill="#38ff00"/><rect x="7" y="17" width="1" height="1" fill="#3dff00"/><rect x="8" y="17" width="1" height="1" fill="#42ff00"/><rect x="9" y="17" width="1" height="1" fill="#47ff00"/><rect x="10" y="17" width="1" height="1" fill="#4cff00"/><rect x="11" y="17" width="1" height="1" fill="#51ff00"/><rect x="12" y="17" width="1" height="1" fill="#56ff00"/><rect x="13" y="17" width="1" height="1" fill="#5bff00"/><rect x="14" y="17" width="1" height="1" fill="#60ff00"/><rect x="15" y="17" width="1" height="1" fill="#65ff00"/><rect x="16" y="17" width="1" height="1" fill="#6aff00"/><rect x="17" y="17" width="1" height="1" fill="#6fff00"/><rect x="18" y="17" width="1" height="1" fill="#73ff00"/><rect x="19" y="17" width="1" height="1" fill="#78ff00"/><rect x="20" y="17" width="1" height="1" fill="#7dff00"/><rect x="21" y="17" width="1" height="1" fill="#82ff00"/><rect x="22" y="17" width="1" height="1" fill="#87ff00"/><rect x="23" y="17" width="1" height="1" fill="#8cff00"/><rect x="24" y="17" width="1" height="1" fill="#91ff00"/><rect x="25" y="17" width="1" height="1" fill="#96ff00"/><rect x="26" y="17" width="1" height="1" fill="#9bff00"/><rect x="27" y="17" width="1" height="1" fill="#a0ff00"/><rect x="28" y="17" width="1" height="1" fill="#a5ff00"/><rect x="29" y="17" width="1" height="1" fill="#aaff00"/><rect x="30" y="17" width="1" height="1" fill="#afff00"/><rect x="31" y="17" width="1" height="1" fill="#b4ff00"/><rect x="32" y="17" width="1" height="1" fill="#b9ff00"/><rect x="33" y="17" width="1" height="1" fill="#beff00"/><rect x="34" y="17" width="1" height="1" fill="#c3ff00"/><rect x="35" y="17" width="1" height="1" fill="#c8ff00"/><rect x="36" y="17" width="1" height="1" fill="#cdff00"/><rect x="37" y="17" width="1" height="1" fill="#d2ff00"/><rect x="38" y="17" width="1" height="1" fill="#d7ff00"/><rect x="39" y="17" width="1" height="1" fill="#dcff00"/>
<rect x="0" y="18" width="1" height="1" fill="#31ff00"/><rect x="1" y="18" width="1" height="1" fill="#36ff00"/><rect x="2" y="18" width="1" height="1" fill="#3bff00"/><rect x="3" y="18" width="1" height="1" fill="#3fff00"/><rect x="4" y="18" width="1" height="1" fill="#44ff00"/><rect x="5" y="18" width="1" height="1" fill="#49ff00"/><rect x="6" y="18" width="1" height="1" fill="#4eff00"/><rect x="7" y="18" width="1" height="1" fill="#53ff00"/><rect x="8" y="18" width="1" height="1" fill="#58ff00"/><rect x="9" y="18" width="1" height="1" fill="#5dff00"/><rect x="10" y="18" width="1" height="1" fill="#62ff00"/><rect x="11" y="18" width="1" height="1" fill="#67ff00"/><rect x="12" y="18" width="1" height="1" fill="#6cff00"/><rect x="13" y="18" width="1" height="1" fill="#71ff00"/><rect x="14" y="18" width="1" height="1" fill="#76ff00"/><rect x="15" y="18" width="1" height="1" fill="#7bff00"/><rect x="16" y="18" width="1" height="1" fill="#7fff00"/><rect x="17" y="18" width="1" height="1" fill="#84ff00"/><rect x="18" y="18" width="1" height="1" fill="#89ff00"/><rect x="19" y="18" width="1" height="1" fill="#8eff00"/><rect x="20" y="18" width="1" height="1" fill="#93ff00"/><rect x="21" y="18" width="1" height="1" fill="#98ff00"/><rect x="22" y="18" width="1" height="1" fill="#9dff00"/><rect x="23" y="18" width="1" height="1" fill="#a2ff00"/><rect x="24" y="18" width="1" height="1" fill="#a7ff00"/><rect x="25" y="18" width="1" height="1" fill="#acff00"/><rect x="26" y="18" width="1" height="1" fill="#b1ff00"/><rect x="27" y="18" width="1" height="1" fill="#b6ff00"/><rect x="28" y="18" width="1" height="1" fill="#bbff00"/><rect x="29" y="18" width="1" height="1" fill="#bfff00"/><rect x="30" y="18" width="1" height="1" fill="#c4ff00"/><rect x="31" y="18" width="1" height="1" fill="#c9ff00"/><rect x="32" y="18" width="1" height="1" fill="#ceff00"/><rect x="33" y="18" width="1" height="1" fill="#d3ff00"/><rect x="34" y="18" width="1" height="1" fill="#d8ff00"/><rect x="35" y="18" width="1" height="1" fill="#ddff00"/><rect x="36" y="18" width="1" height="1" fill="#e2ff00"/><rect x="37" y="18" width="1" height="1" fill="#e7ff00"/><rect x="38" y="18" width="1" height="1" fill="#ecff00"/><rect x="39" y="18" width="1" height="1" fill="#f1ff00"/>
<rect x="0" y="19" width="1" height="1" fill="#47ff00"/><rect x="1" y="19" width="1" height="1" fill="#4cff00"/><rect x="2" y="19" width="1" height="1" fill="#51ff00"/><rect x="3" y="19" width="1" height="1" fill="#56ff00"/><rect x="4" y="19" width="1" height="1" fill="#5bff00"/><rect x="5" y="19" width="1" height="1" fill="#60ff00"/><rect x="6" y="19" width="1" height="1" fill="#65ff00"/><rect x="7" y="19" width="1" height="1" fill="#69ff00"/><rect x="8" y="19" width="1" height="1" fill="#6eff00"/><rect x="9" y="19" width="1" height="1" fill="#73ff00"/><rect x="10" y="19" width="1" height="1" fill="#78ff00"/><rect x="11" y="19" width="1" height="1" fill="#7dff00"/><rect x="12" y="19" width="1" height="1" fill="#82ff00"/><rect x="13" y="19" width="1" height="1" fill="#87ff00"/><rect x="14" y="19" width="1" height="1" fill="#8cff00"/><rect x="15" y="19" width="1" height="1" fill="#90ff00"/><rect x="16" y="19" width="1" height="1" fill="#95ff00"/><rect x="17" y="19" width="1" height="1" fill="#9aff00"/><rect x="18" y="19" width="1" height="1" fill="#9fff00"/><rect x="19" y="19" width="1" height="1" fill="#a4ff00"/><rect x="20" y="19" width="1" height="1" fill="#a9ff00"/><rect x="21" y="19" width="1" height="1" fill="#aeff00"/><rect x="22" y="19" width="1" height="1" fill="#b3ff00"/><rect x="23" y="19" width="1" height="1" fill="#b7ff00"/><rect x="24" y="19" width="1" height="1" fill="#bcff00"/><rect x="25" y="19" width="1" height="1" fill="#c1ff00"/><rect x="26" y="19" width="1" height="1" fill="#c6ff00"/><rect x="27" y="19" width="1" height="1" fill="#cbff00"/><rect x="28" y="19" width="1" height="1" fill="#d0ff00"/><rect x="29" y="19" width="1" height="1" fill="#d5ff00"/><rect x="30" y="19" width="1" height="1" fill="#daff00"/><rect x="31" y="19" width="1" height="1" fill="#deff00"/><rect x="32" y="19" width="1" height="1" fill="#e3ff00"/><rect x="33" y="19" width="1" height="1" fill="#e8ff00"/><rect x="34" y="19" width="1" height="1" fill="#edff00"/><rect x="35" y="19" width="1" height="1" fill="#f2ff00"/><rect x="36" y="19" width="1" height="1" fill="#f7ff00"/><rect x="37" y="19" width="1" height="1" fill="#fcff00"/><rect x="38" y="19" width="1" height="1" fill="#fffd00"/><rect x="39" y="19" width="1" height="1" fill="#fff900"/>
<rect x="0" y="20" width="1" height="1" fill="#5eff00"/><rect x="1" y="20" width="1" height="1" fill="#63ff00"/><rect x="2" y="20" width="1" height="1" fill="#68ff00"/><rect x="3" y="20" width="1" height="1" fill="#6dff00"/><rect x="4" y="20" width="1" height="1" fill="#71ff00"/><rect x="5" y="20" width="1" height="1" fill="#76ff00"/><rect x="6" y="20" width="1" height="1" fill="#7bff00"/><rect x="7" y="20" width="1" height="1" fill="#80ff00"/><rect x="8" y="20" width="1" height="1" fill="#85ff00"/><rect x="9" y="20" width="1" height="1" fill="#89ff00"/><rect x="10" y="20" width="1" height="1" fill="#8eff00"/><rect x="11" y="20" width="1" height="1" fill="#93ff00"/><rect x="12" y="20" width="1" height="1" fill="#98ff00"/><rect x="13" y="20" width="1" height="1" fill="#9dff00"/><rect x="14" y="20" width="1" height="1" fill="#a2ff00"/><rect x="15" y="20" width="1" height="1" fill="#a6ff00"/><rect x="16" y="20" width="1" height="1" fill="#abff00"/><rect x="17" y="20" width="1" height="1" fill="#b0ff00"/><rect x="18" y="20" width="1" height="1" fill="#b5ff00"/><rect x="19" y="20" width="1" height="1" fill="#baff00"/><rect x="20" y="20" width="1" height="1" fill="#bfff00"/><rect x="21" y="20" width="1" height="1" fill="#c3ff00"/><rect x="22" y="20" width="1" height="1" fill="#c8ff00"/><rect x="23" y="20" width="1" height="1" fill="#cdff00"/><rect x="24" y="20" width="1" height="1" fill="#d2ff00"/><rect x="25" y="20" width="1" height="1" fill="#d7ff00"/><rect x="26" y="20" width="1" height="1" fill="#dcff00"/><rect x="27" y="20" width="1" height="1" fill="#e0ff00"/><rect x="28" y="20" width="1" height="1" fill="#e5ff00"/><rect x="29" y="20" width="1" height="1" fill="#eaff00"/><rect x="30" y="20" width="1" height="1" fill="#efff00"/><rect x="31" y="20" width="1" height="1" fill="#f4ff00"/><rect x="32" y="20" width="1" height="1" fill="#f8ff00"/><rect x="33" y="20" width="1" height="1" fill="#fdff00"/><rect x="34" y="20" width="1" height="1" fill="#fffc00"/><rect x="35" y="20" width="1" height="1" fill="#fff700"/><rect x="36" y="20" width="1" height="1" fill="#fff200"/><rect x="37" y="20" width="1" height="1" fill="#ffed00"/><rect x="38" y="20" width="1" height="1" fill="#ffe900"/><rect x="39" y="20" width="1" height="1" fill="#ffe400"/>
<rect x="0" y="21" width="1" height="1" fill="#75ff00"/><rect x="1" y="21" width="1" height="1" fill="#7aff00"/><rect x="2" y="21" width="1" height="1" fill="#7eff00"/><rect x="3" y="21" width="1" height="1" fill="#83ff00"/><rect x="4" y="21" width="1" height="1" fill="#88ff00"/><rect x="5" y="21" width="1" height="1" fill="#8dff00"/><rect x="6" y="21" width="1" height="1" fill="#91ff00"/><rect x="7" y="21" width="1" height="1" fill="#96ff00"/><rect x="8" y="21" width="1" height="1" fill="#9bff00"/><rect x="9" y="21" width="1" height="1" fill="#a0ff00"/><rect x="10" y="21" width="1" height="1" fill="#a5ff00"/><rect x="11" y="21" width="1" height="1" fill="#a9ff00"/><rect x="12" y="21" width="1" height="1" fill="#aeff00"/><rect x="13" y="21" width="1" height="1" fill="#b3ff00"/><rect x="14" y="21" width="1" height="1" fill="#b8ff00"/><rect x="15" y="21" width="1" height="1" fill="#bcff00"/><rect x="16" y="21" width="1" height="1" fill="#c1ff00"/><rect x="17" y="21" width="1" height="1" fill="#c6ff00"/><rect x="18" y="21" width="1" height="1" fill="#cbff00"/><rect x="19" y="21" width="1" height="1" fill="#d0ff00"/><rect x="20" y="21" width="1" height="1" fill="#d4ff00"/><rect x="21" y="21" width="1" height="1" fill="#d9ff00"/><rect x="22" y="21" width="1" height="1" fill="#deff00"/><rect x="23" y="21" width="1" height="1" fill="#e3ff00"/><rect x="24" y="21" width="1" height="1" fill="#e7ff00"/><rect x="25" y="21" width="1" height="1" fill="#ecff00"/><rect x="26" y="21" width="1" height="1" fill="#f1ff00"/><rect x="27" y="21" width="1" height="1" fill="#f6ff00"/><rect x="28" y="21" width="1" height="1" fill="#faff00"/><rect x="29" y="21" width="1" height="1" fill="#ffff00"/><rect x="30" y="21" width="1" height="1" fill="#fffa00"/><rect x="31" y="21" width="1" height="1" fill="#fff500"/><rect x="32" y="21" width="1" height="1" fill="#fff000"/><rect x="33" y="21" width="1" height="1" fill="#ffec00"/><rect x="34" y="21" width="1" height="1" fill="#ffe700"/><rect x="35" y="21" width="1" height="1" fill="#ffe200"/><rect x="36" y="21" width="1" height="1" fill="#ffdd00"/><rect x="37" y="21" width="1" height="1" fill="#ffd900"/><rect x="38" y="21" width="1" height="1" fill="#ffd400"/><rect x="39" y="21" width="1" height="1" fill="#ffcf00"/>
<rect x="0" y="22" width="1" height="1" fill="#8bff00"/><rect x="1" y="22" width="1" height="1" fill="#90ff00"/><rect x="2" y="22" width="1" height="1" fill="#95ff00"/><rect x="3" y="22" width="1" height="1" fill="#9aff00"/><rect x="4" y="22" width="1" height="1" fill="#9eff00"/><rect x="5" y="22" width="1" height="1" fill="#a3ff00"/><rect x="6" y="22" width="1" height="1" fill="#a8ff00"/><rect x="7" y="22" width="1" height="1" fill="#adff00"/><rect x="8" y="22" width="1" height="1" fill="#b1ff00"/><rect x="9" y="22" width="1" height="1" fill="#b6ff00"/><rect x="10" y="22" width="1" height="1" fill="#bbff00"/><rect x="11" y="22" width="1" height="1" fill="#bfff00"/><rect x="12" y="22" width="1" height="1" fill="#c4ff00"/><rect x="13" y="22" width="1" height="1" fill="#c9ff00"/><rect x="14" y="22" width="1" height="1" fill="#ceff00"/><rect x="15" y="22" width="1" height="1" fill="#d2ff00"/><rect x="16" y="22" width="1" height="1" fill="#d7ff00"/><rect x="17" y="22" width="1" height="1" fill="#dcff00"/><rect x="18" y="22" width="1" height="1" fill="#e1ff00"/><rect x="19" y="22" width="1" height="1" fill="#e5ff00"/><rect x="20" y="22" width="1" height="1" fill="#eaff00"/><rect x="21" y="22" width="1" height="1" fill="#efff00"/><rect x="22" y="22" width="1" height="1" fill="#f3ff00"/><rect x="23" y="22" width="1" height="1" fill="#f8ff00"/><rect x="24" y="22" width="1" height="1" fill="#fdff00"/><rect x="25" y="22" width="1" height="1" fill="#fffc00"/><rect x="26" y="22" width="1" height="1" fill="#fff800"/><rect x="27" y="22" width="1" height="1" fill="#fff300"/><rect x="28" y="22" width="1" height="1" fill="#ffee00"/><rect x="29" y="22" width="1" height="1" fill="#ffe900"/><rect x="30" y="22" width="1" height="1" fill="#ffe500"/><rect x="31" y="22" width="1" height="1" fill="#ffe000"/><rect x="32" y="22" width="1" height="1" fill="#ffdb00"/><rect x="33" y="22" width="1" height="1" fill="#ffd700"/><rect x="34" y="22" width="1" height="1" fill="#ffd200"/><rect x="35" y="22" width="1" height="1" fill="#ffcd00"/><rect x="36" y="22" width="1" height="1" fill="#ffc800"/><rect x="37" y="22" width="1" height="1" fill="#ffc400"/><rect x="38" y="22" width="1" height="1" fill="#ffbf00"/><rect x="39" y="22" width="1" height="1" fill="#ffba00"/>
<rect x="0" y="23" width="1" height="1" fill="#a2ff00"/><rect x="1" y="23" width="1" height="1" fill="#a7ff00"/><rect x="2" y="23" width="1" height="1" fill="#acff00"/><rect x="3" y="23" width="1" height="1" fill="#b0ff00"/><rect x="4" y="23" width="1" height="1" fill="#b5ff00"/><rect x="5" y="23" width="1" height="1" fill="#baff00"/><rect x="6" y="23" width="1" height="1" fill="#beff00"/><rect x="7" y="23" width="1" height="1" fill="#c3ff00"/><rect x="8" y="23" width="1" height="1" fill="#c8ff00"/><rect x="9" y="23" width="1" height="1" fill="#ccff00"/><rect x="10" y="23" width="1" height="1" fill="#d1ff00"/><rect x="11" y="23" width="1" height="1" fill="#d6ff00"/><rect x="12" y="23" width="1" height="1" fill="#daff00"/><rect x="13" y="23" width="1" height="1" fill="#dfff00"/><rect x="14" y="23" width="1" height="1" fill="#e4ff00"/><rect x="15" y="23" width="1" height="1" fill="#e8ff00"/><rect x="16" y="23" width="1" height="1" fill="#edff00"/><rect x="17" y="23" width="1" height="1" fill="#f2ff00"/><rect x="18" y="23" width="1" height="1" fill="#f6ff00"/><rect x="19" y="23" width="1" height="1" fill="#fbff00"/><rect x="20" y="23" width="1" height="1" fill="#fffe00"/><rect x="21" y="23" width="1" height="1" fill="#fffa00"/><rect x="22" y="23" width="1" height="1" fill="#fff500"/><rect x="23" y="23" width="1" height="1" fill="#fff000"/><rect x="24" y="23" width="1" height="1" fill="#ffec00"/><rect x="25" y="23" width="1" height="1" fill="#ffe700"/><rect x="26" y="23" width="1" height="1" fill="#ffe200"/><rect x="27" y="23" width="1" height="1" fill="#ffde00"/><rect x="28" y="23" width="1" height="1" fill="#ffd900"/><rect x="29" y="23" width="1" height="1" fill="#ffd400"/><rect x="30" y="23" width="1" height="1" fill="#ffd000"/><rect x="31" y="23" width="1" height="1" fill="#ffcb00"/><rect x="32" y="23" width="1" height="1" fill="#ffc600"/><rect x="33" y="23" width="1" height="1" fill="#ffc100"/><rect x="34" y="23" width="1" height="1" fill="#ffbd00"/><rect x="35" y="23" width="1" height="1" fill="#ffb800"/><rect x="36" y="23" width="1" height="1" fill="#ffb300"/><rect x="37" y="23" width="1" height="1" fill="#ffaf00"/><rect x="38" y="23" width="1" height="1" fill="#ffaa00"/><rect x="39" y="23" width="1" height="1" fill="#ffa500"/>
<rect x="0" y="24" width="1" height="1" fill="#b9ff00"/><rect x="1" y="24" width="1" height="1" fill="#bdff00"/><rect x="2" y="24" width="1" height="1" fill="#c2ff00"/><rect x="3" y="24" width="1" height="1" fill="#c7ff00"/><rect x="4" y="24" width="1" height="1" fill="#cbff00"/><rect x="5" y="24" width="1" height="1" fill="#d0ff00"/><rect x="6" y="24" width="1" height="1" fill="#d5ff00"/><rect x="7" y="24" width="1" height="1" fill="#d9ff00"/><rect x="8" y="24" width="1" height="1" fill="#deff00"/><rect x="9" y="24" width="1" height="1" fill="#e3ff00"/><rect x="10" y="24" width="1" height="1" fill="#e7ff00"/><rect x="11" y="24" width="1" height="1" fill="#ecff00"/><rect x="12" y="24" width="1" height="1" fill="#f0ff00"/><rect x="13" y="24" width="1" height="1" fill="#f5ff00"/><rect x="14" y="24" width="1" height="1" fill="#faff00"/><rect x="15" y="24" width="1" height="1" fill="#feff00"/><rect x="16" y="24" width="1" height="1" fill="#fffb00"/><rect x="17" y="24" width="1" height="1" fill="#fff600"/><rect x="18" y="24" width="1" height="1" fill="#fff200"/><rect x="19" y="24" width="1" height="1" fill="#ffed00"/><rect x="20" y="24" width="1" height="1" fill="#ffe900"/><rect x="21" y="24" width="1" height="1" fill="#ffe400"/><rect x="22" y="24" width="1" height="1" fill="#ffdf00"/><rect x="23" y="24" width="1" height="1" fill="#ffdb00"/><rect x="24" y="24" width="1" height="1" fill="#ffd600"/><rect x="25" y="24" width="1" height="1" fill="#ffd100"/><rect x="26" y="24" width="1" height="1" fill="#ffcd00"/><rect x="27" y="24" width="1" height="1" fill="#ffc800"/><rect x="28" y="24" width="1" height="1" fill="#ffc400"/><rect x="29" y="24" width="1" height="1" fill="#ffbf00"/><rect x="30" y="24" width="1" height="1" fill="#ffba00"/><rect x="31" y="24" width="1" height="1" fill="#ffb600"/><rect x="32" y="24" width="1" height="1" fill="#ffb100"/><rect x="33" y="24" width="1" height="1" fill="#ffac00"/><rect x="34" y="24" width="1" height="1" fill="#ffa800"/><rect x="35" y="24" width="1" height="1" fill="#ffa300"/><rect x="36" y="24" width="1" height="1" fill="#ff9f00"/><rect x="37" y="24" width="1" height="1" fill="#ff9a00"/><rect x="38" y="24" width="1" height="1" fill="#ff9500"/><rect x="39" y="24" width="1" height="1" fill="#ff9100"/>
<rect x="0" y="25" width="1" height="1" fill="#d0ff00"/><rect x="1" y="25" width="1" height="1" fill="#d4ff00"/><rect x="2" y="25" width="1" height="1" fill="#d9ff00"/><rect x="3" y="25" width="1" height="1" fill="#ddff00"/><rect x="4" y="25" width="1" height="1" fill="#e2ff00"/><rect x="5" y="25" width="1" height="1" fill="#e6ff00"/><rect x="6" y="25" width="1" height="1" fill="#ebff00"/><rect x="7" y="25" width="1" height="1" fill="#f0ff00"/><rect x="8" y="25" width="1" height="1" fill="#f4ff00"/><rect x="9" y="25" width="1" height="1" fill="#f9ff00"/><rect x="10" y="25" width="1" height="1" fill="#fdff00"/><rect x="11" y="25" width="1" height="1" fill="#fffc00"/><rect x="12" y="25" width="1" height="1" fill="#fff800"/><rect x="13" y="25" width="1" height="1" fill="#fff300"/><rect x="14" y="25" width="1" height="1" fill="#ffee00"/><rect x="15" y="25" width="1" height="1" fill="#ffea00"/><rect x="16" y="25" width="1" height="1" fill="#ffe500"/><rect x="17" y="25" width="1" height="1" fill="#ffe100"/><rect x="18" y="25" width="1" height="1" fill="#ffdc00"/><rect x="19" y="25" width="1" height="1" fill="#ffd700"/><rect x="20" y="25" width="1" height="1" fill="#ffd300"/><rect x="21" y="25" width="1" height="1" fill="#ffce00"/><rect x="22" y="25" width="1" height="1" fill="#ffca00"/><rect x="23" y="25" width="1" height="1" fill="#ffc500"/><rect x="24" y="25" width="1" height="1" fill="#ffc100"/><rect x="25" y="25" width="1" height="1" fill="#ffbc00"/><rect x="26" y="25" width="1" height="1" fill="#ffb700"/><rect x="27" y="25" width="1" height="1" fill="#ffb300"/><rect x="28" y="25" width="1" height="1" fill="#ffae00"/><rect x="29" y="25" width="1" height="1" fill="#ffaa00"/><rect x="30" y="25" width="1" height="1" fill="#ffa500"/><rect x="31" y="25" width="1" height="1" fill="#ffa000"/><rect x="32" y="25" width="1" height="1" fill="#ff9c00"/><rect x="33" y="25" width="1" height="1" fill="#ff9700"/><rect x="34" y="25" width="1" height="1" fill="#ff9300"/><rect x="35" y="25" width="1" height="1" fill="#ff8e00"/><rect x="36" y="25" width="1" height="1" fill="#ff8a00"/><rect x="37" y="25" width="1" height="1" fill="#ff8500"/><rect x="38" y="25" width="1" height="1" fill="#ff8000"/><rect x="39" y="25" width="1" height="1" fill="#ff7c00"/>
<rect x="0" y="26" width="1" height="1" fill="#e6ff00"/><rect x="1" y="26" width="1" height="1" fill="#ebff00"/><rect x="2" y="26" width="1" height="1" fill="#efff00"/><rect x="3" y="26" width="1" height="1" fill="#f4ff00"/><rect x="4" y="26" width="1" height="1" fill="#f8ff00"/><rect x="5" y="26" width="1" height="1" fill="#fdff00"/><rect x="6" y="26" width="1" height="1" fill="#fffd00"/><rect x="7" y="26" width="1" height="1" fill="#fff800"/><rect x="8" y="26" width="1" height="1" fill="#fff400"/><rect x="9" y="26" width="1" height="1" fill="#ffef00"/><rect x="10" y="26" width="1" height="1" fill="#ffea00"/><rect x="11" y="26" width="1" height="1" fill="#ffe600"/><rect x="12" y="26" width="1" height="1" fill="#ffe100"/><rect x="13" y="26" width="1" height="1" fill="#ffdd00"/><rect x="14" y="26" width="1" height="1" fill="#ffd800"/><rect x="15" y="26" width="1" height="1" fill="#ffd400"/><rect x="16" y="26" width="1" height="1" fill="#ffcf00"/><rect x="17" y="26" width="1" height="1" fill="#ffcb00"/><rect x="18" y="26" width="1" height="1" fill="#ffc600"/><rect x="19" y="26" width="1" height="1" fill="#ffc200"/><rect x="20" y="26" width="1" height="1" fill="#ffbd00"/><rect x="21" y="26" width="1" height="1" fill="#ffb900"/><rect x="22" y="26" width="1" height="1" fill="#ffb400"/><rect x="23" y="26" width="1" height="1" fill="#ffb000"/><rect x="24" y="26" width="1" height="1" fill="#ffab00"/><rect x="25" y="26" width="1" height="1" fill="#ffa600"/><rect x="26" y="26" width="1" height="1" fill="#ffa200"/><rect x="27" y="26" width="1" height="1" fill="#ff9d00"/><rect x="28" y="26" width="1" height="1" fill="#ff9900"/><rect x="29" y="26" width="1" height="1" fill="#ff9400"/><rect x="30" y="26" width="1" height="1" fill="#ff9000"/><rect x="31" y="26" width="1" height="1" fill="#ff8b00"/><rect x="32" y="26" width="1" height="1" fill="#ff8700"/><rect x="33" y="26" width="1" height="1" fill="#ff8200"/><rect x="34" y="26" width="1" height="1" fill="#ff7e00"/><rect x="35" y="26" width="1" height="1" fill="#ff7900"/><rect x="36" y="26" width="1" height="1" fill="#ff7500"/><rect x="37" y="26" width="1" height="1" fill="#ff7000"/><rect x="38" y="26" width="1" height="1" fill="#ff6c00"/><rect x="39" y="26" width="1" height="1" fill="#ff6700"/>
<rect x="0" y="27" width="1" height="1" fill="#fdff00"/><rect x="1" y="27" width="1" height="1" fill="#fffd00"/><rect x="2" y="27" width="1" height="1" fill="#fff800"/><rect x="3" y="27" width="1" height="1" fill="#fff400"/><rect x="4" y="27" width="1" height="1" fill="#ffef00"/><rect x="5" y="27" width="1" height="1" fill="#ffeb00"/><rect x="6" y="27" width="1" height="1" fill="#ffe600"/><rect x="7" y="27" width="1" height="1" fill="#ffe200"/><rect x="8" y="27" width="1" height="1" fill="#ffdd00"/><rect x="9" y="27" width="1" height="1" fill="#ffd900"/><rect x="10" y="27" width="1" height="1" fill="#ffd400"/><rect x="11" y="27" width="1" height="1" fill="#ffd000"/><rect x="12" y="27" width="1" height="1" fill="#ffcb00"/><rect x="13" y="27" width="1" height="1" fill="#ffc700"/><rect x="14" y="27" width="1" height="1" fill="#ffc200"/><rect x="15" y="27" width="1" height="1" fill="#ffbe00"/><rect x="16" y="27" width="1" height="1" fill="#ffb900"/><rect x="17" y="27" width="1" height="1" fill="#ffb500"/><rect x="18" y="27" width="1" height="1" fill="#ffb000"/><rect x="19" y="27" width="1" height="1" fill="#ffac00"/><rect x="20" y="27" width="1" height="1" fill="#ffa700"/><rect x="21" y="27" width="1" height="1" fill="#ffa300"/><rect x="22" y="27" width="1" height="1" fill="#ff9e00"/><rect x="23" y="27" width="1" height="1" fill="#ff9a00"/><rect x="24" y="27" width="1" height="1" fill="#ff9600"/><rect x="25" y="27" width="1" height="1" fill="#ff9100"/><rect x="26" y="27" width="1" height="1" fill="#ff8d00"/><rect x="27" y="27" width="1" height="1" fill="#ff8800"/><rect x="28" y="27" width="1" height="1" fill="#ff8400"/><rect x="29" y="27" width="1" height="1" fill="#ff7f00"/><rect x="30" y="27" width="1" height="1" fill="#ff7b00"/><rect x="31" y="27" width="1" height="1" fill="#ff7600"/><rect x="32" y="27" width="1" height="1" fill="#ff7200"/><rect x="33" y="27" width="1" height="1" fill="#ff6d00"/><rect x="34" y="27" width="1" height="1" fill="#ff6900"/><rect x="35" y="27" width="1" height="1" fill="#ff6400"/><rect x="36" y="27" width="1" height="1" fill="#ff6000"/><rect x="37" y="27" width="1" height="1" fill="#ff5b00"/><rect x="38" y="27" width="1" height="1" fill="#ff5700"/><rect x="39" y="27" width="1" height="1" fill="#ff5200"/>
<rect x="0" y="28" width="1" height="1" fill="#ffea00"/><rect x="1" y="28" width="1" height="1" fill="#ffe600"/><rect x="2" y="28" width="1" height="1" fill="#ffe100"/><rect x="3" y="28" width="1" height="1" fill="#ffdd00"/><rect x="4" y="28" width="1" height="1" fill="#ffd900"/><rect x="5" y="28" width="1" height="1" fill="#ffd400"/><rect x="6" y="28" width="1" height="1" fill="#ffd000"/><rect x="7" y="28" width="1" height="1" fill="#ffcb00"/><rect x="8" y="28" width="1" height="1" fill="#ffc700"/><rect x="9" y="28" width="1" height="1" fill="#ffc200"/><rect x="10" y="28" width="1" height="1" fill="#ffbe00"/><rect x="11" y="28" width="1" height="1" fill="#ffba00"/><rect x="12" y="28" width="1" height="1" fill="#ffb500"/><rect x="13" y="28" width="1" height="1" fill="#ffb100"/><rect x="14" y="28" width="1" height="1" fill="#ffac00"/><rect x="15" y="28" width="1" height="1" fill="#ffa800"/><rect x="16" y="28" width="1" height="1" fill="#ffa300"/><rect x="17" y="28" width="1" height="1" fill="#ff9f00"/><rect x="18" y="28" width="1" height="1" fill="#ff9b00"/><rect x="19" y="28" width="1" height="1" fill="#ff9600"/><rect x="20" y="28" width="1" height="1" fill="#ff9200"/><rect x="21" y="28" width="1" height="1" fill="#ff8d00"/><rect x="22" y="28" width="1" height="1" fill="#ff8900"/><rect x="23" y="28" width="1" height="1" fill="#ff8400"/><rect x="24" y="28" width="1" height="1" fill="#ff8000"/><rect x="25" y="28" width="1" height="1" fill="#ff7c00"/><rect x="26" y="28" width="1" height="1" fill="#ff7700"/><rect x="27" y="28" width="1" height="1" fill="#ff7300"/><rect x="28" y="28" width="1" height="1" fill="#ff6e00"/><rect x="29" y="28" width="1" height="1" fill="#ff6a00"/><rect x="30" y="28" width="1" height="1" fill="#ff6500"/><rect x="31" y="28" width="1" height="1" fill="#ff6100"/><rect x="32" y="28" width="1" height="1" fill="#ff5d00"/><rect x="33" y="28" width="1" height="1" fill="#ff5800"/><rect x="34" y="28" width="1" height="1" fill="#ff5400"/><rect x="35" y="28" width="1" height="1" fill="#ff4f00"/><rect x="36" y="28" width="1" height="1" fill="#ff4b00"/><rect x="37" y="28" width="1" height="1" fill="#ff4600"/><rect x="38" y="28" width="1" height="1" fill="#ff4200"/><rect x="39" y="28" width="1" height="1" fill="#ff3e00"/>
<rect x="0" y="29" width="1" height="1" fill="#ffd400"/><rect x="1" y="29" width="1" height="1" fill="#ffcf00"/><rect x="2" y="29" width="1" height="1" fill="#ffcb00"/><rect x="3" y="29" width="1" height="1" fill="#ffc700"/><rect x="4" y="29" width="1" height="1" fill="#ffc200"/><rect x="5" y="29" width="1" height="1" fill="#ffbe00"/><rect x="6" y="29" width="1" height="1" fill="#ffb900"/><rect x="7" y="29" width="1" height="1" fill="#ffb500"/><rect x="8" y="29" width="1" height="1" fill="#ffb100"/><rect x="9" y="29" width="1" height="1" fill="#ffac00"/><rect x="10" y="29" width="1" height="1" fill="#ffa800"/><rect x="11" y="29" width="1" height="1" fill="#ffa300"/><rect x="12" y="29" width="1" height="1" fill="#ff9f00"/><rect x="13" y="29" width="1" height="1" fill="#ff9b00"/><rect x="14" y="29" width="1" height="1" fill="#ff9600"/><rect x="15" y="29" width="1" height="1" fill="#ff9200"/><rect x="16" y="29" width="1" height="1" fill="#ff8e00"/><rect x="17" y="29" width="1" height="1" fill="#ff8900"/><rect x="18" y="29" width="1" height="1" fill="#ff8500"/><rect x="19" y="29" width="1" height="1" fill="#ff8000"/><rect x="20" y="29" width="1" height="1" fill="#ff7c00"/><rect x="21" y="29" width="1" height="1" fill="#ff7800"/><rect x="22" y="29" width="1" height="1" fill="#ff7300"/><rect x="23" y="29" width="1" height="1" fill="#ff6f00"/><rect x="24" y="29" width="1" height="1" fill="#ff6a00"/><rect x="25" y="29" width="1" height="1" fill="#ff6600"/><rect x="26" y="29" width="1" height="1" fill="#ff6200"/><rect x="27" y="29" width="1" height="1" fill="#ff5d00"/><rect x="28" y="29" width="1" height="1" fill="#ff5900"/><rect x="29" y="29" width="1" height="1" fill="#ff5500"/><rect x="30" y="29" width="1" height="1" fill="#ff5000"/><rect x="31" y="29" width="1" height="1" fill="#ff4c00"/><rect x="32" y="29" width="1" height="1" fill="#ff4700"/><rect x="33" y="29" width="1" height="1" fill="#ff4300"/><rect x="34" y="29" width="1" height="1" fill="#ff3f00"/><rect x="35" y="29" width="1" height="1" fill="#ff3a00"/><rect x="36" y="29" width="1" height="1" fill="#ff3600"/><rect x="37" y="29" width="1" height="1" fill="#ff3200"/><rect x="38" y="29" width="1" height="1" fill="#ff2d00"/><rect x="39" y="29" width="1" height="1" fill="#ff2900"/>
<rect x="0" y="30" width="1" height="1" fill="#ffbd00"/><rect x="1" y="30" width="1" height="1" fill="#ffb900"/><rect x="2" y="30" width="1" height="1" fill="#ffb400"/><rect x="3" y="30" width="1" height="1" fill="#ffb000"/><rect x="4" y="30" width="1" height="1" fill="#ffac00"/><rect x="5" y="30" width="1" height="1" fill="#ffa700"/><rect x="6" y="30" width="1" height="1" fill="#ffa300"/><rect x="7" y="30" width="1" height="1" fill="#ff9f00"/><rect x="8" y="30" width="1" height="1" fill="#ff9a00"/><rect x="9" y="30" width="1" height="1" fill="#ff9600"/><rect x="10" y="30" width="1" height="1" fill="#ff9200"/><rect x="11" y="30" width="1" height="1" fill="#ff8d00"/><rect x="12" y="30" width="1" height="1" fill="#ff8900"/><rect x="13" y="30" width="1" height="1" fill="#ff8500"/><rect x="14" y="30" width="1" height="1" fill="#ff8000"/><rect x="15" y="30" width="1" height="1" fill="#ff7c00"/><rect x="16" y="30" width="1" height="1" fill="#ff7800"/><rect x="17" y="30" width="1" height="1" fill="#ff7300"/><rect x="18" y="30" width="1" height="1" fill="#ff6f00"/><rect x="19" y="30" width="1" height="1" fill="#ff6b00"/><rect x="20" y="30" width="1" height="1" fill="#ff6600"/><rect x="21" y="30" width="1" height="1" fill="#ff6200"/><rect x="22" y="30" width="1" height="1" fill="#ff5e00"/><rect x="23" y="30" width="1" height="1" fill="#ff5900"/><rect x="24" y="30" width="1" height="1" fill="#ff5500"/><rect x="25" y="30" width="1" height="1" fill="#ff5100"/><rect x="26" y="30" width="1" height="1" fill="#ff4c00"/><rect x="27" y="30" width="1" height="1" fill="#ff4800"/><rect x="28" y="30" width="1" height="1" fill="#ff4400"/><rect x="29" y="30" width="1" height="1" fill="#ff3f00"/><rect x="30" y="30" width="1" height="1" fill="#ff3b00"/><rect x="31" y="30" width="1" height="1" fill="#ff3700"/><rect x="32" y="30" width="1" height="1" fill="#ff3200"/><rect x="33" y="30" width="1" height="1" fill="#ff2e00"/><rect x="34" y="30" width="1" height="1" fill="#ff2a00"/><rect x="35" y="30" width="1" height="1" fill="#ff2500"/><rect x="36" y="30" width="1" height="1" fill="#ff2100"/><rect x="37" y="30" width="1" height="1" fill="#ff1d00"/><rect x="38" y="30" width="1" height="1" fill="#ff1800"/><rect x="39" y="30" width="1" height="1" fill="#ff1400"/>
<rect x="0" y="31" width="1" height="1" fill="#ffa600"/><rect x="1" y="31" width="1" height="1" fill="#ffa200"/><rect x="2" y="31" width="1" height="1" fill="#ff9e00"/><rect x="3" y="31" width="1" height="1" fill="#ff9900"/><rect x="4" y="31" width="1" height="1" fill="#ff9500"/><rect x="5" y="31" width="1" height="1" fill="#ff9100"/><rect x="6" y="31" width="1" height="1" fill="#ff8d00"/><rect x="7" y="31" width="1" height="1" fill="#ff8800"/><rect x="8" y="31" width="1" height="1" fill="#ff8400"/><rect x="9" y="31" width="1" height="1" fill="#ff8000"/><rect x="10" y="31" width="1" height="1" fill="#ff7b00"/><rect x="11" y="31" width="1" height="1" fill="#ff7700"/><rect x="12" y="31" width="1" height="1" fill="#ff7300"/><rect x="13" y="31" width="1" height="1" fill="#ff6f00"/><rect x="14" y="31" width="1" height="1" fill="#ff6a00"/><rect x="15" y="31" width="1" height="1" fill="#ff6600"/><rect x="16" y="31" width="1" height="1" fill="#ff6200"/><rect x="17" y="31" width="1" height="1" fill="#ff5d00"/><rect x="18" y="31" width="1" height="1" fill="#ff5900"/><rect x="19" y="31" width="1" height="1" fill="#ff5500"/><rect x="20" y="31" width="1" height="1" fill="#ff5100"/><rect x="21" y="31" width="1" height="1" fill="#ff4c00"/><rect x="22" y="31" width="1" height="1" fill="#ff4800"/><rect x="23" y="31" width="1" height="1" fill="#ff4400"/><rect x="24" y="31" width="1" height="1" fill="#ff3f00"/><rect x="25" y="31" width="1" height="1" fill="#ff3b00"/><rect x="26" y="31" width="1" height="1" fill="#ff3700"/><rect x="27" y="31" width="1" height="1" fill="#ff3300"/><rect x="28" y="31" width="1" height="1" fill="#ff2e00"/><rect x="29" y="31" width="1" height="1" fill="#ff2a00"/><rect x="30" y="31" width="1" height="1" fill="#ff2600"/><rect x="31" y="31" width="1" height="1" fill="#ff2100"/><rect x="32" y="31" width="1" height="1" fill="#ff1d00"/><rect x="33" y="31" width="1" height="1" fill="#ff1900"/><rect x="34" y="31" width="1" height="1" fill="#ff1500"/><rect x="35" y="31" width="1" height="1" fill="#ff1000"/><rect x="36" y="31" width="1" height="1" fill="#ff0c00"/><rect x="37" y="31" width="1" height="1" fill="#ff0800"/><rect x="38" y="31" width="1" height="1" fill="#ff0300"/><rect x="39" y="31" width="1" height="1" fill="#ff0000"/>
<rect x="0" y="32" width="1" height="1" fill="#ff9000"/><rect x="1" y="32" width="1" height="1" fill="#ff8b00"/><rect x="2" y="32" width="1" height="1" fill="#ff8700"/><rect x="3" y="32" width="1" height="1" fill="#ff8300"/><rect x="4" y="32" width="1" height="1" fill="#ff7f00"/><rect x="5" y="32" width="1" height="1" fill="#ff7a00"/><rect x="6" y="32" width="1" height="1" fill="#ff7600"/><rect x="7" y="32" width="1" height="1" fill="#ff7200"/><rect x="8" y="32" width="1" height="1" fill="#ff6e00"/><rect x="9" y="32" width="1" height="1" fill="#ff6900"/><rect x="10" y="32" width="1" height="1" fill="#ff6500"/><rect x="11" y="32" width="1" height="1" fill="#ff6100"/><rect x="12" y="32" width="1" height="1" fill="#ff5d00"/><rect x="13" y="32" width="1" height="1" fill="#ff5900"/><rect x="14" y="32" width="1" height="1" fill="#ff5400"/><rect x="15" y="32" width="1" height="1" fill="#ff5000"/><rect x="16" y="32" width="1" height="1" fill="#ff4c00"/><rect x="17" y="32" width="1" height="1" fill="#ff4800"/><rect x="18" y="32" width="1" height="1" fill="#ff4300"/><rect x="19" y="32" width="1" height="1" fill="#ff3f00"/><rect x="20" y="32" width="1" height="1" fill="#ff3b00"/><rect x="21" y="32" width="1" height="1" fill="#ff3700"/><rect x="22" y="32" width="1" height="1" fill="#ff3200"/><rect x="23" y="32" width="1" height="1" fill="#ff2e00"/><rect x="24" y="32" width="1" height="1" fill="#ff2a00"/><rect x="25" y="32" width="1" height="1" fill="#ff2600"/><rect x="26" y="32" width="1" height="1" fill="#ff2100"/><rect x="27" y="32" width="1" height="1" fill="#ff1d00"/><rect x="28" y="32" width="1" height="1" fill="#ff1900"/><rect x="29" y="32" width="1" height="1" fill="#ff1500"/><rect x="30" y="32" width="1" height="1" fill="#ff1100"/><rect x="31" y="32" width="1" height="1" fill="#ff0c00"/><rect x="32" y="32" width="1" height="1" fill="#ff0800"/><rect x="33" y="32" width="1" height="1" fill="#ff0400"/><rect x="34" y="32" width="6" height="1" fill="#ff0000"/>
<rect x="0" y="33" width="1" height="1" fill="#ff7900"/><rect x="1" y="33" width="1" height="1" fill="#ff7500"/><rect x="2" y="33" width="1" height="1" fill="#ff7000"/><rect x="3" y="33" width="1" height="1" fill="#ff6c00"/><rect x="4" y="33" width="1" height="1" fill="#ff6800"/><rect x="5" y="33" width="1" height="1" fill="#ff6400"/><rect x="6" y="33" width="1" height="1" fill="#ff6000"/><rect x="7" y="33" width="1" height="1" fill="#ff5c00"/><rect x="8" y="33" width="1" height="1" fill="#ff5700"/><rect x="9" y="33" width="1" height="1" fill="#ff5300"/><rect x="10" y="33" width="1" height="1" fill="#ff4f00"/><rect x="11" y="33" width="1" height="1" fill="#ff4b00"/><rect x="12" y="33" width="1" height="1" fill="#ff4700"/><rect x="13" y="33" width="1" height="1" fill="#ff4200"/><rect x="14" y="33" width="1" height="1" fill="#ff3e00"/><rect x="15" y="33" width="1" height="1" fill="#ff3a00"/><rect x="16" y="33" width="1" height="1" fill="#ff3600"/><rect x="17" y="33" width="1" height="1" fill="#ff3200"/><rect x="18" y="33" width="1" height="1" fill="#ff2e00"/><rect x="19" y="33" width="1" height="1" fill="#ff2900"/><rect x="20" y="33" width="1" height="1" fill="#ff2500"/><rect x="21" y="33" width="1" height="1" fill="#ff2100"/><rect x="22" y="33" width="1" height="1" fill="#ff1d00"/><rect x="23" y="33" width="1" height="1" fill="#ff1900"/><rect x="24" y="33" width="1" height="1" fill="#ff1400"/><rect x="25" y="33" width="1" height="1" fill="#ff1000"/><rect x="26" y="33" width="1" height="1" fill="#ff0c00"/><rect x="27" y="33" width="1" height="1" fill="#ff0800"/><rect x="28" y="33" width="1" height="1" fill="#ff0400"/><rect x="29" y="33" width="11" height="1" fill="#ff0000"/>
<rect x="0" y="34" width="1" height="1" fill="#ff6200"/><rect x="1" y="34" width="1" height="1" fill="#ff5e00"/><rect x="2" y="34" width="1" height="1" fill="#ff5a00"/><rect x="3" y="34" width="1" height="1" fill="#ff5600"/><rect x="4" y="34" width="1" height="1" fill="#ff5200"/><rect x="5" y="34" width="1" height="1" fill="#ff4d00"/><rect x="6" y="34" width="1" height="1" fill="#ff4900"/><rect x="7" y="34" width="1" height="1" fill="#ff4500"/><rect x="8" y="34" width="1" height="1" fill="#ff4100"/><rect x="9" y="34" width="1" height="1" fill="#ff3d00"/><rect x="10" y="34" width="1" height="1" fill="#ff3900"/><rect x="11" y="34" width="1" height="1" fill="#ff3500"/><rect x="12" y="34" width="1" height="1" fill="#ff3100"/><rect x="13" y="34" width="1" height="1" fill="#ff2c00"/><rect x="14" y="34" width="1" height="1" fill="#ff2800"/><rect x="15" y="34" width="1" height="1" fill="#ff2400"/><rect x="16" y="34" width="1" height="1" fill="#ff2000"/><rect x="17" y="34" width="1" height="1" fill="#ff1c00"/><rect x="18" y="34" width="1" height="1" fill="#ff1800"/><rect x="19" y="34" width="1" height="1" fill="#ff1400"/><rect x="20" y="34" width="1" height="1" fill="#ff0f00"/><rect x="21" y="34" width="1" height="1" fill="#ff0b00"/><rect x="22" y="34" width="1" height="1" fill="#ff0700"/><rect x="23" y="34" width="1" height="1" fill="#ff0300"/><rect x="24" y="34" width="16" height="1" fill="#ff0000"/>
<rect x="0" y="35" width="1" height="1" fill="#ff4b00"/><rect x="1" y="35" width="1" height="1" fill="#ff4700"/><rect x="2" y="35" width="1" height="1" fill="#ff4300"/><rect x="3" y="35" width="1" height="1" fill="#ff3f00"/><rect x="4" y="35" width="1" height="1" fill="#ff3b00"/><rect x="5" y="35" width="1" height="1" fill="#ff3700"/><rect x="6" y="35" width="1" height="1" fill="#ff3300"/><rect x="7" y="35" width="1" height="1" fill="#ff2f00"/><rect x="8" y="35" width="1" height="1" fill="#ff2b00"/><rect x="9" y="35" width="1" height="1" fill="#ff2700"/><rect x="10" y="35" width="1" height="1" fill="#ff2300"/><rect x="11" y="35" width="1" height="1" fill="#ff1f00"/><rect x="12" y="35" width="1" height="1" fill="#ff1a00"/><rect x="13" y="35" width="1" height="1" fill="#ff1600"/><rect x="14" y="35" width="1" height="1" fill="#ff1200"/><rect x="15" y="35" width="1" height="1" fill="#ff0e00"/><rect x="16" y="35" width="1" height="1" fill="#ff0a00"/><rect x="17" y="35" width="1" height="1" fill="#ff0600"/><rect x="18" y="35" width="1" height="1" fill="#ff0200"/><rect x="19" y="35" width="21" height="1" fill="#ff0000"/>
<rect x="0" y="36" width="1" height="1" fill="#ff3500"/><rect x="1" y="36" width="1" height="1" fill="#ff3100"/><rect x="2" y="36" width="1" height="1" fill="#ff2d00"/><rect x="3" y="36" width="1" height="1" fill="#ff2900"/><rect x="4" y="36" width="1" height="1" fill="#ff2500"/><rect x="5" y="36" width="1" height="1" fill="#ff2100"/><rect x="6" y="36" width="1" height="1" fill="#ff1d00"/><rect x="7" y="36" width="1" height="1" fill="#ff1900"/><rect x="8" y="36" width="1" height="1" fill="#ff1400"/><rect x="9" y="36" width="1" height="1" fill="#ff1000"/><rect x="10" y="36" width="1" height="1" fill="#ff0c00"/><rect x="11" y="36" width="1" height="1" fill="#ff0800"/><rect x="12" y="36" width="1" height="1" fill="#ff0400"/><rect x="13" y="36" width="27" height="1" fill="#ff0000"/>
<rect x="0" y="37" width="1" height="1" fill="#ff1e00"/><rect x="1" y="37" width="1" height="1" fill="#ff1a00"/><rect x="2" y="37" width="1" height="1" fill="#ff1600"/><rect x="3" y="37" width="1" height="1" fill="#ff1200"/><rect x="4" y="37" width="1" height="1" fill="#ff0e00"/><rect x="5" y="37" width="1" height="1" fill="#ff0a00"/><rect x="6" y="37" width="1" height="1" fill="#ff0600"/><rect x="7" y="37" width="1" height="1" fill="#ff0200"/><rect x="8" y="37" width="32" height="1" fill="#ff0000"/>
<rect x="0" y="38" width="1" height="1" fill="#ff0700"/><rect x="1" y="38" width="1" height="1" fill="#ff0300"/><rect x="2" y="38" width="38" height="1" fill="#ff0000"/>
<rect x="0" y="39" width="40" height="1" fill="#ff0000"/>
</g>
<g fill="none" stroke="#000" stroke-width="2">
<rect x="367" y="2948.3" width="1858" height="1089.2"/>
<path d="M313 2948.3H367M313 3220.6H367M313 3492.9H367M313 3765.2H367M313 4037.5H367M367.0 4037.5V4068.5M831.5 4037.5V4068.5M1296.0 4037.5V4068.5M1760.5 4037.5V4068.5M2225.0 4037.5V4068.5" stroke-width="1.8"/>
<path d="M367.0 3160.1L367.0 3160.1L382.5 3157.9L398.0 3155.7L413.5 3153.5L428.9 3151.4L444.4 3149.2L459.9 3147.0L475.4 3144.8L490.9 3142.6L506.4 3140.4L521.8 3138.2L537.3 3135.9L552.8 3133.7L568.3 3131.5L583.8 3129.3L599.2 3127.1L614.7 3124.8L630.2 3122.6L645.7 3120.4L661.2 3118.1L676.7 3115.9L692.1 3113.7L707.6 3111.4L723.1 3109.2L738.6 3106.9L754.1 3104.7L769.6 3102.4L785.0 3100.1L800.5 3097.9L816.0 3095.6L831.5 3093.3L847.0 3091.0L862.5 3088.8L878.0 3086.5L893.4 3084.2L908.9 3081.9L924.4 3079.6L939.9 3077.3L955.4 3075.0L970.9 3072.7L986.3 3070.4L1001.8 3068.1L1017.3 3065.8L1032.8 3063.5L1048.3 3061.1L1063.8 3058.8L1079.2 3056.5L1094.7 3054.2L1110.2 3051.8L1125.7 3049.5L1141.2 3047.1L1156.7 3044.8L1172.1 3042.4L1187.6 3040.1L1203.1 3037.7L1218.6 3035.4L1234.1 3033.0L1249.5 3030.6L1265.0 3028.3L1280.5 3025.9L1296.0 3023.5L1311.5 3021.1L1327.0 3018.8L1342.5 3016.4L1357.9 3014.0L1373.4 3011.6L1388.9 3009.2L1404.4 3006.8L1419.9 3004.4L1435.3 3002.0L1450.8 2999.6L1466.3 2997.1L1481.8 2994.7L1497.3 2992.3L1512.8 2989.9L1528.2 2987.4L1543.7 2985.0L1559.2 2982.6L1574.7 2980.1L1590.2 2977.7L1605.7 2975.2L1621.2 2972.8L1636.6 2970.3L1652.1 2967.8L1667.6 2965.4L1683.1 2962.9L1698.6 2960.4L1714.0 2958.0L1729.5 2955.5L1745.0 2953.0L1760.5 2950.5L1774.2 2948.3"/>
<path d="M367.0 3372.8L367.0 3372.8L382.5 3370.8L398.0 3368.8L413.5 3366.8L428.9 3364.7L444.4 3362.7L459.9 3360.6L475.4 3358.6L490.9 3356.6L506.4 3354.5L521.8 3352.5L537.3 3350.4L552.8 3348.3L568.3 3346.3L583.8 3344.2L599.2 3342.2L614.7 3340.1L630.2 3338.0L645.7 3335.9L661.2 3333.9L676.7 3331.8L692.1 3329.7L707.6 3327.6L723.1 3325.5L738.6 3323.4L754.1 3321.3L769.6 3319.2L785.0 3317.1L800.5 3315.0L816.0 3312.9L831.5 3310.8L847.0 3308.7L862.5 3306.5L878.0 3304.4L893.4 3302.3L908.9 3300.2L924.4 3298.0L939.9 3295.9L955.4 3293.8L970.9 3291.6L986.3 3289.5L1001.8 3287.3L1017.3 3285.2L1032.8 3283.0L1048.3 3280.9L1063.8 3278.7L1079.2 3276.5L1094.7 3274.4L1110.2 3272.2L1125.7 3270.0L1141.2 3267.9L1156.7 3265.7L1172.1 3263.5L1187.6 3261.3L1203.1 3259.1L1218.6 3256.9L1234.1 3254.7L1249.5 3252.5L1265.0 3250.3L1280.5 3248.1L1296.0 3245.9L1311.5 3243.7L1327.0 3241.5L1342.5 3239.3L1357.9 3237.0L1373.4 3234.8L1388.9 3232.6L1404.4 3230.3L1419.9 3228.1L1435.3 3225.9L1450.8 3223.6L1466.3 3221.4L1481.8 3219.1L1497.3 3216.9L1512.8 3214.6L1528.2 3212.4L1543.7 3210.1L1559.2 3207.8L1574.7 3205.6L1590.2 3203.3L1605.7 3201.0L1621.2 3198.7L1636.6 3196.4L1652.1 3194.1L1667.6 3191.9L1683.1 3189.6L1698.6 3187.3L1714.0 3185.0L1729.5 3182.7L1745.0 3180.3L1760.5 3178.0L1776.0 3175.7L1791.5 3173.4L1807.0 3171.1L1822.4 3168.7L1837.9 3166.4L1853.4 3164.1L1868.9 3161.7L1884.4 3159.4L1899.8 3157.0L1915.3 3154.7L1930.8 3152.3L1946.3 3150.0L1961.8 3147.6L1977.3 3145.3L1992.8 3142.9L2008.2 3140.5L2023.7 3138.2L2039.2 3135.8L2054.7 3133.4L2070.2 3131.0L2085.7 3128.6L2101.1 3126.2L2116.6 3123.8L2132.1 3121.4L2147.6 3119.0L2163.1 3116.6L2178.6 3114.2L2194.0 3111.8L2209.5 3109.4L2225.0 3106.9L2225.0 3106.9"/>
<path d="M367.0 3585.6L367.0 3585.6L382.5 3583.7L398.0 3581.8L413.5 3580.0L428.9 3578.1L444.4 3576.2L459.9 3574.3L475.4 3572.4L490.9 3570.5L506.4 3568.6L521.8 3566.8L537.3 3564.9L552.8 3563.0L568.3 3561.0L583.8 3559.1L599.2 3557.2L614.7 3555.3L630.2 3553.4L645.7 3551.5L661.2 3549.6L676.7 3547.6L692.1 3545.7L707.6 3543.8L723.1 3541.8L738.6 3539.9L754.1 3538.0L769.6 3536.0L785.0 3534.1L800.5 3532.1L816.0 3530.2L831.5 3528.2L847.0 3526.3L862.5 3524.3L878.0 3522.4L893.4 3520.4L908.9 3518.4L924.4 3516.5L939.9 3514.5L955.4 3512.5L970.9 3510.5L986.3 3508.6L1001.8 3506.6L1017.3 3504.6L1032.8 3502.6L1048.3 3500.6L1063.8 3498.6L1079.2 3496.6L1094.7 3494.6L1110.2 3492.6L1125.7 3490.6L1141.2 3488.6L1156.7 3486.6L1172.1 3484.5L1187.6 3482.5L1203.1 3480.5L1218.6 3478.5L1234.1 3476.4L1249.5 3474.4L1265.0 3472.4L1280.5 3470.3L1296.0 3468.3L1311.5 3466.2L1327.0 3464.2L1342.5 3462.1L1357.9 3460.1L1373.4 3458.0L1388.9 3456.0L1404.4 3453.9L1419.9 3451.8L1435.3 3449.8L1450.8 3447.7L1466.3 3445.6L1481.8 3443.5L1497.3 3441.5L1512.8 3439.4L1528.2 3437.3L1543.7 3435.2L1559.2 3433.1L1574.7 3431.0L1590.2 3428.9L1605.7 3426.8L1621.2 3424.7L1636.6 3422.6L1652.1 3420.5L1667.6 3418.3L1683.1 3416.2L1698.6 3414.1L1714.0 3412.0L1729.5 3409.8L1745.0 3407.7L1760.5 3405.6L1776.0 3403.4L1791.5 3401.3L1807.0 3399.1L1822.4 3397.0L1837.9 3394.8L1853.4 3392.7L1868.9 3390.5L1884.4 3388.3L1899.8 3386.2L1915.3 3384.0L1930.8 3381.8L1946.3 3379.6L1961.8 3377.5L1977.3 3375.3L1992.8 3373.1L2008.2 3370.9L2023.7 3368.7L2039.2 3366.5L2054.7 3364.3L2070.2 3362.1L2085.7 3359.9L2101.1 3357.7L2116.6 3355.5L2132.1 3353.2L2147.6 3351.0L2163.1 3348.8L2178.6 3346.6L2194.0 3344.3L2209.5 3342.1L2225.0 3339.9L2225.0 3339.9"/>
<path d="M367.0 3798.3L367.0 3798.3L382.5 3796.6L398.0 3794.9L413.5 3793.2L428.9 3791.5L444.4 3789.7L459.9 3788.0L475.4 3786.3L490.9 3784.5L506.4 3782.8L521.8 3781.1L537.3 3779.3L552.8 3777.6L568.3 3775.8L583.8 3774.1L599.2 3772.3L614.7 3770.6L630.2 3768.8L645.7 3767.0L661.2 3765.3L676.7 3763.5L692.1 3761.7L707.6 3760.0L723.1 3758.2L738.6 3756.4L754.1 3754.6L769.6 3752.9L785.0 3751.1L800.5 3749.3L816.0 3747.5L831.5 3745.7L847.0 3743.9L862.5 3742.1L878.0 3740.3L893.4 3738.5L908.9 3736.7L924.4 3734.9L939.9 3733.1L955.4 3731.3L970.9 3729.4L986.3 3727.6L1001.8 3725.8L1017.3 3724.0L1032.8 3722.2L1048.3 3720.3L1063.8 3718.5L1079.2 3716.7L1094.7 3714.8L1110.2 3713.0L1125.7 3711.1L1141.2 3709.3L1156.7 3707.4L1172.1 3705.6L1187.6 3703.7L1203.1 3701.9L1218.6 3700.0L1234.1 3698.1L1249.5 3696.3L1265.0 3694.4L1280.5 3692.5L1296.0 3690.7L1311.5 3688.8L1327.0 3686.9L1342.5 3685.0L1357.9 3683.1L1373.4 3681.2L1388.9 3679.4L1404.4 3677.5L1419.9 3675.6L1435.3 3673.7L1450.8 3671.8L1466.3 3669.9L1481.8 3667.9L1497.3 3666.0L1512.8 3664.1L1528.2 3662.2L1543.7 3660.3L1559.2 3658.4L1574.7 3656.4L1590.2 3654.5L1605.7 3652.6L1621.2 3650.6L1636.6 3648.7L1652.1 3646.8L1667.6 3644.8L1683.1 3642.9L1698.6 3640.9L1714.0 3639.0L1729.5 3637.0L1745.0 3635.0L1760.5 3633.1L1776.0 3631.1L1791.5 3629.2L1807.0 3627.2L1822.4 3625.2L1837.9 3623.2L1853.4 3621.2L1868.9 3619.3L1884.4 3617.3L1899.8 3615.3L1915.3 3613.3L1930.8 3611.3L1946.3 3609.3L1961.8 3607.3L1977.3 3605.3L1992.8 3603.3L2008.2 3601.3L2023.7 3599.3L2039.2 3597.2L2054.7 3595.2L2070.2 3593.2L2085.7 3591.2L2101.1 3589.1L2116.6 3587.1L2132.1 3585.1L2147.6 3583.0L2163.1 3581.0L2178.6 3578.9L2194.0 3576.9L2209.5 3574.8L2225.0 3572.8L2225.0 3572.8"/>
<path d="M367.0 4011.1L367.0 4011.1L382.5 4009.5L398.0 4008.0L413.5 4006.4L428.9 4004.8L444.4 4003.3L459.9 4001.7L475.4 4000.1L490.9 3998.5L506.4 3996.9L521.8 3995.3L537.3 3993.8L552.8 3992.2L568.3 3990.6L583.8 3989.0L599.2 3987.4L614.7 3985.8L630.2 3984.2L645.7 3982.6L661.2 3981.0L676.7 3979.4L692.1 3977.8L707.6 3976.1L723.1 3974.5L738.6 3972.9L754.1 3971.3L769.6 3969.7L785.0 3968.0L800.5 3966.4L816.0 3964.8L831.5 3963.2L847.0 3961.5L862.5 3959.9L878.0 3958.2L893.4 3956.6L908.9 3955.0L924.4 3953.3L939.9 3951.7L955.4 3950.0L970.9 3948.4L986.3 3946.7L1001.8 3945.0L1017.3 3943.4L1032.8 3941.7L1048.3 3940.0L1063.8 3938.4L1079.2 3936.7L1094.7 3935.0L1110.2 3933.4L1125.7 3931.7L1141.2 3930.0L1156.7 3928.3L1172.1 3926.6L1187.6 3924.9L1203.1 3923.2L1218.6 3921.6L1234.1 3919.9L1249.5 3918.2L1265.0 3916.5L1280.5 3914.8L1296.0 3913.0L1311.5 3911.3L1327.0 3909.6L1342.5 3907.9L1357.9 3906.2L1373.4 3904.5L1388.9 3902.7L1404.4 3901.0L1419.9 3899.3L1435.3 3897.6L1450.8 3895.8L1466.3 3894.1L1481.8 3892.4L1497.3 3890.6L1512.8 3888.9L1528.2 3887.1L1543.7 3885.4L1559.2 3883.6L1574.7 3881.9L1590.2 3880.1L1605.7 3878.4L1621.2 3876.6L1636.6 3874.8L1652.1 3873.1L1667.6 3871.3L1683.1 3869.5L1698.6 3867.7L1714.0 3866.0L1729.5 3864.2L1745.0 3862.4L1760.5 3860.6L1776.0 3858.8L1791.5 3857.0L1807.0 3855.2L1822.4 3853.4L1837.9 3851.6L1853.4 3849.8L1868.9 3848.0L1884.4 3846.2L1899.8 3844.4L1915.3 3842.6L1930.8 3840.8L1946.3 3839.0L1961.8 3837.1L1977.3 3835.3L1992.8 3833.5L2008.2 3831.6L2023.7 3829.8L2039.2 3828.0L2054.7 3826.1L2070.2 3824.3L2085.7 3822.4L2101.1 3820.6L2116.6 3818.7L2132.1 3816.9L2147.6 3815.0L2163.1 3813.2L2178.6 3811.3L2194.0 3809.4L2209.5 3807.6L2225.0 3805.7L2225.0 3805.7"/>
</g>
<ellipse cx="364.4" cy="3491.4" rx="16.2" ry="9.6" fill="#f00" stroke="#000" stroke-width="2"/>
<ellipse cx="2222.4" cy="3491.4" rx="16.2" ry="9.6" fill="#f00" stroke="#000" stroke-width="2"/>
<ellipse cx="1293.4" cy="2946.8" rx="16.2" ry="9.6" fill="#f00" stroke="#000" stroke-width="2"/>
<ellipse cx="1293.4" cy="4036.0" rx="16.2" ry="9.6" fill="#f00" stroke="#000" stroke-width="2"/>
<text id="cy0" class="n" style="font-size:33.70px" x="187.90" y="2957.40" textLength="109.82" lengthAdjust="spacingAndGlyphs">8.00</text>
<text id="cy1" class="n" style="font-size:33.70px" x="187.90" y="3229.70" textLength="109.82" lengthAdjust="spacingAndGlyphs">6.50</text>
<text id="cy2" class="n" style="font-size:33.70px" x="187.90" y="3502.00" textLength="109.82" lengthAdjust="spacingAndGlyphs">5.00</text>
<text id="cy3" class="n" style="font-size:33.70px" x="187.90" y="3774.30" textLength="109.82" lengthAdjust="spacingAndGlyphs">3.50</text>
<text id="cy4" class="n" style="font-size:33.70px" x="187.90" y="4046.60" textLength="109.82" lengthAdjust="spacingAndGlyphs">2.00</text>
<text id="cx0" class="n" style="font-size:33.70px" x="296.59" y="4108.00" textLength="138.82" lengthAdjust="spacingAndGlyphs">10.00</text>
<text id="cx1" class="n" style="font-size:33.70px" x="762.09" y="4108.00" textLength="137.82" lengthAdjust="spacingAndGlyphs">22.50</text>
<text id="cx2" class="n" style="font-size:33.70px" x="1226.59" y="4108.00" textLength="138.82" lengthAdjust="spacingAndGlyphs">35.00</text>
<text id="cx3" class="n" style="font-size:33.70px" x="1692.09" y="4108.00" textLength="137.82" lengthAdjust="spacingAndGlyphs">47.50</text>
<text id="cx4" class="n" style="font-size:33.70px" x="2155.59" y="4108.00" textLength="137.82" lengthAdjust="spacingAndGlyphs">60.00</text>
<rect x="964.6" y="3013.1" width="214.7" height="40.7" fill="#fff" stroke="#000" stroke-width="2"/><text id="cl0" class="n" style="font-size:37.00px" x="975.53" y="3049.90" textLength="196.48" lengthAdjust="spacingAndGlyphs">45.573</text>
<rect x="1168.5" y="3201.9" width="249.7" height="40.5" fill="#fff" stroke="#000" stroke-width="2"/><text id="cl1" class="n" style="font-size:37.00px" x="1180.44" y="3238.50" textLength="229.47" lengthAdjust="spacingAndGlyphs">57.8264</text>
<rect x="1184.9" y="3421.2" width="250.0" height="40.8" fill="#fff" stroke="#000" stroke-width="2"/><text id="cl2" class="n" style="font-size:37.00px" x="1196.84" y="3458.10" textLength="230.77" lengthAdjust="spacingAndGlyphs">70.0797</text>
<rect x="1232.3" y="3639.9" width="214.6" height="40.6" fill="#fff" stroke="#000" stroke-width="2"/><text id="cl3" class="n" style="font-size:37.00px" x="1244.24" y="3676.60" textLength="195.37" lengthAdjust="spacingAndGlyphs">82.333</text>
<rect x="1168.3" y="3867.8" width="249.5" height="40.6" fill="#fff" stroke="#000" stroke-width="2"/><text id="cl4" class="n" style="font-size:37.00px" x="1178.60" y="3904.50" textLength="230.91" lengthAdjust="spacingAndGlyphs">94.5864</text>
<text id="cxt" class="t" style="font-size:50.00px" x="736.00" y="4194.00" textLength="1118.70" lengthAdjust="spacingAndGlyphs">period of dissolution (minutes)</text>
<text id="cyt" class="t" style="font-size:46px;stroke-width:.3px" transform="translate(104.1 3794.30) rotate(-90) scale(1.45 1)" x="-3.86 4.23 22.67 30.75 42.16 50.25 68.08 76.17 85.41 103.88 111.97 129.77 158.12 175.95 191.11 206.27 215.51 223.60 241.40 259.23 277.70 285.79 304.23 322.70 331.95 343.30 367.10 378.51 406.15" y="0">initial biomass loading (wt%)</text>
<text id="ctag" class="t" style="font-size:49.00px" x="37.53" y="2955.10" textLength="66.94" lengthAdjust="spacingAndGlyphs">c)</text>
<g fill="#000"><rect x="1326" y="59.5" width="9" height="4"/><path d="M1751 59.5Q1771 69 1791 59.5Z"/><path d="M1754 1494Q1766 1497 1779 1494Z"/><rect x="1316" y="1494" width="12" height="1.5"/><rect x="1295" y="2926" width="10" height="11"/><path d="M1729 2926h7q17 9 35 0h7q-4 12.5-24 12.5t-25-12.5z"/></g>
</svg>
</body></html>
